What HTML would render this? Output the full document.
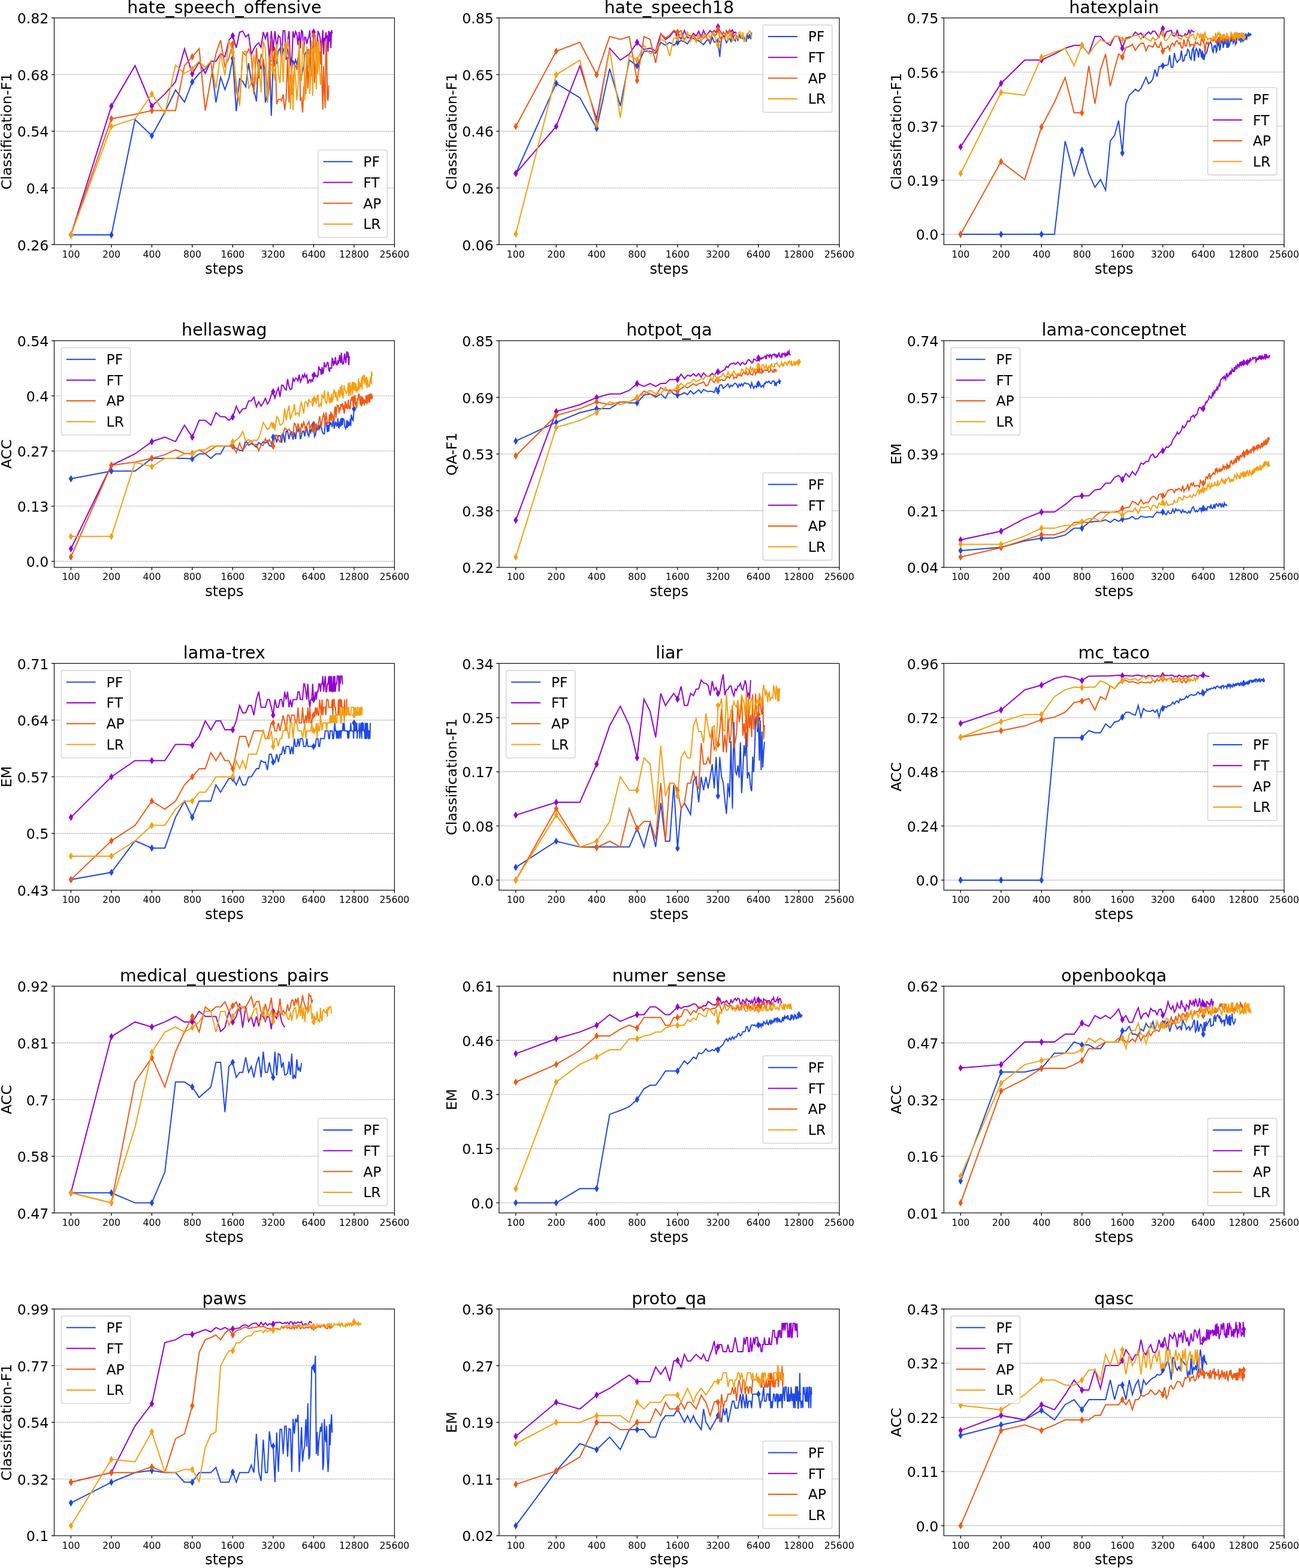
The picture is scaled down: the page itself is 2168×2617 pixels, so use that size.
<!DOCTYPE html><html><head><meta charset="utf-8"><style>html,body{margin:0;padding:0;background:#fff}svg{display:block}text{font-family:"DejaVu Sans","Liberation Sans",sans-serif;fill:#000}</style></head><body>
<svg width="2168" height="2617" viewBox="0 0 2168 2617">
<rect width="2168" height="2617" fill="#fff"/>
<g><clipPath id="c0"><rect x="90.5" y="29.9" width="567.9" height="378.4"/></clipPath><line x1="90.5" y1="313.7" x2="658.4" y2="313.7" stroke="#b0b0b0" stroke-width="1.1" stroke-dasharray="2.6,0.9"/><line x1="90.5" y1="219.1" x2="658.4" y2="219.1" stroke="#b0b0b0" stroke-width="1.1" stroke-dasharray="2.6,0.9"/><line x1="90.5" y1="124.5" x2="658.4" y2="124.5" stroke="#b0b0b0" stroke-width="1.1" stroke-dasharray="2.6,0.9"/><g clip-path="url(#c0)"><path d="M118.4,392.1 L185.9,392.1 L225.4,199.5 L253.4,226.5 L275.1,187.3 L292.9,150.2 L307.9,170.4 L320.9,136.7 L332.4,122.5 L342.6,115.0 L351.9,102.2 L360.4,171.1 L368.2,129.2 L375.4,149.5 L382.1,130.2 L388.4,97.5 L394.3,185.6 L399.9,131.6 L405.1,136.1 L410.1,144.8 L414.9,105.4 L419.4,136.5 L423.7,149.7 L427.9,169.1 L431.9,98.8 L435.7,115.6 L439.4,98.6 L442.9,171.1 L446.3,157.1 L449.6,95.7 L452.8,193.1 L455.9,101.5 L458.9,107.8 L461.8,105.8 L464.6,84.9 L467.4,80.8 L470.0,101.2 L472.6,81.8 L475.2,86.0 L477.6,88.1 L480.0,81.1 L482.4,98.0 L484.7,96.9 L486.9,118.4 L489.1,100.7 L491.2,107.1 L493.3,99.8 L495.4,108.3 L497.4,97.7 L499.4,89.5 L501.3,127.7 L503.2,127.6 L505.0,118.3 L506.9,110.8 L508.6,91.1 L510.4,87.6 L512.1,90.0 L513.8,82.1 L515.5,114.0 L517.1,95.0 L518.7,118.7 L520.3,94.3 L521.9,125.3 L523.4,79.9" fill="none" stroke="#1f48e6" stroke-width="2" stroke-linejoin="miter" stroke-miterlimit="4"/><path d="M118.4,386.0L122.1,392.1L118.4,398.2L114.7,392.1Z" fill="#1f48e6"/><path d="M185.9,386.0L189.6,392.1L185.9,398.2L182.2,392.1Z" fill="#1f48e6"/><path d="M253.4,220.4L257.1,226.5L253.4,232.6L249.7,226.5Z" fill="#1f48e6"/><path d="M320.9,130.6L324.6,136.7L320.9,142.8L317.2,136.7Z" fill="#1f48e6"/><path d="M388.4,91.4L392.1,97.5L388.4,103.6L384.7,97.5Z" fill="#1f48e6"/><path d="M455.9,95.4L459.6,101.5L455.9,107.6L452.2,101.5Z" fill="#1f48e6"/><path d="M523.4,73.8L527.1,79.9L523.4,86.0L519.7,79.9Z" fill="#1f48e6"/><path d="M118.4,392.1 L185.9,177.2 L225.4,109.6 L253.4,177.2 L275.1,156.9 L292.9,136.7 L307.9,81.3 L320.9,123.1 L332.4,103.6 L342.6,122.5 L351.9,102.2 L360.4,102.2 L368.2,89.4 L375.4,94.8 L382.1,67.2 L388.4,59.6 L394.3,79.7 L399.9,53.7 L405.1,51.9 L410.1,61.7 L414.9,57.4 L419.4,91.1 L423.7,81.2 L427.9,74.7 L431.9,71.7 L435.7,78.9 L439.4,53.3 L442.9,64.6 L446.3,53.6 L449.6,99.5 L452.8,51.7 L455.9,80.6 L458.9,51.8 L461.8,80.5 L464.6,59.3 L467.4,62.5 L470.0,93.3 L472.6,51.2 L475.2,51.5 L477.6,100.0 L480.0,68.1 L482.4,51.8 L484.7,107.1 L486.9,103.0 L489.1,52.1 L491.2,63.1 L493.3,52.5 L495.4,57.9 L497.4,75.2 L499.4,53.0 L501.3,80.8 L503.2,51.0 L505.0,53.1 L506.9,90.5 L508.6,61.8 L510.4,62.7 L512.1,73.3 L513.8,65.8 L515.5,60.9 L517.1,50.7 L518.7,82.9 L520.3,104.7 L521.9,105.6 L523.4,53.5 L524.9,59.5 L526.4,59.8 L527.9,79.9 L529.3,78.7 L530.7,51.6 L532.1,54.7 L533.5,59.7 L534.9,67.6 L536.2,89.7 L537.5,66.9 L538.8,50.4 L540.1,90.7 L541.4,62.9 L542.7,67.9 L543.9,54.1 L545.1,62.7 L546.3,60.7 L547.5,86.3 L548.7,51.2 L549.9,69.8 L551.0,52.8 L552.2,80.1 L553.3,50.3 L554.4,55.9" fill="none" stroke="#9400d3" stroke-width="2" stroke-linejoin="miter" stroke-miterlimit="4"/><path d="M118.4,386.0L122.1,392.1L118.4,398.2L114.7,392.1Z" fill="#9400d3"/><path d="M185.9,171.1L189.6,177.2L185.9,183.3L182.2,177.2Z" fill="#9400d3"/><path d="M253.4,171.1L257.1,177.2L253.4,183.3L249.7,177.2Z" fill="#9400d3"/><path d="M320.9,117.0L324.6,123.1L320.9,129.2L317.2,123.1Z" fill="#9400d3"/><path d="M388.4,53.5L392.1,59.6L388.4,65.7L384.7,59.6Z" fill="#9400d3"/><path d="M455.9,74.5L459.6,80.6L455.9,86.7L452.2,80.6Z" fill="#9400d3"/><path d="M523.4,47.4L527.1,53.5L523.4,59.6L519.7,53.5Z" fill="#9400d3"/><path d="M118.4,392.1 L185.9,198.2 L225.4,190.7 L253.4,184.6 L275.1,184.6 L292.9,184.6 L307.9,109.6 L320.9,94.8 L332.4,81.3 L342.6,184.6 L351.9,131.3 L360.4,89.4 L368.2,67.1 L375.4,111.0 L382.1,96.9 L388.4,73.1 L394.3,151.3 L399.9,172.4 L405.1,87.1 L410.1,92.7 L414.9,81.9 L419.4,91.8 L423.7,157.1 L427.9,79.5 L431.9,130.9 L435.7,90.1 L439.4,100.4 L442.9,117.9 L446.3,169.9 L449.6,140.4 L452.8,64.1 L455.9,108.3 L458.9,81.0 L461.8,173.9 L464.6,166.0 L467.4,165.4 L470.0,168.0 L472.6,157.5 L475.2,183.7 L477.6,163.7 L480.0,94.7 L482.4,170.8 L484.7,124.1 L486.9,158.5 L489.1,133.9 L491.2,116.6 L493.3,108.2 L495.4,116.6 L497.4,101.6 L499.4,76.4 L501.3,166.5 L503.2,163.7 L505.0,187.7 L506.9,149.9 L508.6,132.3 L510.4,157.2 L512.1,78.4 L513.8,147.9 L515.5,117.9 L517.1,83.6 L518.7,86.9 L520.3,128.0 L521.9,93.4 L523.4,59.6 L524.9,138.5 L526.4,111.6 L527.9,77.5 L529.3,123.7 L530.7,90.9 L532.1,90.9 L533.5,85.6 L534.9,107.6 L536.2,70.0 L537.5,144.1 L538.8,182.9 L540.1,110.5 L541.4,152.7 L542.7,180.2 L543.9,66.0 L545.1,78.6 L546.3,163.8 L547.5,167.9 L548.7,142.4" fill="none" stroke="#f05a14" stroke-width="2" stroke-linejoin="miter" stroke-miterlimit="4"/><path d="M118.4,386.0L122.1,392.1L118.4,398.2L114.7,392.1Z" fill="#f05a14"/><path d="M185.9,192.1L189.6,198.2L185.9,204.3L182.2,198.2Z" fill="#f05a14"/><path d="M253.4,178.5L257.1,184.6L253.4,190.7L249.7,184.6Z" fill="#f05a14"/><path d="M320.9,88.7L324.6,94.8L320.9,100.9L317.2,94.8Z" fill="#f05a14"/><path d="M388.4,67.0L392.1,73.1L388.4,79.2L384.7,73.1Z" fill="#f05a14"/><path d="M455.9,102.2L459.6,108.3L455.9,114.4L452.2,108.3Z" fill="#f05a14"/><path d="M523.4,53.5L527.1,59.6L523.4,65.7L519.7,59.6Z" fill="#f05a14"/><path d="M118.4,392.1 L185.9,211.0 L225.4,198.2 L253.4,156.9 L275.1,189.4 L292.9,109.0 L307.9,122.5 L320.9,115.0 L332.4,102.2 L342.6,113.0 L351.9,102.2 L360.4,147.5 L368.2,89.4 L375.4,125.9 L382.1,67.9 L388.4,87.3 L394.3,137.1 L399.9,176.9 L405.1,87.5 L410.1,85.6 L414.9,148.3 L419.4,138.0 L423.7,91.4 L427.9,141.5 L431.9,103.4 L435.7,154.3 L439.4,69.2 L442.9,81.6 L446.3,171.5 L449.6,98.4 L452.8,86.2 L455.9,117.7 L458.9,134.4 L461.8,72.8 L464.6,123.6 L467.4,138.8 L470.0,74.6 L472.6,137.1 L475.2,69.7 L477.6,95.7 L480.0,65.3 L482.4,79.3 L484.7,182.2 L486.9,104.3 L489.1,184.0 L491.2,108.8 L493.3,131.1 L495.4,167.4 L497.4,141.9 L499.4,68.4 L501.3,128.7 L503.2,134.7 L505.0,76.5 L506.9,66.5 L508.6,167.7 L510.4,118.6 L512.1,78.0 L513.8,110.6 L515.5,81.0 L517.1,157.1 L518.7,116.9 L520.3,67.4 L521.9,159.9 L523.4,84.0 L524.9,88.7 L526.4,59.4 L527.9,149.2 L529.3,68.7 L530.7,120.2 L532.1,66.3 L533.5,114.3 L534.9,141.7 L536.2,121.4" fill="none" stroke="#f5a013" stroke-width="2" stroke-linejoin="miter" stroke-miterlimit="4"/><path d="M118.4,386.0L122.1,392.1L118.4,398.2L114.7,392.1Z" fill="#f5a013"/><path d="M185.9,204.9L189.6,211.0L185.9,217.1L182.2,211.0Z" fill="#f5a013"/><path d="M253.4,150.8L257.1,156.9L253.4,163.0L249.7,156.9Z" fill="#f5a013"/><path d="M320.9,108.9L324.6,115.0L320.9,121.1L317.2,115.0Z" fill="#f5a013"/><path d="M388.4,81.2L392.1,87.3L388.4,93.4L384.7,87.3Z" fill="#f5a013"/><path d="M455.9,111.6L459.6,117.7L455.9,123.8L452.2,117.7Z" fill="#f5a013"/><path d="M523.4,77.9L527.1,84.0L523.4,90.1L519.7,84.0Z" fill="#f5a013"/></g><rect x="530.9" y="250.4" width="115.4" height="145.9" rx="3" ry="3" fill="#fff" fill-opacity="0.8" stroke="#d0d0d0" stroke-width="1.3"/><line x1="539.4" y1="269.8" x2="588.4" y2="269.8" stroke="#1f48e6" stroke-width="2"/><text x="606.3" y="278.1" font-size="23.4">PF</text><line x1="539.4" y1="304.5" x2="588.4" y2="304.5" stroke="#9400d3" stroke-width="2"/><text x="606.3" y="312.8" font-size="23.4">FT</text><line x1="539.4" y1="339.2" x2="588.4" y2="339.2" stroke="#f05a14" stroke-width="2"/><text x="606.3" y="347.5" font-size="23.4">AP</text><line x1="539.4" y1="373.9" x2="588.4" y2="373.9" stroke="#f5a013" stroke-width="2"/><text x="606.3" y="382.2" font-size="23.4">LR</text><rect x="90.5" y="29.9" width="567.9" height="378.4" fill="none" stroke="#1c1c1c" stroke-width="1.3"/><line x1="85.9" y1="408.3" x2="90.5" y2="408.3" stroke="#000" stroke-width="1.3"/><text x="81.4" y="417.6" font-size="23.6" text-anchor="end">0.26</text><line x1="85.9" y1="313.7" x2="90.5" y2="313.7" stroke="#000" stroke-width="1.3"/><text x="81.4" y="323.0" font-size="23.6" text-anchor="end">0.4</text><line x1="85.9" y1="219.1" x2="90.5" y2="219.1" stroke="#000" stroke-width="1.3"/><text x="81.4" y="228.4" font-size="23.6" text-anchor="end">0.54</text><line x1="85.9" y1="124.5" x2="90.5" y2="124.5" stroke="#000" stroke-width="1.3"/><text x="81.4" y="133.8" font-size="23.6" text-anchor="end">0.68</text><line x1="85.9" y1="29.9" x2="90.5" y2="29.9" stroke="#000" stroke-width="1.3"/><text x="81.4" y="39.2" font-size="23.6" text-anchor="end">0.82</text><line x1="118.4" y1="408.3" x2="118.4" y2="412.9" stroke="#000" stroke-width="1.3"/><text x="118.4" y="429.7" font-size="15.7" text-anchor="middle">100</text><line x1="185.9" y1="408.3" x2="185.9" y2="412.9" stroke="#000" stroke-width="1.3"/><text x="185.9" y="429.7" font-size="15.7" text-anchor="middle">200</text><line x1="253.4" y1="408.3" x2="253.4" y2="412.9" stroke="#000" stroke-width="1.3"/><text x="253.4" y="429.7" font-size="15.7" text-anchor="middle">400</text><line x1="320.9" y1="408.3" x2="320.9" y2="412.9" stroke="#000" stroke-width="1.3"/><text x="320.9" y="429.7" font-size="15.7" text-anchor="middle">800</text><line x1="388.4" y1="408.3" x2="388.4" y2="412.9" stroke="#000" stroke-width="1.3"/><text x="388.4" y="429.7" font-size="15.7" text-anchor="middle">1600</text><line x1="455.9" y1="408.3" x2="455.9" y2="412.9" stroke="#000" stroke-width="1.3"/><text x="455.9" y="429.7" font-size="15.7" text-anchor="middle">3200</text><line x1="523.4" y1="408.3" x2="523.4" y2="412.9" stroke="#000" stroke-width="1.3"/><text x="523.4" y="429.7" font-size="15.7" text-anchor="middle">6400</text><line x1="590.9" y1="408.3" x2="590.9" y2="412.9" stroke="#000" stroke-width="1.3"/><text x="590.9" y="429.7" font-size="15.7" text-anchor="middle">12800</text><line x1="658.4" y1="408.3" x2="658.4" y2="412.9" stroke="#000" stroke-width="1.3"/><text x="658.4" y="429.7" font-size="15.7" text-anchor="middle">25600</text><text x="374.4" y="456.5" font-size="24" text-anchor="middle">steps</text><text transform="translate(19.2,219.1) rotate(-90)" font-size="23.8" text-anchor="middle">Classification-F1</text><text x="374.4" y="21.7" font-size="28.5" text-anchor="middle">hate_speech_offensive</text></g>
<g><clipPath id="c1"><rect x="832.9" y="29.9" width="567.9" height="378.4"/></clipPath><line x1="832.9" y1="313.7" x2="1400.8" y2="313.7" stroke="#b0b0b0" stroke-width="1.1" stroke-dasharray="2.6,0.9"/><line x1="832.9" y1="219.1" x2="1400.8" y2="219.1" stroke="#b0b0b0" stroke-width="1.1" stroke-dasharray="2.6,0.9"/><line x1="832.9" y1="124.5" x2="1400.8" y2="124.5" stroke="#b0b0b0" stroke-width="1.1" stroke-dasharray="2.6,0.9"/><g clip-path="url(#c1)"><path d="M860.8,289.5 L928.3,139.1 L967.8,163.1 L995.8,214.3 L1017.5,114.7 L1035.3,176.9 L1050.3,100.3 L1063.3,109.9 L1074.8,85.5 L1085.0,85.5 L1094.3,88.8 L1102.8,70.6 L1110.6,75.4 L1117.8,70.6 L1124.5,75.4 L1130.8,70.6 L1136.7,67.9 L1142.3,69.8 L1147.5,73.2 L1152.5,64.6 L1157.3,64.1 L1161.8,68.0 L1166.1,67.8 L1170.3,71.4 L1174.3,74.5 L1178.1,69.0 L1181.8,65.7 L1185.3,72.9 L1188.7,62.2 L1192.0,70.1 L1195.2,69.9 L1198.3,69.2 L1201.3,95.0 L1204.2,61.9 L1207.0,59.7 L1209.8,63.2 L1212.4,71.3 L1215.0,66.9 L1217.6,64.2 L1220.0,69.5 L1222.4,57.3 L1224.8,65.5 L1227.1,68.3 L1229.3,58.6 L1231.5,68.4 L1233.6,56.7 L1235.7,63.3 L1237.8,61.7 L1239.8,64.5 L1241.8,62.3 L1243.7,66.5 L1245.6,68.4 L1247.4,56.4 L1249.3,65.3 L1251.0,57.3 L1252.8,65.4 L1254.5,54.3" fill="none" stroke="#1f48e6" stroke-width="2" stroke-linejoin="miter" stroke-miterlimit="4"/><path d="M860.8,283.4L864.5,289.5L860.8,295.6L857.1,289.5Z" fill="#1f48e6"/><path d="M928.3,133.0L932.0,139.1L928.3,145.2L924.6,139.1Z" fill="#1f48e6"/><path d="M995.8,208.2L999.5,214.3L995.8,220.4L992.1,214.3Z" fill="#1f48e6"/><path d="M1063.3,103.8L1067.0,109.9L1063.3,116.0L1059.6,109.9Z" fill="#1f48e6"/><path d="M1130.8,64.5L1134.5,70.6L1130.8,76.7L1127.1,70.6Z" fill="#1f48e6"/><path d="M1198.3,63.1L1202.0,69.2L1198.3,75.3L1194.6,69.2Z" fill="#1f48e6"/><path d="M860.8,289.5 L928.3,211.0 L967.8,109.9 L995.8,199.5 L1017.5,80.7 L1035.3,100.3 L1050.3,90.3 L1063.3,70.6 L1074.8,82.6 L1085.0,80.2 L1094.3,85.0 L1102.8,56.2 L1110.6,65.8 L1117.8,61.0 L1124.5,52.1 L1130.8,58.6 L1136.7,65.2 L1142.3,51.1 L1147.5,62.7 L1152.5,63.5 L1157.3,55.7 L1161.8,60.0 L1166.1,52.1 L1170.3,61.4 L1174.3,50.9 L1178.1,60.0 L1181.8,55.9 L1185.3,51.0 L1188.7,54.5 L1192.0,51.0 L1195.2,54.0 L1198.3,44.7 L1201.3,51.4 L1204.2,55.5 L1207.0,59.5 L1209.8,61.1 L1212.4,51.6 L1215.0,55.4 L1217.6,50.2 L1220.0,52.5 L1222.4,49.8 L1224.8,55.4 L1227.1,53.4 L1229.3,54.6" fill="none" stroke="#9400d3" stroke-width="2" stroke-linejoin="miter" stroke-miterlimit="4"/><path d="M860.8,283.4L864.5,289.5L860.8,295.6L857.1,289.5Z" fill="#9400d3"/><path d="M928.3,204.9L932.0,211.0L928.3,217.1L924.6,211.0Z" fill="#9400d3"/><path d="M995.8,193.4L999.5,199.5L995.8,205.6L992.1,199.5Z" fill="#9400d3"/><path d="M1063.3,64.5L1067.0,70.6L1063.3,76.7L1059.6,70.6Z" fill="#9400d3"/><path d="M1130.8,52.5L1134.5,58.6L1130.8,64.7L1127.1,58.6Z" fill="#9400d3"/><path d="M1198.3,38.6L1202.0,44.7L1198.3,50.8L1194.6,44.7Z" fill="#9400d3"/><path d="M860.8,211.0 L928.3,85.5 L967.8,70.6 L995.8,124.7 L1017.5,61.0 L1035.3,65.8 L1050.3,61.0 L1063.3,134.3 L1074.8,61.0 L1085.0,65.8 L1094.3,105.1 L1102.8,56.2 L1110.6,63.4 L1117.8,58.6 L1124.5,50.5 L1130.8,53.8 L1136.7,51.1 L1142.3,66.6 L1147.5,56.9 L1152.5,60.1 L1157.3,58.1 L1161.8,65.7 L1166.1,64.5 L1170.3,59.7 L1174.3,64.0 L1178.1,59.5 L1181.8,67.7 L1185.3,66.6 L1188.7,54.6 L1192.0,60.1 L1195.2,58.4 L1198.3,49.1 L1201.3,61.3 L1204.2,67.1 L1207.0,53.2 L1209.8,56.9 L1212.4,55.6 L1215.0,56.3 L1217.6,49.6 L1220.0,61.3 L1222.4,53.7 L1224.8,61.2 L1227.1,57.3 L1229.3,55.6" fill="none" stroke="#f05a14" stroke-width="2" stroke-linejoin="miter" stroke-miterlimit="4"/><path d="M860.8,204.9L864.5,211.0L860.8,217.1L857.1,211.0Z" fill="#f05a14"/><path d="M928.3,79.4L932.0,85.5L928.3,91.6L924.6,85.5Z" fill="#f05a14"/><path d="M995.8,118.6L999.5,124.7L995.8,130.8L992.1,124.7Z" fill="#f05a14"/><path d="M1063.3,128.2L1067.0,134.3L1063.3,140.4L1059.6,134.3Z" fill="#f05a14"/><path d="M1130.8,47.7L1134.5,53.8L1130.8,59.9L1127.1,53.8Z" fill="#f05a14"/><path d="M1198.3,43.0L1202.0,49.1L1198.3,55.2L1194.6,49.1Z" fill="#f05a14"/><path d="M860.8,390.6 L928.3,124.7 L967.8,100.3 L995.8,207.6 L1017.5,82.1 L1035.3,196.6 L1050.3,92.2 L1063.3,100.3 L1074.8,75.4 L1085.0,90.3 L1094.3,85.5 L1102.8,65.8 L1110.6,69.2 L1117.8,93.6 L1124.5,63.4 L1130.8,63.4 L1136.7,56.8 L1142.3,69.3 L1147.5,53.6 L1152.5,68.9 L1157.3,59.6 L1161.8,70.6 L1166.1,57.8 L1170.3,69.3 L1174.3,58.6 L1178.1,58.2 L1181.8,57.3 L1185.3,63.5 L1188.7,55.3 L1192.0,52.9 L1195.2,69.5 L1198.3,75.4 L1201.3,53.3 L1204.2,57.4 L1207.0,63.0 L1209.8,65.6 L1212.4,53.2 L1215.0,69.7 L1217.6,56.8 L1220.0,55.1 L1222.4,68.2 L1224.8,64.9 L1227.1,65.3 L1229.3,60.7 L1231.5,64.0 L1233.6,53.9 L1235.7,53.3 L1237.8,64.9 L1239.8,53.8 L1241.8,69.5 L1243.7,69.0 L1245.6,58.0 L1247.4,55.4 L1249.3,55.0 L1251.0,51.7 L1252.8,54.2 L1254.5,65.5" fill="none" stroke="#f5a013" stroke-width="2" stroke-linejoin="miter" stroke-miterlimit="4"/><path d="M860.8,384.5L864.5,390.6L860.8,396.7L857.1,390.6Z" fill="#f5a013"/><path d="M928.3,118.6L932.0,124.7L928.3,130.8L924.6,124.7Z" fill="#f5a013"/><path d="M995.8,201.5L999.5,207.6L995.8,213.7L992.1,207.6Z" fill="#f5a013"/><path d="M1063.3,94.2L1067.0,100.3L1063.3,106.4L1059.6,100.3Z" fill="#f5a013"/><path d="M1130.8,57.3L1134.5,63.4L1130.8,69.5L1127.1,63.4Z" fill="#f5a013"/><path d="M1198.3,69.3L1202.0,75.4L1198.3,81.5L1194.6,75.4Z" fill="#f5a013"/></g><rect x="1273.3" y="41.6" width="115.4" height="145.9" rx="3" ry="3" fill="#fff" fill-opacity="0.8" stroke="#d0d0d0" stroke-width="1.3"/><line x1="1281.8" y1="61.0" x2="1330.8" y2="61.0" stroke="#1f48e6" stroke-width="2"/><text x="1348.7" y="69.3" font-size="23.4">PF</text><line x1="1281.8" y1="95.7" x2="1330.8" y2="95.7" stroke="#9400d3" stroke-width="2"/><text x="1348.7" y="104.0" font-size="23.4">FT</text><line x1="1281.8" y1="130.4" x2="1330.8" y2="130.4" stroke="#f05a14" stroke-width="2"/><text x="1348.7" y="138.7" font-size="23.4">AP</text><line x1="1281.8" y1="165.1" x2="1330.8" y2="165.1" stroke="#f5a013" stroke-width="2"/><text x="1348.7" y="173.4" font-size="23.4">LR</text><rect x="832.9" y="29.9" width="567.9" height="378.4" fill="none" stroke="#1c1c1c" stroke-width="1.3"/><line x1="828.3" y1="408.3" x2="832.9" y2="408.3" stroke="#000" stroke-width="1.3"/><text x="823.8" y="417.6" font-size="23.6" text-anchor="end">0.06</text><line x1="828.3" y1="313.7" x2="832.9" y2="313.7" stroke="#000" stroke-width="1.3"/><text x="823.8" y="323.0" font-size="23.6" text-anchor="end">0.26</text><line x1="828.3" y1="219.1" x2="832.9" y2="219.1" stroke="#000" stroke-width="1.3"/><text x="823.8" y="228.4" font-size="23.6" text-anchor="end">0.46</text><line x1="828.3" y1="124.5" x2="832.9" y2="124.5" stroke="#000" stroke-width="1.3"/><text x="823.8" y="133.8" font-size="23.6" text-anchor="end">0.65</text><line x1="828.3" y1="29.9" x2="832.9" y2="29.9" stroke="#000" stroke-width="1.3"/><text x="823.8" y="39.2" font-size="23.6" text-anchor="end">0.85</text><line x1="860.8" y1="408.3" x2="860.8" y2="412.9" stroke="#000" stroke-width="1.3"/><text x="860.8" y="429.7" font-size="15.7" text-anchor="middle">100</text><line x1="928.3" y1="408.3" x2="928.3" y2="412.9" stroke="#000" stroke-width="1.3"/><text x="928.3" y="429.7" font-size="15.7" text-anchor="middle">200</text><line x1="995.8" y1="408.3" x2="995.8" y2="412.9" stroke="#000" stroke-width="1.3"/><text x="995.8" y="429.7" font-size="15.7" text-anchor="middle">400</text><line x1="1063.3" y1="408.3" x2="1063.3" y2="412.9" stroke="#000" stroke-width="1.3"/><text x="1063.3" y="429.7" font-size="15.7" text-anchor="middle">800</text><line x1="1130.8" y1="408.3" x2="1130.8" y2="412.9" stroke="#000" stroke-width="1.3"/><text x="1130.8" y="429.7" font-size="15.7" text-anchor="middle">1600</text><line x1="1198.3" y1="408.3" x2="1198.3" y2="412.9" stroke="#000" stroke-width="1.3"/><text x="1198.3" y="429.7" font-size="15.7" text-anchor="middle">3200</text><line x1="1265.8" y1="408.3" x2="1265.8" y2="412.9" stroke="#000" stroke-width="1.3"/><text x="1265.8" y="429.7" font-size="15.7" text-anchor="middle">6400</text><line x1="1333.3" y1="408.3" x2="1333.3" y2="412.9" stroke="#000" stroke-width="1.3"/><text x="1333.3" y="429.7" font-size="15.7" text-anchor="middle">12800</text><line x1="1400.8" y1="408.3" x2="1400.8" y2="412.9" stroke="#000" stroke-width="1.3"/><text x="1400.8" y="429.7" font-size="15.7" text-anchor="middle">25600</text><text x="1116.8" y="456.5" font-size="24" text-anchor="middle">steps</text><text transform="translate(761.6,219.1) rotate(-90)" font-size="23.8" text-anchor="middle">Classification-F1</text><text x="1116.8" y="21.7" font-size="28.5" text-anchor="middle">hate_speech18</text></g>
<g><clipPath id="c2"><rect x="1575.3" y="29.9" width="567.9" height="378.4"/></clipPath><line x1="1575.3" y1="391.1" x2="2143.2" y2="391.1" stroke="#b0b0b0" stroke-width="1.1" stroke-dasharray="2.6,0.9"/><line x1="1575.3" y1="300.8" x2="2143.2" y2="300.8" stroke="#b0b0b0" stroke-width="1.1" stroke-dasharray="2.6,0.9"/><line x1="1575.3" y1="210.5" x2="2143.2" y2="210.5" stroke="#b0b0b0" stroke-width="1.1" stroke-dasharray="2.6,0.9"/><line x1="1575.3" y1="120.2" x2="2143.2" y2="120.2" stroke="#b0b0b0" stroke-width="1.1" stroke-dasharray="2.6,0.9"/><g clip-path="url(#c2)"><path d="M1603.2,391.1 L1670.7,391.1 L1710.2,391.1 L1738.2,391.1 L1759.9,391.1 L1777.7,235.5 L1792.7,292.9 L1805.7,250.5 L1817.2,289.5 L1827.4,312.6 L1836.7,299.6 L1845.2,317.4 L1853.0,235.5 L1860.2,225.9 L1866.9,201.3 L1873.2,255.3 L1879.1,173.4 L1884.7,159.0 L1889.9,154.2 L1894.9,148.9 L1899.7,152.4 L1904.2,147.4 L1908.5,138.2 L1912.7,128.9 L1916.7,139.7 L1920.5,137.3 L1924.2,131.5 L1927.7,116.0 L1931.1,127.9 L1934.4,111.0 L1937.6,110.3 L1940.7,109.8 L1943.7,108.9 L1946.6,109.1 L1949.4,108.1 L1952.2,92.2 L1954.8,112.2 L1957.4,112.2 L1960.0,88.4 L1962.4,99.7 L1964.8,104.1 L1967.2,100.4 L1969.5,99.1 L1971.7,84.4 L1973.9,101.9 L1976.0,101.3 L1978.1,92.0 L1980.2,92.4 L1982.2,82.2 L1984.2,84.6 L1986.1,95.8 L1988.0,99.1 L1989.8,83.5 L1991.7,79.4 L1993.4,102.1 L1995.2,84.8 L1996.9,81.2 L1998.6,86.1 L2000.3,96.1 L2001.9,81.9 L2003.5,83.1 L2005.1,95.7 L2006.7,84.6 L2008.2,94.5 L2009.7,98.0 L2011.2,90.3 L2012.7,89.6 L2014.1,87.5 L2015.5,81.0 L2016.9,76.1 L2018.3,72.7 L2019.7,71.8 L2021.0,70.9 L2022.3,74.9 L2023.6,85.1 L2024.9,87.4 L2026.2,77.0 L2027.5,78.2 L2028.7,74.8 L2029.9,86.8 L2031.1,84.2 L2032.3,68.3 L2033.5,74.6 L2034.7,72.2 L2035.8,84.3 L2037.0,77.5 L2038.1,66.7 L2039.2,71.6 L2040.3,64.3 L2041.4,79.9 L2042.5,74.3 L2043.5,67.1 L2044.6,73.7 L2045.6,66.6 L2046.7,70.7 L2047.7,78.9 L2048.7,78.8 L2049.7,61.6 L2050.7,77.6 L2051.7,75.8 L2052.6,72.8 L2053.6,65.4 L2054.5,62.5 L2055.5,69.1 L2056.4,68.3 L2057.3,62.7 L2058.2,71.6 L2059.2,69.6 L2060.1,65.0 L2060.9,64.2 L2061.8,74.4 L2062.7,72.8 L2063.6,72.0 L2064.4,61.5 L2065.3,61.7 L2066.1,56.7 L2066.9,59.9 L2067.8,68.3 L2068.6,59.4 L2069.4,55.4 L2070.2,65.7 L2071.0,71.0 L2071.8,64.7 L2072.6,65.9 L2073.4,67.3 L2074.2,69.1 L2074.9,67.5 L2075.7,60.7 L2076.5,68.2 L2077.2,59.1 L2078.0,65.3 L2078.7,65.4 L2079.4,55.5 L2080.2,63.4 L2080.9,65.0 L2081.6,60.7 L2082.3,56.9 L2083.0,59.4 L2083.7,54.2 L2084.4,60.9 L2085.1,59.0 L2085.8,56.0 L2086.5,59.6 L2087.2,55.8 L2087.8,59.3" fill="none" stroke="#1f48e6" stroke-width="2" stroke-linejoin="miter" stroke-miterlimit="4"/><path d="M1603.2,385.0L1606.9,391.1L1603.2,397.2L1599.5,391.1Z" fill="#1f48e6"/><path d="M1670.7,385.0L1674.4,391.1L1670.7,397.2L1667.0,391.1Z" fill="#1f48e6"/><path d="M1738.2,385.0L1741.9,391.1L1738.2,397.2L1734.5,391.1Z" fill="#1f48e6"/><path d="M1805.7,244.4L1809.4,250.5L1805.7,256.6L1802.0,250.5Z" fill="#1f48e6"/><path d="M1873.2,249.2L1876.9,255.3L1873.2,261.4L1869.5,255.3Z" fill="#1f48e6"/><path d="M1940.7,103.7L1944.4,109.8L1940.7,115.9L1937.0,109.8Z" fill="#1f48e6"/><path d="M2008.2,88.4L2011.9,94.5L2008.2,100.6L2004.5,94.5Z" fill="#1f48e6"/><path d="M2075.7,54.6L2079.4,60.7L2075.7,66.8L2072.0,60.7Z" fill="#1f48e6"/><path d="M1603.2,245.2 L1670.7,139.2 L1710.2,100.2 L1738.2,100.2 L1759.9,90.1 L1777.7,80.5 L1792.7,75.7 L1805.7,75.7 L1817.2,90.1 L1827.4,60.7 L1836.7,60.7 L1845.2,70.8 L1853.0,75.7 L1860.2,60.7 L1866.9,60.7 L1873.2,80.5 L1879.1,63.7 L1884.7,61.9 L1889.9,60.6 L1894.9,53.5 L1899.7,58.0 L1904.2,55.2 L1908.5,62.2 L1912.7,57.3 L1916.7,53.2 L1920.5,56.8 L1924.2,51.8 L1927.7,52.3 L1931.1,58.1 L1934.4,62.2 L1937.6,53.4 L1940.7,47.7 L1943.7,61.7 L1946.6,53.3 L1949.4,51.9 L1952.2,51.8 L1954.8,50.4 L1957.4,58.9 L1960.0,60.2 L1962.4,59.7 L1964.8,49.7 L1967.2,59.6 L1969.5,58.9 L1971.7,60.4 L1973.9,60.0 L1976.0,60.0 L1978.1,56.3 L1980.2,58.4 L1982.2,56.7 L1984.2,49.4 L1986.1,58.1 L1988.0,50.6 L1989.8,51.4 L1991.7,53.3 L1993.4,53.1" fill="none" stroke="#9400d3" stroke-width="2" stroke-linejoin="miter" stroke-miterlimit="4"/><path d="M1603.2,239.1L1606.9,245.2L1603.2,251.3L1599.5,245.2Z" fill="#9400d3"/><path d="M1670.7,133.1L1674.4,139.2L1670.7,145.3L1667.0,139.2Z" fill="#9400d3"/><path d="M1738.2,94.1L1741.9,100.2L1738.2,106.3L1734.5,100.2Z" fill="#9400d3"/><path d="M1805.7,69.6L1809.4,75.7L1805.7,81.8L1802.0,75.7Z" fill="#9400d3"/><path d="M1873.2,74.4L1876.9,80.5L1873.2,86.6L1869.5,80.5Z" fill="#9400d3"/><path d="M1940.7,41.6L1944.4,47.7L1940.7,53.8L1937.0,47.7Z" fill="#9400d3"/><path d="M1603.2,391.1 L1670.7,269.7 L1710.2,299.6 L1738.2,211.9 L1759.9,170.5 L1777.7,129.6 L1792.7,188.3 L1805.7,188.3 L1817.2,109.8 L1827.4,173.4 L1836.7,116.6 L1845.2,90.1 L1853.0,144.0 L1860.2,114.7 L1866.9,90.1 L1873.2,95.4 L1879.1,79.1 L1884.7,77.7 L1889.9,74.1 L1894.9,84.0 L1899.7,76.9 L1904.2,72.3 L1908.5,71.9 L1912.7,84.8 L1916.7,76.3 L1920.5,76.8 L1924.2,78.6 L1927.7,70.5 L1931.1,77.9 L1934.4,79.2 L1937.6,70.7 L1940.7,85.3 L1943.7,81.0 L1946.6,80.4 L1949.4,76.9 L1952.2,83.8 L1954.8,74.3 L1957.4,71.9 L1960.0,76.5 L1962.4,69.4 L1964.8,67.8 L1967.2,73.4 L1969.5,71.1 L1971.7,79.6 L1973.9,80.2 L1976.0,65.6 L1978.1,76.0 L1980.2,76.8 L1982.2,66.1 L1984.2,68.1 L1986.1,77.3 L1988.0,74.0 L1989.8,74.9 L1991.7,74.2 L1993.4,77.8 L1995.2,69.9 L1996.9,72.9 L1998.6,71.3 L2000.3,74.1 L2001.9,75.0 L2003.5,75.8 L2005.1,63.5 L2006.7,65.1 L2008.2,66.0 L2009.7,73.6 L2011.2,90.1 L2012.7,73.3 L2014.1,70.4 L2015.5,73.8 L2016.9,70.6 L2018.3,71.4 L2019.7,71.4 L2021.0,65.0 L2022.3,67.5 L2023.6,67.1 L2024.9,68.6 L2026.2,66.0 L2027.5,62.5 L2028.7,68.8 L2029.9,71.8 L2031.1,66.2 L2032.3,67.4 L2033.5,62.0 L2034.7,70.7 L2035.8,60.6 L2037.0,71.7 L2038.1,64.7 L2039.2,65.8 L2040.3,67.4 L2041.4,59.9 L2042.5,62.2 L2043.5,69.0 L2044.6,64.6 L2045.6,63.0 L2046.7,70.2 L2047.7,69.4 L2048.7,62.8 L2049.7,61.1 L2050.7,64.3 L2051.7,64.8 L2052.6,63.6 L2053.6,66.5 L2054.5,58.8 L2055.5,57.7 L2056.4,63.5 L2057.3,69.1 L2058.2,64.3 L2059.2,59.3 L2060.1,65.0 L2060.9,67.6 L2061.8,66.5 L2062.7,60.0 L2063.6,61.0 L2064.4,65.0 L2065.3,60.8 L2066.1,59.1 L2066.9,56.6 L2067.8,58.1 L2068.6,62.7 L2069.4,58.2 L2070.2,56.8 L2071.0,57.4 L2071.8,58.7 L2072.6,60.5 L2073.4,61.3 L2074.2,57.3 L2074.9,59.8 L2075.7,62.6" fill="none" stroke="#f05a14" stroke-width="2" stroke-linejoin="miter" stroke-miterlimit="4"/><path d="M1603.2,385.0L1606.9,391.1L1603.2,397.2L1599.5,391.1Z" fill="#f05a14"/><path d="M1670.7,263.6L1674.4,269.7L1670.7,275.8L1667.0,269.7Z" fill="#f05a14"/><path d="M1738.2,205.8L1741.9,211.9L1738.2,218.0L1734.5,211.9Z" fill="#f05a14"/><path d="M1805.7,182.2L1809.4,188.3L1805.7,194.4L1802.0,188.3Z" fill="#f05a14"/><path d="M1873.2,89.3L1876.9,95.4L1873.2,101.5L1869.5,95.4Z" fill="#f05a14"/><path d="M1940.7,79.2L1944.4,85.3L1940.7,91.4L1937.0,85.3Z" fill="#f05a14"/><path d="M2008.2,59.9L2011.9,66.0L2008.2,72.1L2004.5,66.0Z" fill="#f05a14"/><path d="M2075.7,56.5L2079.4,62.6L2075.7,68.7L2072.0,62.6Z" fill="#f05a14"/><path d="M1603.2,289.5 L1670.7,154.2 L1710.2,159.0 L1738.2,95.4 L1759.9,87.2 L1777.7,80.5 L1792.7,109.8 L1805.7,75.7 L1817.2,90.1 L1827.4,75.7 L1836.7,66.0 L1845.2,70.8 L1853.0,70.8 L1860.2,60.7 L1866.9,60.7 L1873.2,66.0 L1879.1,65.6 L1884.7,64.3 L1889.9,60.2 L1894.9,59.0 L1899.7,58.9 L1904.2,66.0 L1908.5,57.2 L1912.7,64.5 L1916.7,65.9 L1920.5,68.6 L1924.2,62.3 L1927.7,67.2 L1931.1,65.2 L1934.4,60.1 L1937.6,57.5 L1940.7,55.9 L1943.7,67.2 L1946.6,67.5 L1949.4,64.7 L1952.2,60.5 L1954.8,56.3 L1957.4,56.9 L1960.0,54.9 L1962.4,59.9 L1964.8,59.2 L1967.2,64.2 L1969.5,63.9 L1971.7,65.5 L1973.9,60.7 L1976.0,59.7 L1978.1,60.1 L1980.2,62.8 L1982.2,62.3 L1984.2,64.8 L1986.1,56.7 L1988.0,60.0 L1989.8,57.6 L1991.7,56.7 L1993.4,64.4 L1995.2,66.7 L1996.9,64.3 L1998.6,55.3 L2000.3,57.0 L2001.9,62.6 L2003.5,57.2 L2005.1,63.5 L2006.7,55.9 L2008.2,62.6 L2009.7,57.7 L2011.2,54.3 L2012.7,62.4 L2014.1,61.8 L2015.5,66.5 L2016.9,64.5 L2018.3,65.0 L2019.7,64.1 L2021.0,67.4 L2022.3,64.1 L2023.6,66.9 L2024.9,60.8 L2026.2,62.6 L2027.5,65.1 L2028.7,54.8 L2029.9,64.0 L2031.1,60.7 L2032.3,55.5 L2033.5,57.5 L2034.7,54.5 L2035.8,59.6 L2037.0,55.8 L2038.1,67.5 L2039.2,57.8 L2040.3,63.6 L2041.4,63.8 L2042.5,57.3 L2043.5,57.7 L2044.6,63.5 L2045.6,63.2 L2046.7,64.4 L2047.7,54.9 L2048.7,59.5 L2049.7,64.7 L2050.7,60.7 L2051.7,67.6 L2052.6,64.5 L2053.6,61.2 L2054.5,54.4 L2055.5,56.0 L2056.4,60.5 L2057.3,57.4 L2058.2,64.8 L2059.2,58.4 L2060.1,54.0 L2060.9,66.2 L2061.8,55.0 L2062.7,54.2 L2063.6,63.1 L2064.4,56.7 L2065.3,54.1 L2066.1,66.3 L2066.9,61.7 L2067.8,59.8 L2068.6,57.0 L2069.4,64.6 L2070.2,57.6 L2071.0,58.3 L2071.8,56.0 L2072.6,57.8 L2073.4,56.0 L2074.2,59.7 L2074.9,60.6 L2075.7,61.8" fill="none" stroke="#f5a013" stroke-width="2" stroke-linejoin="miter" stroke-miterlimit="4"/><path d="M1603.2,283.4L1606.9,289.5L1603.2,295.6L1599.5,289.5Z" fill="#f5a013"/><path d="M1670.7,148.1L1674.4,154.2L1670.7,160.3L1667.0,154.2Z" fill="#f5a013"/><path d="M1738.2,89.3L1741.9,95.4L1738.2,101.5L1734.5,95.4Z" fill="#f5a013"/><path d="M1805.7,69.6L1809.4,75.7L1805.7,81.8L1802.0,75.7Z" fill="#f5a013"/><path d="M1873.2,59.9L1876.9,66.0L1873.2,72.1L1869.5,66.0Z" fill="#f5a013"/><path d="M1940.7,49.8L1944.4,55.9L1940.7,62.0L1937.0,55.9Z" fill="#f5a013"/><path d="M2008.2,56.5L2011.9,62.6L2008.2,68.7L2004.5,62.6Z" fill="#f5a013"/><path d="M2075.7,55.7L2079.4,61.8L2075.7,67.9L2072.0,61.8Z" fill="#f5a013"/></g><rect x="2015.7" y="146.1" width="115.4" height="145.9" rx="3" ry="3" fill="#fff" fill-opacity="0.8" stroke="#d0d0d0" stroke-width="1.3"/><line x1="2024.2" y1="165.5" x2="2073.2" y2="165.5" stroke="#1f48e6" stroke-width="2"/><text x="2091.1" y="173.8" font-size="23.4">PF</text><line x1="2024.2" y1="200.2" x2="2073.2" y2="200.2" stroke="#9400d3" stroke-width="2"/><text x="2091.1" y="208.6" font-size="23.4">FT</text><line x1="2024.2" y1="234.9" x2="2073.2" y2="234.9" stroke="#f05a14" stroke-width="2"/><text x="2091.1" y="243.2" font-size="23.4">AP</text><line x1="2024.2" y1="269.6" x2="2073.2" y2="269.6" stroke="#f5a013" stroke-width="2"/><text x="2091.1" y="277.9" font-size="23.4">LR</text><rect x="1575.3" y="29.9" width="567.9" height="378.4" fill="none" stroke="#1c1c1c" stroke-width="1.3"/><line x1="1570.7" y1="391.1" x2="1575.3" y2="391.1" stroke="#000" stroke-width="1.3"/><text x="1566.2" y="400.4" font-size="23.6" text-anchor="end">0.0</text><line x1="1570.7" y1="300.8" x2="1575.3" y2="300.8" stroke="#000" stroke-width="1.3"/><text x="1566.2" y="310.1" font-size="23.6" text-anchor="end">0.19</text><line x1="1570.7" y1="210.5" x2="1575.3" y2="210.5" stroke="#000" stroke-width="1.3"/><text x="1566.2" y="219.8" font-size="23.6" text-anchor="end">0.37</text><line x1="1570.7" y1="120.2" x2="1575.3" y2="120.2" stroke="#000" stroke-width="1.3"/><text x="1566.2" y="129.5" font-size="23.6" text-anchor="end">0.56</text><line x1="1570.7" y1="29.9" x2="1575.3" y2="29.9" stroke="#000" stroke-width="1.3"/><text x="1566.2" y="39.2" font-size="23.6" text-anchor="end">0.75</text><line x1="1603.2" y1="408.3" x2="1603.2" y2="412.9" stroke="#000" stroke-width="1.3"/><text x="1603.2" y="429.7" font-size="15.7" text-anchor="middle">100</text><line x1="1670.7" y1="408.3" x2="1670.7" y2="412.9" stroke="#000" stroke-width="1.3"/><text x="1670.7" y="429.7" font-size="15.7" text-anchor="middle">200</text><line x1="1738.2" y1="408.3" x2="1738.2" y2="412.9" stroke="#000" stroke-width="1.3"/><text x="1738.2" y="429.7" font-size="15.7" text-anchor="middle">400</text><line x1="1805.7" y1="408.3" x2="1805.7" y2="412.9" stroke="#000" stroke-width="1.3"/><text x="1805.7" y="429.7" font-size="15.7" text-anchor="middle">800</text><line x1="1873.2" y1="408.3" x2="1873.2" y2="412.9" stroke="#000" stroke-width="1.3"/><text x="1873.2" y="429.7" font-size="15.7" text-anchor="middle">1600</text><line x1="1940.7" y1="408.3" x2="1940.7" y2="412.9" stroke="#000" stroke-width="1.3"/><text x="1940.7" y="429.7" font-size="15.7" text-anchor="middle">3200</text><line x1="2008.2" y1="408.3" x2="2008.2" y2="412.9" stroke="#000" stroke-width="1.3"/><text x="2008.2" y="429.7" font-size="15.7" text-anchor="middle">6400</text><line x1="2075.7" y1="408.3" x2="2075.7" y2="412.9" stroke="#000" stroke-width="1.3"/><text x="2075.7" y="429.7" font-size="15.7" text-anchor="middle">12800</text><line x1="2143.2" y1="408.3" x2="2143.2" y2="412.9" stroke="#000" stroke-width="1.3"/><text x="2143.2" y="429.7" font-size="15.7" text-anchor="middle">25600</text><text x="1859.2" y="456.5" font-size="24" text-anchor="middle">steps</text><text transform="translate(1504.0,219.1) rotate(-90)" font-size="23.8" text-anchor="middle">Classification-F1</text><text x="1859.2" y="21.7" font-size="28.5" text-anchor="middle">hatexplain</text></g>
<g><clipPath id="c3"><rect x="90.5" y="568.6" width="567.9" height="378.4"/></clipPath><line x1="90.5" y1="936.9" x2="658.4" y2="936.9" stroke="#b0b0b0" stroke-width="1.1" stroke-dasharray="2.6,0.9"/><line x1="90.5" y1="844.8" x2="658.4" y2="844.8" stroke="#b0b0b0" stroke-width="1.1" stroke-dasharray="2.6,0.9"/><line x1="90.5" y1="752.8" x2="658.4" y2="752.8" stroke="#b0b0b0" stroke-width="1.1" stroke-dasharray="2.6,0.9"/><line x1="90.5" y1="660.7" x2="658.4" y2="660.7" stroke="#b0b0b0" stroke-width="1.1" stroke-dasharray="2.6,0.9"/><g clip-path="url(#c3)"><path d="M118.4,799.1 L185.9,786.2 L225.4,786.2 L253.4,765.0 L275.1,765.0 L292.9,765.0 L307.9,765.0 L320.9,765.7 L332.4,757.5 L342.6,757.5 L351.9,765.0 L360.4,757.5 L368.2,757.5 L375.4,744.6 L382.1,744.6 L388.4,744.6 L394.3,748.5 L399.9,751.5 L405.1,752.6 L410.1,735.9 L414.9,743.0 L419.4,740.2 L423.7,743.0 L427.9,746.4 L431.9,738.6 L435.7,741.7 L439.4,737.0 L442.9,739.4 L446.3,735.3 L449.6,743.8 L452.8,744.9 L455.9,729.6 L458.9,726.8 L461.8,738.4 L464.6,727.1 L467.4,727.3 L470.0,739.0 L472.6,722.7 L475.2,738.6 L477.6,719.9 L480.0,720.0 L482.4,733.1 L484.7,721.5 L486.9,721.0 L489.1,733.8 L491.2,721.4 L493.3,732.9 L495.4,715.3 L497.4,719.8 L499.4,713.0 L501.3,732.9 L503.2,726.7 L505.0,719.7 L506.9,719.6 L508.6,728.6 L510.4,712.8 L512.1,713.4 L513.8,724.9 L515.5,728.0 L517.1,716.3 L518.7,721.6 L520.3,715.7 L521.9,719.1 L523.4,708.4 L524.9,728.7 L526.4,725.9 L527.9,718.4 L529.3,712.2 L530.7,718.4 L532.1,711.1 L533.5,715.2 L534.9,707.4 L536.2,712.0 L537.5,719.0 L538.8,722.6 L540.1,723.9 L541.4,724.1 L542.7,705.9 L543.9,705.3 L545.1,707.7 L546.3,721.4 L547.5,709.0 L548.7,720.4 L549.9,703.5 L551.0,708.3 L552.2,705.9 L553.3,708.7 L554.4,712.6 L555.5,702.9 L556.6,700.2 L557.7,715.6 L558.7,711.1 L559.8,704.4 L560.8,705.3 L561.9,710.9 L562.9,709.8 L563.9,698.2 L564.9,713.1 L565.9,714.2 L566.9,703.6 L567.8,712.3 L568.8,698.5 L569.7,710.7 L570.7,697.4 L571.6,709.1 L572.5,697.8 L573.4,700.5 L574.4,700.7 L575.3,711.8 L576.1,712.7 L577.0,715.3 L577.9,711.9 L578.8,701.0 L579.6,714.0 L580.5,710.0 L581.3,702.6 L582.1,711.3 L583.0,707.3 L583.8,709.3 L584.6,699.3 L585.4,711.3 L586.2,691.9 L587.0,700.4 L587.8,697.7 L588.6,701.0 L589.4,702.0 L590.1,691.5 L590.9,682.5" fill="none" stroke="#1f48e6" stroke-width="2" stroke-linejoin="miter" stroke-miterlimit="4"/><path d="M118.4,793.0L122.1,799.1L118.4,805.2L114.7,799.1Z" fill="#1f48e6"/><path d="M185.9,780.1L189.6,786.2L185.9,792.3L182.2,786.2Z" fill="#1f48e6"/><path d="M253.4,758.9L257.1,765.0L253.4,771.1L249.7,765.0Z" fill="#1f48e6"/><path d="M320.9,759.6L324.6,765.7L320.9,771.8L317.2,765.7Z" fill="#1f48e6"/><path d="M388.4,738.5L392.1,744.6L388.4,750.7L384.7,744.6Z" fill="#1f48e6"/><path d="M455.9,723.5L459.6,729.6L455.9,735.7L452.2,729.6Z" fill="#1f48e6"/><path d="M523.4,702.3L527.1,708.4L523.4,714.5L519.7,708.4Z" fill="#1f48e6"/><path d="M590.9,676.4L594.6,682.5L590.9,688.6L587.2,682.5Z" fill="#1f48e6"/><path d="M118.4,915.8 L185.9,776.6 L225.4,757.5 L253.4,737.1 L275.1,729.6 L292.9,737.1 L307.9,709.8 L320.9,729.6 L332.4,701.6 L342.6,701.6 L351.9,709.8 L360.4,688.6 L368.2,695.5 L375.4,695.5 L382.1,701.6 L388.4,696.1 L394.3,678.1 L399.9,689.7 L405.1,682.4 L410.1,681.9 L414.9,669.1 L419.4,668.9 L423.7,662.8 L427.9,679.0 L431.9,670.4 L435.7,677.7 L439.4,672.3 L442.9,664.9 L446.3,674.2 L449.6,669.3 L452.8,658.4 L455.9,653.9 L458.9,664.4 L461.8,654.1 L464.6,647.1 L467.4,662.4 L470.0,642.9 L472.6,643.2 L475.2,649.0 L477.6,651.1 L480.0,632.7 L482.4,645.4 L484.7,649.9 L486.9,649.0 L489.1,631.8 L491.2,636.3 L493.3,631.1 L495.4,632.0 L497.4,635.5 L499.4,625.2 L501.3,637.5 L503.2,633.0 L505.0,626.2 L506.9,630.2 L508.6,624.2 L510.4,629.7 L512.1,626.3 L513.8,640.1 L515.5,635.5 L517.1,633.5 L518.7,637.5 L520.3,633.6 L521.9,635.9 L523.4,626.6 L524.9,622.7 L526.4,627.6 L527.9,626.6 L529.3,629.2 L530.7,627.1 L532.1,611.6 L533.5,617.0 L534.9,617.0 L536.2,625.7 L537.5,612.7 L538.8,624.2 L540.1,618.7 L541.4,604.6 L542.7,611.4 L543.9,612.5 L545.1,608.9 L546.3,604.8 L547.5,605.6 L548.7,616.9 L549.9,620.5 L551.0,613.7 L552.2,614.1 L553.3,614.7 L554.4,598.2 L555.5,599.0 L556.6,610.7 L557.7,602.6 L558.7,607.7 L559.8,595.8 L560.8,605.2 L561.9,608.9 L562.9,608.7 L563.9,601.3 L564.9,607.2 L565.9,599.7 L566.9,592.3 L567.8,602.6 L568.8,606.1 L569.7,588.5 L570.7,598.7 L571.6,607.3 L572.5,607.7 L573.4,605.9 L574.4,594.1 L575.3,590.0 L576.1,597.6 L577.0,605.8 L577.9,599.3 L578.8,586.4 L579.6,597.0 L580.5,587.8 L581.3,590.6 L582.1,609.5 L583.0,594.5" fill="none" stroke="#9400d3" stroke-width="2" stroke-linejoin="miter" stroke-miterlimit="4"/><path d="M118.4,909.7L122.1,915.8L118.4,921.9L114.7,915.8Z" fill="#9400d3"/><path d="M185.9,770.5L189.6,776.6L185.9,782.7L182.2,776.6Z" fill="#9400d3"/><path d="M253.4,731.0L257.1,737.1L253.4,743.2L249.7,737.1Z" fill="#9400d3"/><path d="M320.9,723.5L324.6,729.6L320.9,735.7L317.2,729.6Z" fill="#9400d3"/><path d="M388.4,690.0L392.1,696.1L388.4,702.2L384.7,696.1Z" fill="#9400d3"/><path d="M455.9,647.8L459.6,653.9L455.9,660.0L452.2,653.9Z" fill="#9400d3"/><path d="M523.4,620.5L527.1,626.6L523.4,632.7L519.7,626.6Z" fill="#9400d3"/><path d="M118.4,929.4 L185.9,776.6 L225.4,771.2 L253.4,765.0 L275.1,758.9 L292.9,750.7 L307.9,756.8 L320.9,756.8 L332.4,750.7 L342.6,756.8 L351.9,750.7 L360.4,744.6 L368.2,744.6 L375.4,744.6 L382.1,744.6 L388.4,744.6 L394.3,755.3 L399.9,739.5 L405.1,751.9 L410.1,744.0 L414.9,738.8 L419.4,735.5 L423.7,743.0 L427.9,741.6 L431.9,752.4 L435.7,742.5 L439.4,743.5 L442.9,732.1 L446.3,738.9 L449.6,733.7 L452.8,740.9 L455.9,744.6 L458.9,728.2 L461.8,726.1 L464.6,733.8 L467.4,737.7 L470.0,725.5 L472.6,723.4 L475.2,714.7 L477.6,716.4 L480.0,718.1 L482.4,716.2 L484.7,720.5 L486.9,727.7 L489.1,727.1 L491.2,706.4 L493.3,708.4 L495.4,720.7 L497.4,706.7 L499.4,714.9 L501.3,724.3 L503.2,706.6 L505.0,712.6 L506.9,704.3 L508.6,709.9 L510.4,723.2 L512.1,710.7 L513.8,706.6 L515.5,703.8 L517.1,716.7 L518.7,711.9 L520.3,707.6 L521.9,719.8 L523.4,716.6 L524.9,704.4 L526.4,720.4 L527.9,706.9 L529.3,711.2 L530.7,714.5 L532.1,703.9 L533.5,694.6 L534.9,703.4 L536.2,712.8 L537.5,703.1 L538.8,695.7 L540.1,690.8 L541.4,695.5 L542.7,710.4 L543.9,688.1 L545.1,695.8 L546.3,707.1 L547.5,705.4 L548.7,705.6 L549.9,691.5 L551.0,702.7 L552.2,686.9 L553.3,702.4 L554.4,691.8 L555.5,693.3 L556.6,702.1 L557.7,702.2 L558.7,680.7 L559.8,678.4 L560.8,697.5 L561.9,682.8 L562.9,676.3 L563.9,677.6 L564.9,677.5 L565.9,689.6 L566.9,680.2 L567.8,684.7 L568.8,673.9 L569.7,678.8 L570.7,675.0 L571.6,674.1 L572.5,684.5 L573.4,676.4 L574.4,690.2 L575.3,687.0 L576.1,669.6 L577.0,681.4 L577.9,674.4 L578.8,676.4 L579.6,683.2 L580.5,675.1 L581.3,667.1 L582.1,680.1 L583.0,679.2 L583.8,682.4 L584.6,682.1 L585.4,666.6 L586.2,668.9 L587.0,662.4 L587.8,668.8 L588.6,661.6 L589.4,678.3 L590.1,678.6 L590.9,666.1 L591.7,673.4 L592.4,659.1 L593.2,676.5 L593.9,670.9 L594.6,679.8 L595.4,680.4 L596.1,668.1 L596.8,666.3 L597.5,668.5 L598.2,658.9 L598.9,659.9 L599.6,657.6 L600.3,666.0 L601.0,673.1 L601.7,675.9 L602.4,661.0 L603.0,674.9 L603.7,678.1 L604.4,661.8 L605.0,674.9 L605.7,663.2 L606.3,672.7 L607.0,667.3 L607.6,676.6 L608.3,668.0 L608.9,668.9 L609.5,670.3 L610.2,673.0 L610.8,662.6 L611.4,659.7 L612.0,670.9 L612.6,674.3 L613.2,668.9 L613.8,658.7 L614.4,668.4 L615.0,659.5 L615.6,672.6 L616.2,657.8 L616.8,670.7 L617.4,668.6 L618.0,656.7 L618.5,662.4 L619.1,658.3 L619.7,666.4 L620.2,657.3 L620.8,665.7 L621.4,661.3 L621.9,662.0" fill="none" stroke="#f05a14" stroke-width="2" stroke-linejoin="miter" stroke-miterlimit="4"/><path d="M118.4,923.3L122.1,929.4L118.4,935.5L114.7,929.4Z" fill="#f05a14"/><path d="M185.9,770.5L189.6,776.6L185.9,782.7L182.2,776.6Z" fill="#f05a14"/><path d="M253.4,758.9L257.1,765.0L253.4,771.1L249.7,765.0Z" fill="#f05a14"/><path d="M320.9,750.7L324.6,756.8L320.9,762.9L317.2,756.8Z" fill="#f05a14"/><path d="M388.4,738.5L392.1,744.6L388.4,750.7L384.7,744.6Z" fill="#f05a14"/><path d="M455.9,738.5L459.6,744.6L455.9,750.7L452.2,744.6Z" fill="#f05a14"/><path d="M523.4,710.5L527.1,716.6L523.4,722.7L519.7,716.6Z" fill="#f05a14"/><path d="M590.9,660.0L594.6,666.1L590.9,672.2L587.2,666.1Z" fill="#f05a14"/><path d="M118.4,895.3 L185.9,895.3 L225.4,771.8 L253.4,778.7 L275.1,765.0 L292.9,765.0 L307.9,757.5 L320.9,757.5 L332.4,750.7 L342.6,750.7 L351.9,744.6 L360.4,744.6 L368.2,744.6 L375.4,744.6 L382.1,744.6 L388.4,737.7 L394.3,734.7 L399.9,729.7 L405.1,720.0 L410.1,736.4 L414.9,733.8 L419.4,737.7 L423.7,734.2 L427.9,735.9 L431.9,731.0 L435.7,719.5 L439.4,705.1 L442.9,710.8 L446.3,717.0 L449.6,714.4 L452.8,705.2 L455.9,709.8 L458.9,717.1 L461.8,694.9 L464.6,698.5 L467.4,709.5 L470.0,708.5 L472.6,705.8 L475.2,681.4 L477.6,701.5 L480.0,687.0 L482.4,677.1 L484.7,700.3 L486.9,690.2 L489.1,686.8 L491.2,674.5 L493.3,692.4 L495.4,689.7 L497.4,689.1 L499.4,693.3 L501.3,676.3 L503.2,671.7 L505.0,680.8 L506.9,690.3 L508.6,672.0 L510.4,670.6 L512.1,672.0 L513.8,679.6 L515.5,665.9 L517.1,670.3 L518.7,670.7 L520.3,671.2 L521.9,678.5 L523.4,667.5 L524.9,662.8 L526.4,665.1 L527.9,673.3 L529.3,660.5 L530.7,659.5 L532.1,679.6 L533.5,676.2 L534.9,674.0 L536.2,679.0 L537.5,659.3 L538.8,661.6 L540.1,663.9 L541.4,651.7 L542.7,667.8 L543.9,671.5 L545.1,673.3 L546.3,666.9 L547.5,653.6 L548.7,659.2 L549.9,673.0 L551.0,662.9 L552.2,672.4 L553.3,657.1 L554.4,669.7 L555.5,667.9 L556.6,655.5 L557.7,650.1 L558.7,655.3 L559.8,663.4 L560.8,653.9 L561.9,663.2 L562.9,669.7 L563.9,662.4 L564.9,651.4 L565.9,652.6 L566.9,663.5 L567.8,646.4 L568.8,646.3 L569.7,660.2 L570.7,642.2 L571.6,660.0 L572.5,664.8 L573.4,652.9 L574.4,643.4 L575.3,650.0 L576.1,651.1 L577.0,652.3 L577.9,657.2 L578.8,656.5 L579.6,653.5 L580.5,649.5 L581.3,638.9 L582.1,661.2 L583.0,656.3 L583.8,638.1 L584.6,645.2 L585.4,660.0 L586.2,650.2 L587.0,644.5 L587.8,637.5 L588.6,658.6 L589.4,637.2 L590.1,640.3 L590.9,646.4 L591.7,645.8 L592.4,637.8 L593.2,652.5 L593.9,640.2 L594.6,643.4 L595.4,655.6 L596.1,650.1 L596.8,646.1 L597.5,652.7 L598.2,631.5 L598.9,649.1 L599.6,649.2 L600.3,639.3 L601.0,640.8 L601.7,645.8 L602.4,645.3 L603.0,640.4 L603.7,629.4 L604.4,650.5 L605.0,628.6 L605.7,627.5 L606.3,633.8 L607.0,630.3 L607.6,640.9 L608.3,625.5 L608.9,630.9 L609.5,631.9 L610.2,637.8 L610.8,643.3 L611.4,630.8 L612.0,629.3 L612.6,647.9 L613.2,639.6 L613.8,633.5 L614.4,641.6 L615.0,643.4 L615.6,641.5 L616.2,645.7 L616.8,642.6 L617.4,635.3 L618.0,632.1 L618.5,628.3 L619.1,636.5 L619.7,640.9 L620.2,620.0 L620.8,627.2 L621.4,625.7 L621.9,625.1" fill="none" stroke="#f5a013" stroke-width="2" stroke-linejoin="miter" stroke-miterlimit="4"/><path d="M118.4,889.2L122.1,895.3L118.4,901.4L114.7,895.3Z" fill="#f5a013"/><path d="M185.9,889.2L189.6,895.3L185.9,901.4L182.2,895.3Z" fill="#f5a013"/><path d="M253.4,772.6L257.1,778.7L253.4,784.8L249.7,778.7Z" fill="#f5a013"/><path d="M320.9,751.4L324.6,757.5L320.9,763.6L317.2,757.5Z" fill="#f5a013"/><path d="M388.4,731.6L392.1,737.7L388.4,743.8L384.7,737.7Z" fill="#f5a013"/><path d="M455.9,703.7L459.6,709.8L455.9,715.9L452.2,709.8Z" fill="#f5a013"/><path d="M523.4,661.4L527.1,667.5L523.4,673.6L519.7,667.5Z" fill="#f5a013"/><path d="M590.9,640.3L594.6,646.4L590.9,652.5L587.2,646.4Z" fill="#f5a013"/></g><rect x="102.2" y="580.3" width="115.4" height="145.9" rx="3" ry="3" fill="#fff" fill-opacity="0.8" stroke="#d0d0d0" stroke-width="1.3"/><line x1="110.7" y1="599.7" x2="159.7" y2="599.7" stroke="#1f48e6" stroke-width="2"/><text x="177.6" y="608.0" font-size="23.4">PF</text><line x1="110.7" y1="634.4" x2="159.7" y2="634.4" stroke="#9400d3" stroke-width="2"/><text x="177.6" y="642.7" font-size="23.4">FT</text><line x1="110.7" y1="669.1" x2="159.7" y2="669.1" stroke="#f05a14" stroke-width="2"/><text x="177.6" y="677.4" font-size="23.4">AP</text><line x1="110.7" y1="703.8" x2="159.7" y2="703.8" stroke="#f5a013" stroke-width="2"/><text x="177.6" y="712.1" font-size="23.4">LR</text><rect x="90.5" y="568.6" width="567.9" height="378.4" fill="none" stroke="#1c1c1c" stroke-width="1.3"/><line x1="85.9" y1="936.9" x2="90.5" y2="936.9" stroke="#000" stroke-width="1.3"/><text x="81.4" y="946.2" font-size="23.6" text-anchor="end">0.0</text><line x1="85.9" y1="844.8" x2="90.5" y2="844.8" stroke="#000" stroke-width="1.3"/><text x="81.4" y="854.1" font-size="23.6" text-anchor="end">0.13</text><line x1="85.9" y1="752.8" x2="90.5" y2="752.8" stroke="#000" stroke-width="1.3"/><text x="81.4" y="762.0" font-size="23.6" text-anchor="end">0.27</text><line x1="85.9" y1="660.7" x2="90.5" y2="660.7" stroke="#000" stroke-width="1.3"/><text x="81.4" y="670.0" font-size="23.6" text-anchor="end">0.4</text><line x1="85.9" y1="568.6" x2="90.5" y2="568.6" stroke="#000" stroke-width="1.3"/><text x="81.4" y="577.9" font-size="23.6" text-anchor="end">0.54</text><line x1="118.4" y1="947.0" x2="118.4" y2="951.6" stroke="#000" stroke-width="1.3"/><text x="118.4" y="968.4" font-size="15.7" text-anchor="middle">100</text><line x1="185.9" y1="947.0" x2="185.9" y2="951.6" stroke="#000" stroke-width="1.3"/><text x="185.9" y="968.4" font-size="15.7" text-anchor="middle">200</text><line x1="253.4" y1="947.0" x2="253.4" y2="951.6" stroke="#000" stroke-width="1.3"/><text x="253.4" y="968.4" font-size="15.7" text-anchor="middle">400</text><line x1="320.9" y1="947.0" x2="320.9" y2="951.6" stroke="#000" stroke-width="1.3"/><text x="320.9" y="968.4" font-size="15.7" text-anchor="middle">800</text><line x1="388.4" y1="947.0" x2="388.4" y2="951.6" stroke="#000" stroke-width="1.3"/><text x="388.4" y="968.4" font-size="15.7" text-anchor="middle">1600</text><line x1="455.9" y1="947.0" x2="455.9" y2="951.6" stroke="#000" stroke-width="1.3"/><text x="455.9" y="968.4" font-size="15.7" text-anchor="middle">3200</text><line x1="523.4" y1="947.0" x2="523.4" y2="951.6" stroke="#000" stroke-width="1.3"/><text x="523.4" y="968.4" font-size="15.7" text-anchor="middle">6400</text><line x1="590.9" y1="947.0" x2="590.9" y2="951.6" stroke="#000" stroke-width="1.3"/><text x="590.9" y="968.4" font-size="15.7" text-anchor="middle">12800</text><line x1="658.4" y1="947.0" x2="658.4" y2="951.6" stroke="#000" stroke-width="1.3"/><text x="658.4" y="968.4" font-size="15.7" text-anchor="middle">25600</text><text x="374.4" y="995.2" font-size="24" text-anchor="middle">steps</text><text transform="translate(19.2,757.8) rotate(-90)" font-size="23.8" text-anchor="middle">ACC</text><text x="374.4" y="560.4" font-size="28.5" text-anchor="middle">hellaswag</text></g>
<g><clipPath id="c4"><rect x="832.9" y="568.6" width="567.9" height="378.4"/></clipPath><line x1="832.9" y1="852.4" x2="1400.8" y2="852.4" stroke="#b0b0b0" stroke-width="1.1" stroke-dasharray="2.6,0.9"/><line x1="832.9" y1="757.8" x2="1400.8" y2="757.8" stroke="#b0b0b0" stroke-width="1.1" stroke-dasharray="2.6,0.9"/><line x1="832.9" y1="663.2" x2="1400.8" y2="663.2" stroke="#b0b0b0" stroke-width="1.1" stroke-dasharray="2.6,0.9"/><g clip-path="url(#c4)"><path d="M860.8,736.2 L928.3,704.9 L967.8,688.7 L995.8,682.1 L1017.5,682.1 L1035.3,670.7 L1050.3,672.5 L1063.3,672.5 L1074.8,659.3 L1085.0,657.5 L1094.3,662.9 L1102.8,657.5 L1110.6,664.7 L1117.8,650.9 L1124.5,657.5 L1130.8,659.3 L1136.7,658.2 L1142.3,655.5 L1147.5,658.6 L1152.5,652.1 L1157.3,657.6 L1161.8,654.4 L1166.1,650.6 L1170.3,655.6 L1174.3,650.0 L1178.1,652.1 L1181.8,653.8 L1185.3,652.9 L1188.7,653.2 L1192.0,655.2 L1195.2,646.9 L1198.3,652.7 L1201.3,642.9 L1204.2,642.2 L1207.0,648.2 L1209.8,646.0 L1212.4,643.9 L1215.0,640.7 L1217.6,646.8 L1220.0,642.6 L1222.4,645.0 L1224.8,640.9 L1227.1,639.6 L1229.3,641.2 L1231.5,646.6 L1233.6,641.2 L1235.7,644.3 L1237.8,640.4 L1239.8,644.0 L1241.8,639.8 L1243.7,639.0 L1245.6,640.6 L1247.4,640.5 L1249.3,640.6 L1251.0,642.8 L1252.8,646.8 L1254.5,639.0 L1256.2,644.0 L1257.9,648.3 L1259.5,644.3 L1261.1,644.5 L1262.7,646.6 L1264.3,639.3 L1265.8,640.7 L1267.3,639.6 L1268.8,642.7 L1270.3,646.1 L1271.7,644.1 L1273.1,643.0 L1274.5,646.0 L1275.9,639.5 L1277.3,640.4 L1278.6,637.0 L1279.9,638.2 L1281.2,638.5 L1282.5,636.2 L1283.8,636.6 L1285.1,639.2 L1286.3,640.0 L1287.5,640.0 L1288.7,637.0 L1289.9,635.7 L1291.1,636.4 L1292.3,636.2 L1293.4,643.8 L1294.6,639.8 L1295.7,642.8 L1296.8,637.9 L1297.9,637.8 L1299.0,637.8 L1300.1,634.7 L1301.1,640.7 L1302.2,635.6 L1303.2,636.8" fill="none" stroke="#1f48e6" stroke-width="2" stroke-linejoin="miter" stroke-miterlimit="4"/><path d="M860.8,730.1L864.5,736.2L860.8,742.3L857.1,736.2Z" fill="#1f48e6"/><path d="M928.3,698.8L932.0,704.9L928.3,711.0L924.6,704.9Z" fill="#1f48e6"/><path d="M995.8,676.0L999.5,682.1L995.8,688.2L992.1,682.1Z" fill="#1f48e6"/><path d="M1063.3,666.4L1067.0,672.5L1063.3,678.6L1059.6,672.5Z" fill="#1f48e6"/><path d="M1130.8,653.2L1134.5,659.3L1130.8,665.4L1127.1,659.3Z" fill="#1f48e6"/><path d="M1198.3,646.6L1202.0,652.7L1198.3,658.8L1194.6,652.7Z" fill="#1f48e6"/><path d="M1265.8,634.6L1269.5,640.7L1265.8,646.8L1262.1,640.7Z" fill="#1f48e6"/><path d="M860.8,868.3 L928.3,686.9 L967.8,675.5 L995.8,663.5 L1017.5,657.5 L1035.3,657.5 L1050.3,651.5 L1063.3,640.1 L1074.8,644.9 L1085.0,640.1 L1094.3,644.9 L1102.8,640.1 L1110.6,640.1 L1117.8,633.5 L1124.5,633.5 L1130.8,633.5 L1136.7,624.6 L1142.3,632.1 L1147.5,626.1 L1152.5,627.8 L1157.3,623.7 L1161.8,627.9 L1166.1,623.3 L1170.3,629.5 L1174.3,622.2 L1178.1,626.8 L1181.8,628.5 L1185.3,627.0 L1188.7,623.0 L1192.0,626.5 L1195.2,622.0 L1198.3,620.3 L1201.3,622.0 L1204.2,620.0 L1207.0,618.3 L1209.8,616.8 L1212.4,611.5 L1215.0,613.4 L1217.6,608.7 L1220.0,607.3 L1222.4,606.7 L1224.8,605.6 L1227.1,608.2 L1229.3,606.8 L1231.5,604.4 L1233.6,606.7 L1235.7,609.5 L1237.8,605.8 L1239.8,605.2 L1241.8,607.6 L1243.7,607.9 L1245.6,606.6 L1247.4,601.8 L1249.3,600.3 L1251.0,601.2 L1252.8,602.7 L1254.5,605.6 L1256.2,605.3 L1257.9,599.4 L1259.5,600.0 L1261.1,600.2 L1262.7,602.2 L1264.3,602.2 L1265.8,597.4 L1267.3,601.5 L1268.8,597.3 L1270.3,599.5 L1271.7,597.2 L1273.1,598.0 L1274.5,596.8 L1275.9,594.9 L1277.3,594.3 L1278.6,599.4 L1279.9,592.4 L1281.2,593.1 L1282.5,593.1 L1283.8,596.0 L1285.1,591.6 L1286.3,592.6 L1287.5,597.2 L1288.7,593.2 L1289.9,591.6 L1291.1,592.3 L1292.3,590.8 L1293.4,593.7 L1294.6,592.4 L1295.7,597.2 L1296.8,592.0 L1297.9,596.2 L1299.0,591.2 L1300.1,589.5 L1301.1,593.8 L1302.2,596.1 L1303.2,596.2 L1304.3,592.0 L1305.3,594.9 L1306.3,589.8 L1307.3,590.7 L1308.3,591.5 L1309.3,589.9 L1310.2,594.1 L1311.2,591.4 L1312.1,594.7 L1313.1,590.3 L1314.0,588.1 L1314.9,593.3 L1315.8,588.6 L1316.8,585.9 L1317.7,591.4 L1318.5,592.2 L1319.4,591.7" fill="none" stroke="#9400d3" stroke-width="2" stroke-linejoin="miter" stroke-miterlimit="4"/><path d="M860.8,862.2L864.5,868.3L860.8,874.4L857.1,868.3Z" fill="#9400d3"/><path d="M928.3,680.8L932.0,686.9L928.3,693.0L924.6,686.9Z" fill="#9400d3"/><path d="M995.8,657.4L999.5,663.5L995.8,669.6L992.1,663.5Z" fill="#9400d3"/><path d="M1063.3,634.0L1067.0,640.1L1063.3,646.2L1059.6,640.1Z" fill="#9400d3"/><path d="M1130.8,627.4L1134.5,633.5L1130.8,639.6L1127.1,633.5Z" fill="#9400d3"/><path d="M1198.3,614.2L1202.0,620.3L1198.3,626.4L1194.6,620.3Z" fill="#9400d3"/><path d="M1265.8,591.3L1269.5,597.4L1265.8,603.5L1262.1,597.4Z" fill="#9400d3"/><path d="M860.8,760.8 L928.3,693.5 L967.8,682.1 L995.8,670.7 L1017.5,675.5 L1035.3,670.7 L1050.3,670.7 L1063.3,664.7 L1074.8,652.7 L1085.0,657.5 L1094.3,660.5 L1102.8,646.7 L1110.6,651.5 L1117.8,651.5 L1124.5,651.5 L1130.8,652.7 L1136.7,648.6 L1142.3,644.6 L1147.5,647.5 L1152.5,643.9 L1157.3,640.5 L1161.8,643.5 L1166.1,640.4 L1170.3,639.4 L1174.3,637.2 L1178.1,644.2 L1181.8,642.0 L1185.3,633.1 L1188.7,634.7 L1192.0,638.5 L1195.2,633.1 L1198.3,634.7 L1201.3,635.2 L1204.2,633.6 L1207.0,634.9 L1209.8,635.0 L1212.4,630.7 L1215.0,628.6 L1217.6,631.1 L1220.0,627.1 L1222.4,623.6 L1224.8,632.0 L1227.1,629.4 L1229.3,630.8 L1231.5,624.7 L1233.6,626.8 L1235.7,626.2 L1237.8,627.6 L1239.8,622.1 L1241.8,621.9 L1243.7,624.5 L1245.6,620.5 L1247.4,625.9 L1249.3,624.4 L1251.0,618.2 L1252.8,624.8 L1254.5,625.3 L1256.2,626.0 L1257.9,619.6 L1259.5,617.8 L1261.1,624.9 L1262.7,620.5 L1264.3,621.0 L1265.8,616.7 L1267.3,622.1 L1268.8,620.5 L1270.3,622.7 L1271.7,615.0 L1273.1,621.8 L1274.5,618.5 L1275.9,617.3 L1277.3,617.0 L1278.6,618.7 L1279.9,618.1 L1281.2,614.0 L1282.5,621.2 L1283.8,620.8 L1285.1,619.7 L1286.3,615.4 L1287.5,618.3 L1288.7,618.5 L1289.9,621.4 L1291.1,620.8 L1292.3,615.6 L1293.4,619.6 L1294.6,617.2 L1295.7,619.3 L1296.8,618.5" fill="none" stroke="#f05a14" stroke-width="2" stroke-linejoin="miter" stroke-miterlimit="4"/><path d="M860.8,754.7L864.5,760.8L860.8,766.9L857.1,760.8Z" fill="#f05a14"/><path d="M928.3,687.4L932.0,693.5L928.3,699.6L924.6,693.5Z" fill="#f05a14"/><path d="M995.8,664.6L999.5,670.7L995.8,676.8L992.1,670.7Z" fill="#f05a14"/><path d="M1063.3,658.6L1067.0,664.7L1063.3,670.8L1059.6,664.7Z" fill="#f05a14"/><path d="M1130.8,646.6L1134.5,652.7L1130.8,658.8L1127.1,652.7Z" fill="#f05a14"/><path d="M1198.3,628.6L1202.0,634.7L1198.3,640.8L1194.6,634.7Z" fill="#f05a14"/><path d="M1265.8,610.6L1269.5,616.7L1265.8,622.8L1262.1,616.7Z" fill="#f05a14"/><path d="M860.8,929.6 L928.3,713.4 L967.8,701.9 L995.8,688.7 L1017.5,670.7 L1035.3,675.5 L1050.3,670.7 L1063.3,662.9 L1074.8,657.5 L1085.0,651.5 L1094.3,656.9 L1102.8,657.5 L1110.6,646.7 L1117.8,656.9 L1124.5,649.7 L1130.8,646.7 L1136.7,639.7 L1142.3,645.4 L1147.5,639.7 L1152.5,638.8 L1157.3,632.7 L1161.8,636.8 L1166.1,634.8 L1170.3,632.2 L1174.3,632.8 L1178.1,627.4 L1181.8,627.5 L1185.3,628.7 L1188.7,634.9 L1192.0,625.6 L1195.2,629.6 L1198.3,633.5 L1201.3,628.6 L1204.2,628.1 L1207.0,623.3 L1209.8,628.9 L1212.4,629.4 L1215.0,620.4 L1217.6,626.8 L1220.0,626.0 L1222.4,623.9 L1224.8,619.0 L1227.1,623.5 L1229.3,626.5 L1231.5,623.6 L1233.6,623.4 L1235.7,625.0 L1237.8,616.1 L1239.8,617.2 L1241.8,622.5 L1243.7,621.1 L1245.6,613.5 L1247.4,615.8 L1249.3,617.8 L1251.0,616.2 L1252.8,611.9 L1254.5,618.7 L1256.2,614.5 L1257.9,620.1 L1259.5,615.2 L1261.1,617.2 L1262.7,615.9 L1264.3,615.0 L1265.8,610.6 L1267.3,609.7 L1268.8,614.5 L1270.3,617.7 L1271.7,609.6 L1273.1,608.6 L1274.5,609.2 L1275.9,614.3 L1277.3,613.5 L1278.6,609.4 L1279.9,615.8 L1281.2,615.8 L1282.5,611.4 L1283.8,613.8 L1285.1,611.4 L1286.3,614.2 L1287.5,606.3 L1288.7,610.6 L1289.9,611.9 L1291.1,612.1 L1292.3,612.3 L1293.4,607.2 L1294.6,607.0 L1295.7,606.9 L1296.8,605.4 L1297.9,608.4 L1299.0,610.3 L1300.1,609.8 L1301.1,612.5 L1302.2,610.1 L1303.2,608.8 L1304.3,605.0 L1305.3,607.6 L1306.3,612.1 L1307.3,607.8 L1308.3,609.5 L1309.3,604.9 L1310.2,604.5 L1311.2,606.7 L1312.1,605.9 L1313.1,608.1 L1314.0,609.3 L1314.9,604.2 L1315.8,604.3 L1316.8,606.3 L1317.7,602.6 L1318.5,603.5 L1319.4,604.6 L1320.3,610.2 L1321.2,601.8 L1322.0,610.0 L1322.9,608.9 L1323.7,609.5 L1324.5,608.9 L1325.4,603.8 L1326.2,605.0 L1327.0,609.0 L1327.8,608.2 L1328.6,602.9 L1329.4,606.9 L1330.2,607.8 L1331.0,602.0 L1331.8,607.2 L1332.5,608.7 L1333.3,604.0" fill="none" stroke="#f5a013" stroke-width="2" stroke-linejoin="miter" stroke-miterlimit="4"/><path d="M860.8,923.5L864.5,929.6L860.8,935.7L857.1,929.6Z" fill="#f5a013"/><path d="M928.3,707.3L932.0,713.4L928.3,719.5L924.6,713.4Z" fill="#f5a013"/><path d="M995.8,682.6L999.5,688.7L995.8,694.8L992.1,688.7Z" fill="#f5a013"/><path d="M1063.3,656.8L1067.0,662.9L1063.3,669.0L1059.6,662.9Z" fill="#f5a013"/><path d="M1130.8,640.6L1134.5,646.7L1130.8,652.8L1127.1,646.7Z" fill="#f5a013"/><path d="M1198.3,627.4L1202.0,633.5L1198.3,639.6L1194.6,633.5Z" fill="#f5a013"/><path d="M1265.8,604.5L1269.5,610.6L1265.8,616.7L1262.1,610.6Z" fill="#f5a013"/><path d="M1333.3,597.9L1337.0,604.0L1333.3,610.1L1329.6,604.0Z" fill="#f5a013"/></g><rect x="1273.3" y="789.1" width="115.4" height="145.9" rx="3" ry="3" fill="#fff" fill-opacity="0.8" stroke="#d0d0d0" stroke-width="1.3"/><line x1="1281.8" y1="808.5" x2="1330.8" y2="808.5" stroke="#1f48e6" stroke-width="2"/><text x="1348.7" y="816.8" font-size="23.4">PF</text><line x1="1281.8" y1="843.2" x2="1330.8" y2="843.2" stroke="#9400d3" stroke-width="2"/><text x="1348.7" y="851.5" font-size="23.4">FT</text><line x1="1281.8" y1="877.9" x2="1330.8" y2="877.9" stroke="#f05a14" stroke-width="2"/><text x="1348.7" y="886.2" font-size="23.4">AP</text><line x1="1281.8" y1="912.6" x2="1330.8" y2="912.6" stroke="#f5a013" stroke-width="2"/><text x="1348.7" y="920.9" font-size="23.4">LR</text><rect x="832.9" y="568.6" width="567.9" height="378.4" fill="none" stroke="#1c1c1c" stroke-width="1.3"/><line x1="828.3" y1="947.0" x2="832.9" y2="947.0" stroke="#000" stroke-width="1.3"/><text x="823.8" y="956.3" font-size="23.6" text-anchor="end">0.22</text><line x1="828.3" y1="852.4" x2="832.9" y2="852.4" stroke="#000" stroke-width="1.3"/><text x="823.8" y="861.7" font-size="23.6" text-anchor="end">0.38</text><line x1="828.3" y1="757.8" x2="832.9" y2="757.8" stroke="#000" stroke-width="1.3"/><text x="823.8" y="767.1" font-size="23.6" text-anchor="end">0.53</text><line x1="828.3" y1="663.2" x2="832.9" y2="663.2" stroke="#000" stroke-width="1.3"/><text x="823.8" y="672.5" font-size="23.6" text-anchor="end">0.69</text><line x1="828.3" y1="568.6" x2="832.9" y2="568.6" stroke="#000" stroke-width="1.3"/><text x="823.8" y="577.9" font-size="23.6" text-anchor="end">0.85</text><line x1="860.8" y1="947.0" x2="860.8" y2="951.6" stroke="#000" stroke-width="1.3"/><text x="860.8" y="968.4" font-size="15.7" text-anchor="middle">100</text><line x1="928.3" y1="947.0" x2="928.3" y2="951.6" stroke="#000" stroke-width="1.3"/><text x="928.3" y="968.4" font-size="15.7" text-anchor="middle">200</text><line x1="995.8" y1="947.0" x2="995.8" y2="951.6" stroke="#000" stroke-width="1.3"/><text x="995.8" y="968.4" font-size="15.7" text-anchor="middle">400</text><line x1="1063.3" y1="947.0" x2="1063.3" y2="951.6" stroke="#000" stroke-width="1.3"/><text x="1063.3" y="968.4" font-size="15.7" text-anchor="middle">800</text><line x1="1130.8" y1="947.0" x2="1130.8" y2="951.6" stroke="#000" stroke-width="1.3"/><text x="1130.8" y="968.4" font-size="15.7" text-anchor="middle">1600</text><line x1="1198.3" y1="947.0" x2="1198.3" y2="951.6" stroke="#000" stroke-width="1.3"/><text x="1198.3" y="968.4" font-size="15.7" text-anchor="middle">3200</text><line x1="1265.8" y1="947.0" x2="1265.8" y2="951.6" stroke="#000" stroke-width="1.3"/><text x="1265.8" y="968.4" font-size="15.7" text-anchor="middle">6400</text><line x1="1333.3" y1="947.0" x2="1333.3" y2="951.6" stroke="#000" stroke-width="1.3"/><text x="1333.3" y="968.4" font-size="15.7" text-anchor="middle">12800</text><line x1="1400.8" y1="947.0" x2="1400.8" y2="951.6" stroke="#000" stroke-width="1.3"/><text x="1400.8" y="968.4" font-size="15.7" text-anchor="middle">25600</text><text x="1116.8" y="995.2" font-size="24" text-anchor="middle">steps</text><text transform="translate(761.6,757.8) rotate(-90)" font-size="23.8" text-anchor="middle">QA-F1</text><text x="1116.8" y="560.4" font-size="28.5" text-anchor="middle">hotpot_qa</text></g>
<g><clipPath id="c5"><rect x="1575.3" y="568.6" width="567.9" height="378.4"/></clipPath><line x1="1575.3" y1="852.4" x2="2143.2" y2="852.4" stroke="#b0b0b0" stroke-width="1.1" stroke-dasharray="2.6,0.9"/><line x1="1575.3" y1="757.8" x2="2143.2" y2="757.8" stroke="#b0b0b0" stroke-width="1.1" stroke-dasharray="2.6,0.9"/><line x1="1575.3" y1="663.2" x2="2143.2" y2="663.2" stroke="#b0b0b0" stroke-width="1.1" stroke-dasharray="2.6,0.9"/><g clip-path="url(#c5)"><path d="M1603.2,918.9 L1670.7,913.5 L1710.2,902.7 L1738.2,898.3 L1759.9,897.8 L1777.7,892.9 L1792.7,881.6 L1805.7,881.6 L1817.2,871.9 L1827.4,870.2 L1836.7,870.2 L1845.2,867.5 L1853.0,871.9 L1860.2,866.5 L1866.9,870.2 L1873.2,866.5 L1879.1,866.5 L1884.7,865.2 L1889.9,862.0 L1894.9,866.2 L1899.7,865.5 L1904.2,861.3 L1908.5,862.8 L1912.7,863.5 L1916.7,862.5 L1920.5,862.4 L1924.2,863.1 L1927.7,857.8 L1931.1,854.5 L1934.4,855.8 L1937.6,855.6 L1940.7,854.6 L1943.7,856.5 L1946.6,859.1 L1949.4,853.1 L1952.2,857.0 L1954.8,856.8 L1957.4,849.8 L1960.0,855.8 L1962.4,849.4 L1964.8,852.6 L1967.2,851.0 L1969.5,852.1 L1971.7,856.2 L1973.9,850.8 L1976.0,855.0 L1978.1,853.4 L1980.2,855.9 L1982.2,856.4 L1984.2,853.1 L1986.1,856.3 L1988.0,852.5 L1989.8,847.7 L1991.7,846.0 L1993.4,851.4 L1995.2,854.2 L1996.9,851.6 L1998.6,854.2 L2000.3,852.4 L2001.9,848.3 L2003.5,848.1 L2005.1,853.6 L2006.7,848.9 L2008.2,848.6 L2009.7,849.4 L2011.2,851.7 L2012.7,848.9 L2014.1,851.5 L2015.5,845.6 L2016.9,845.7 L2018.3,845.7 L2019.7,847.6 L2021.0,842.1 L2022.3,847.6 L2023.6,849.0 L2024.9,847.1 L2026.2,841.6 L2027.5,848.8 L2028.7,842.7 L2029.9,840.8 L2031.1,841.4 L2032.3,845.0 L2033.5,844.9 L2034.7,840.7 L2035.8,842.0 L2037.0,840.9 L2038.1,846.8 L2039.2,842.5 L2040.3,841.0 L2041.4,845.7 L2042.5,845.8 L2043.5,839.5 L2044.6,842.0 L2045.6,843.3 L2046.7,842.4 L2047.7,844.5" fill="none" stroke="#1f48e6" stroke-width="2" stroke-linejoin="miter" stroke-miterlimit="4"/><path d="M1603.2,912.8L1606.9,918.9L1603.2,925.0L1599.5,918.9Z" fill="#1f48e6"/><path d="M1670.7,907.4L1674.4,913.5L1670.7,919.6L1667.0,913.5Z" fill="#1f48e6"/><path d="M1738.2,892.2L1741.9,898.3L1738.2,904.4L1734.5,898.3Z" fill="#1f48e6"/><path d="M1805.7,875.5L1809.4,881.6L1805.7,887.7L1802.0,881.6Z" fill="#1f48e6"/><path d="M1873.2,860.4L1876.9,866.5L1873.2,872.6L1869.5,866.5Z" fill="#1f48e6"/><path d="M1940.7,848.5L1944.4,854.6L1940.7,860.7L1937.0,854.6Z" fill="#1f48e6"/><path d="M2008.2,842.5L2011.9,848.6L2008.2,854.7L2004.5,848.6Z" fill="#1f48e6"/><path d="M1603.2,901.1 L1670.7,886.5 L1710.2,865.4 L1738.2,854.6 L1759.9,854.6 L1777.7,842.1 L1792.7,829.2 L1805.7,827.5 L1817.2,827.5 L1827.4,817.8 L1836.7,816.2 L1845.2,806.5 L1853.0,806.5 L1860.2,796.7 L1866.9,793.5 L1873.2,800.5 L1879.1,790.4 L1884.7,796.2 L1889.9,787.0 L1894.9,792.8 L1899.7,783.7 L1904.2,772.8 L1908.5,774.7 L1912.7,770.0 L1916.7,770.3 L1920.5,760.3 L1924.2,757.9 L1927.7,763.7 L1931.1,762.0 L1934.4,756.6 L1937.6,754.1 L1940.7,752.4 L1943.7,751.0 L1946.6,745.7 L1949.4,747.1 L1952.2,743.8 L1954.8,741.8 L1957.4,733.9 L1960.0,730.6 L1962.4,726.9 L1964.8,721.1 L1967.2,724.6 L1969.5,721.6 L1971.7,717.9 L1973.9,710.8 L1976.0,714.1 L1978.1,711.6 L1980.2,707.5 L1982.2,702.3 L1984.2,703.7 L1986.1,702.7 L1988.0,695.3 L1989.8,694.9 L1991.7,693.0 L1993.4,696.6 L1995.2,692.8 L1996.9,692.8 L1998.6,688.8 L2000.3,682.1 L2001.9,680.0 L2003.5,680.0 L2005.1,683.3 L2006.7,680.1 L2008.2,682.1 L2009.7,678.6 L2011.2,675.8 L2012.7,670.4 L2014.1,671.8 L2015.5,668.3 L2016.9,667.2 L2018.3,661.0 L2019.7,662.3 L2021.0,664.7 L2022.3,663.9 L2023.6,656.1 L2024.9,659.6 L2026.2,652.7 L2027.5,655.5 L2028.7,650.9 L2029.9,651.2 L2031.1,646.5 L2032.3,649.9 L2033.5,645.5 L2034.7,641.4 L2035.8,643.7 L2037.0,634.9 L2038.1,633.4 L2039.2,632.0 L2040.3,630.8 L2041.4,629.2 L2042.5,631.8 L2043.5,628.2 L2044.6,631.4 L2045.6,633.7 L2046.7,624.3 L2047.7,623.4 L2048.7,628.9 L2049.7,626.8 L2050.7,627.3 L2051.7,621.7 L2052.6,625.9 L2053.6,618.6 L2054.5,625.1 L2055.5,620.5 L2056.4,615.7 L2057.3,617.6 L2058.2,620.0 L2059.2,620.0 L2060.1,612.7 L2060.9,617.6 L2061.8,615.1 L2062.7,611.5 L2063.6,613.9 L2064.4,616.1 L2065.3,608.2 L2066.1,608.5 L2066.9,609.1 L2067.8,613.6 L2068.6,609.4 L2069.4,604.3 L2070.2,608.3 L2071.0,610.3 L2071.8,603.2 L2072.6,608.5 L2073.4,606.4 L2074.2,609.5 L2074.9,602.3 L2075.7,605.4 L2076.5,604.8 L2077.2,604.9 L2078.0,606.2 L2078.7,604.8 L2079.4,604.1 L2080.2,608.6 L2080.9,601.7 L2081.6,601.0 L2082.3,607.9 L2083.0,606.6 L2083.7,600.8 L2084.4,604.1 L2085.1,605.9 L2085.8,600.3 L2086.5,597.3 L2087.2,603.2 L2087.8,600.6 L2088.5,600.8 L2089.2,600.6 L2089.8,600.0 L2090.5,596.7 L2091.1,597.0 L2091.8,596.5 L2092.4,598.3 L2093.1,597.4 L2093.7,597.3 L2094.3,597.3 L2095.0,597.6 L2095.6,596.8 L2096.2,603.4 L2096.8,602.2 L2097.4,597.3 L2098.0,599.4 L2098.6,601.1 L2099.2,596.9 L2099.8,601.0 L2100.4,595.5 L2101.0,599.6 L2101.6,593.6 L2102.2,599.3 L2102.8,592.8 L2103.3,598.8 L2103.9,594.2 L2104.5,600.4 L2105.0,596.7 L2105.6,597.9 L2106.2,592.9 L2106.7,594.2 L2107.3,595.4 L2107.8,599.7 L2108.4,595.6 L2108.9,598.2 L2109.4,599.5 L2110.0,593.7 L2110.5,595.2 L2111.0,590.8 L2111.6,592.3 L2112.1,600.1 L2112.6,591.3 L2113.1,595.3 L2113.7,590.8 L2114.2,597.5 L2114.7,595.9 L2115.2,593.7 L2115.7,598.0 L2116.2,596.5 L2116.7,597.2 L2117.2,597.2 L2117.7,595.2 L2118.2,595.6 L2118.7,591.9" fill="none" stroke="#9400d3" stroke-width="2" stroke-linejoin="miter" stroke-miterlimit="4"/><path d="M1603.2,895.0L1606.9,901.1L1603.2,907.2L1599.5,901.1Z" fill="#9400d3"/><path d="M1670.7,880.4L1674.4,886.5L1670.7,892.6L1667.0,886.5Z" fill="#9400d3"/><path d="M1738.2,848.5L1741.9,854.6L1738.2,860.7L1734.5,854.6Z" fill="#9400d3"/><path d="M1805.7,821.4L1809.4,827.5L1805.7,833.6L1802.0,827.5Z" fill="#9400d3"/><path d="M1873.2,794.4L1876.9,800.5L1873.2,806.6L1869.5,800.5Z" fill="#9400d3"/><path d="M1940.7,746.3L1944.4,752.4L1940.7,758.5L1937.0,752.4Z" fill="#9400d3"/><path d="M2008.2,676.0L2011.9,682.1L2008.2,688.2L2004.5,682.1Z" fill="#9400d3"/><path d="M2075.7,599.3L2079.4,605.4L2075.7,611.5L2072.0,605.4Z" fill="#9400d3"/><path d="M1603.2,929.7 L1670.7,914.0 L1710.2,901.1 L1738.2,892.4 L1759.9,892.4 L1777.7,886.5 L1792.7,871.9 L1805.7,871.3 L1817.2,871.9 L1827.4,861.6 L1836.7,855.1 L1845.2,855.1 L1853.0,855.1 L1860.2,854.6 L1866.9,853.5 L1873.2,848.6 L1879.1,847.6 L1884.7,846.6 L1889.9,836.6 L1894.9,839.1 L1899.7,842.7 L1904.2,833.8 L1908.5,840.9 L1912.7,838.4 L1916.7,839.1 L1920.5,831.6 L1924.2,828.1 L1927.7,830.0 L1931.1,833.7 L1934.4,825.5 L1937.6,824.4 L1940.7,827.5 L1943.7,829.3 L1946.6,823.2 L1949.4,818.3 L1952.2,817.7 L1954.8,816.9 L1957.4,817.6 L1960.0,822.2 L1962.4,816.5 L1964.8,818.1 L1967.2,815.1 L1969.5,816.4 L1971.7,819.2 L1973.9,810.5 L1976.0,820.3 L1978.1,816.2 L1980.2,815.9 L1982.2,807.8 L1984.2,817.5 L1986.1,811.5 L1988.0,806.6 L1989.8,810.1 L1991.7,805.8 L1993.4,811.7 L1995.2,810.7 L1996.9,811.0 L1998.6,810.6 L2000.3,810.4 L2001.9,813.2 L2003.5,801.9 L2005.1,804.5 L2006.7,804.7 L2008.2,806.5 L2009.7,808.3 L2011.2,806.4 L2012.7,795.9 L2014.1,796.0 L2015.5,798.8 L2016.9,793.8 L2018.3,790.0 L2019.7,799.7 L2021.0,794.6 L2022.3,792.9 L2023.6,792.5 L2024.9,788.9 L2026.2,790.7 L2027.5,791.6 L2028.7,781.6 L2029.9,785.7 L2031.1,780.8 L2032.3,788.3 L2033.5,785.8 L2034.7,783.1 L2035.8,788.1 L2037.0,783.2 L2038.1,785.6 L2039.2,782.6 L2040.3,783.4 L2041.4,777.2 L2042.5,780.1 L2043.5,782.7 L2044.6,778.3 L2045.6,779.2 L2046.7,781.9 L2047.7,774.9 L2048.7,776.9 L2049.7,783.2 L2050.7,776.6 L2051.7,777.9 L2052.6,780.9 L2053.6,769.6 L2054.5,773.0 L2055.5,767.8 L2056.4,773.3 L2057.3,773.0 L2058.2,775.6 L2059.2,768.9 L2060.1,770.3 L2060.9,773.2 L2061.8,764.7 L2062.7,767.0 L2063.6,772.3 L2064.4,761.0 L2065.3,767.0 L2066.1,760.3 L2066.9,765.7 L2067.8,769.4 L2068.6,762.8 L2069.4,763.8 L2070.2,758.8 L2071.0,761.5 L2071.8,762.4 L2072.6,761.3 L2073.4,759.8 L2074.2,756.3 L2074.9,754.8 L2075.7,757.3 L2076.5,761.6 L2077.2,762.7 L2078.0,755.3 L2078.7,759.3 L2079.4,751.5 L2080.2,756.2 L2080.9,749.4 L2081.6,759.5 L2082.3,750.1 L2083.0,758.2 L2083.7,756.3 L2084.4,754.0 L2085.1,755.1 L2085.8,752.8 L2086.5,751.7 L2087.2,750.0 L2087.8,756.6 L2088.5,749.3 L2089.2,751.7 L2089.8,748.4 L2090.5,751.9 L2091.1,745.4 L2091.8,752.2 L2092.4,753.5 L2093.1,745.6 L2093.7,746.4 L2094.3,751.4 L2095.0,749.3 L2095.6,748.1 L2096.2,750.4 L2096.8,745.9 L2097.4,747.2 L2098.0,745.1 L2098.6,742.6 L2099.2,749.2 L2099.8,747.9 L2100.4,742.9 L2101.0,743.5 L2101.6,741.8 L2102.2,746.8 L2102.8,747.2 L2103.3,749.0 L2103.9,745.6 L2104.5,746.0 L2105.0,739.9 L2105.6,744.4 L2106.2,738.9 L2106.7,746.6 L2107.3,744.3 L2107.8,742.4 L2108.4,744.5 L2108.9,741.3 L2109.4,735.0 L2110.0,740.7 L2110.5,743.3 L2111.0,738.2 L2111.6,738.5 L2112.1,734.5 L2112.6,743.0 L2113.1,734.8 L2113.7,735.9 L2114.2,739.1 L2114.7,737.8 L2115.2,740.7 L2115.7,730.3 L2116.2,737.4 L2116.7,735.5 L2117.2,732.4 L2117.7,730.9 L2118.2,732.1 L2118.7,734.0" fill="none" stroke="#f05a14" stroke-width="2" stroke-linejoin="miter" stroke-miterlimit="4"/><path d="M1603.2,923.6L1606.9,929.7L1603.2,935.8L1599.5,929.7Z" fill="#f05a14"/><path d="M1670.7,907.9L1674.4,914.0L1670.7,920.1L1667.0,914.0Z" fill="#f05a14"/><path d="M1738.2,886.3L1741.9,892.4L1738.2,898.5L1734.5,892.4Z" fill="#f05a14"/><path d="M1805.7,865.2L1809.4,871.3L1805.7,877.4L1802.0,871.3Z" fill="#f05a14"/><path d="M1873.2,842.5L1876.9,848.6L1873.2,854.7L1869.5,848.6Z" fill="#f05a14"/><path d="M1940.7,821.4L1944.4,827.5L1940.7,833.6L1937.0,827.5Z" fill="#f05a14"/><path d="M2008.2,800.4L2011.9,806.5L2008.2,812.6L2004.5,806.5Z" fill="#f05a14"/><path d="M2075.7,751.2L2079.4,757.3L2075.7,763.4L2072.0,757.3Z" fill="#f05a14"/><path d="M1603.2,908.6 L1670.7,908.6 L1710.2,894.6 L1738.2,881.6 L1759.9,881.6 L1777.7,876.7 L1792.7,876.7 L1805.7,871.3 L1817.2,865.4 L1827.4,865.4 L1836.7,870.2 L1845.2,860.5 L1853.0,855.1 L1860.2,855.1 L1866.9,855.1 L1873.2,860.0 L1879.1,855.4 L1884.7,852.7 L1889.9,854.3 L1894.9,847.8 L1899.7,856.8 L1904.2,845.5 L1908.5,847.8 L1912.7,846.0 L1916.7,845.3 L1920.5,850.8 L1924.2,843.1 L1927.7,843.9 L1931.1,848.5 L1934.4,839.8 L1937.6,842.5 L1940.7,838.9 L1943.7,843.9 L1946.6,836.9 L1949.4,843.6 L1952.2,842.4 L1954.8,841.4 L1957.4,841.5 L1960.0,835.2 L1962.4,838.7 L1964.8,838.0 L1967.2,830.5 L1969.5,830.1 L1971.7,833.3 L1973.9,834.5 L1976.0,827.9 L1978.1,829.2 L1980.2,830.5 L1982.2,830.4 L1984.2,829.0 L1986.1,826.9 L1988.0,829.5 L1989.8,830.6 L1991.7,824.9 L1993.4,826.9 L1995.2,827.9 L1996.9,824.7 L1998.6,819.8 L2000.3,817.4 L2001.9,825.4 L2003.5,816.4 L2005.1,821.2 L2006.7,814.6 L2008.2,817.8 L2009.7,819.2 L2011.2,814.7 L2012.7,814.7 L2014.1,817.6 L2015.5,809.0 L2016.9,811.6 L2018.3,807.7 L2019.7,815.6 L2021.0,813.7 L2022.3,805.9 L2023.6,811.9 L2024.9,810.4 L2026.2,810.8 L2027.5,804.2 L2028.7,809.3 L2029.9,810.5 L2031.1,810.4 L2032.3,801.4 L2033.5,810.4 L2034.7,809.0 L2035.8,806.9 L2037.0,804.2 L2038.1,801.0 L2039.2,799.3 L2040.3,804.4 L2041.4,802.0 L2042.5,805.6 L2043.5,803.2 L2044.6,808.2 L2045.6,800.3 L2046.7,802.3 L2047.7,800.6 L2048.7,798.5 L2049.7,798.5 L2050.7,796.6 L2051.7,799.1 L2052.6,805.4 L2053.6,802.7 L2054.5,799.1 L2055.5,804.1 L2056.4,800.8 L2057.3,800.5 L2058.2,802.9 L2059.2,799.4 L2060.1,796.3 L2060.9,793.2 L2061.8,795.8 L2062.7,795.9 L2063.6,800.3 L2064.4,791.2 L2065.3,793.2 L2066.1,793.7 L2066.9,795.7 L2067.8,794.4 L2068.6,799.2 L2069.4,796.6 L2070.2,799.2 L2071.0,788.5 L2071.8,794.9 L2072.6,791.5 L2073.4,790.0 L2074.2,792.8 L2074.9,787.0 L2075.7,791.9 L2076.5,791.7 L2077.2,796.3 L2078.0,788.1 L2078.7,790.8 L2079.4,795.8 L2080.2,788.0 L2080.9,789.1 L2081.6,784.8 L2082.3,788.7 L2083.0,790.5 L2083.7,793.5 L2084.4,792.8 L2085.1,786.3 L2085.8,785.1 L2086.5,790.1 L2087.2,787.5 L2087.8,791.2 L2088.5,793.2 L2089.2,790.6 L2089.8,791.2 L2090.5,783.7 L2091.1,791.5 L2091.8,789.8 L2092.4,787.1 L2093.1,781.4 L2093.7,787.8 L2094.3,787.2 L2095.0,782.0 L2095.6,784.7 L2096.2,779.6 L2096.8,783.6 L2097.4,785.8 L2098.0,778.7 L2098.6,781.4 L2099.2,782.8 L2099.8,778.4 L2100.4,783.5 L2101.0,784.5 L2101.6,784.1 L2102.2,783.2 L2102.8,777.1 L2103.3,776.6 L2103.9,783.2 L2104.5,784.3 L2105.0,782.3 L2105.6,783.9 L2106.2,777.3 L2106.7,779.8 L2107.3,776.2 L2107.8,781.0 L2108.4,775.4 L2108.9,774.0 L2109.4,778.8 L2110.0,771.2 L2110.5,778.6 L2111.0,770.7 L2111.6,770.6 L2112.1,771.3 L2112.6,776.3 L2113.1,772.0 L2113.7,770.5 L2114.2,776.5 L2114.7,771.9 L2115.2,776.2 L2115.7,777.2 L2116.2,770.1 L2116.7,771.8 L2117.2,771.2 L2117.7,778.4 L2118.2,774.5 L2118.7,778.5" fill="none" stroke="#f5a013" stroke-width="2" stroke-linejoin="miter" stroke-miterlimit="4"/><path d="M1603.2,902.5L1606.9,908.6L1603.2,914.7L1599.5,908.6Z" fill="#f5a013"/><path d="M1670.7,902.5L1674.4,908.6L1670.7,914.7L1667.0,908.6Z" fill="#f5a013"/><path d="M1738.2,875.5L1741.9,881.6L1738.2,887.7L1734.5,881.6Z" fill="#f5a013"/><path d="M1805.7,865.2L1809.4,871.3L1805.7,877.4L1802.0,871.3Z" fill="#f5a013"/><path d="M1873.2,853.9L1876.9,860.0L1873.2,866.1L1869.5,860.0Z" fill="#f5a013"/><path d="M1940.7,832.8L1944.4,838.9L1940.7,845.0L1937.0,838.9Z" fill="#f5a013"/><path d="M2008.2,811.7L2011.9,817.8L2008.2,823.9L2004.5,817.8Z" fill="#f5a013"/><path d="M2075.7,785.8L2079.4,791.9L2075.7,798.0L2072.0,791.9Z" fill="#f5a013"/></g><rect x="1587.0" y="580.3" width="115.4" height="145.9" rx="3" ry="3" fill="#fff" fill-opacity="0.8" stroke="#d0d0d0" stroke-width="1.3"/><line x1="1595.5" y1="599.7" x2="1644.5" y2="599.7" stroke="#1f48e6" stroke-width="2"/><text x="1662.4" y="608.0" font-size="23.4">PF</text><line x1="1595.5" y1="634.4" x2="1644.5" y2="634.4" stroke="#9400d3" stroke-width="2"/><text x="1662.4" y="642.7" font-size="23.4">FT</text><line x1="1595.5" y1="669.1" x2="1644.5" y2="669.1" stroke="#f05a14" stroke-width="2"/><text x="1662.4" y="677.4" font-size="23.4">AP</text><line x1="1595.5" y1="703.8" x2="1644.5" y2="703.8" stroke="#f5a013" stroke-width="2"/><text x="1662.4" y="712.1" font-size="23.4">LR</text><rect x="1575.3" y="568.6" width="567.9" height="378.4" fill="none" stroke="#1c1c1c" stroke-width="1.3"/><line x1="1570.7" y1="947.0" x2="1575.3" y2="947.0" stroke="#000" stroke-width="1.3"/><text x="1566.2" y="956.3" font-size="23.6" text-anchor="end">0.04</text><line x1="1570.7" y1="852.4" x2="1575.3" y2="852.4" stroke="#000" stroke-width="1.3"/><text x="1566.2" y="861.7" font-size="23.6" text-anchor="end">0.21</text><line x1="1570.7" y1="757.8" x2="1575.3" y2="757.8" stroke="#000" stroke-width="1.3"/><text x="1566.2" y="767.1" font-size="23.6" text-anchor="end">0.39</text><line x1="1570.7" y1="663.2" x2="1575.3" y2="663.2" stroke="#000" stroke-width="1.3"/><text x="1566.2" y="672.5" font-size="23.6" text-anchor="end">0.57</text><line x1="1570.7" y1="568.6" x2="1575.3" y2="568.6" stroke="#000" stroke-width="1.3"/><text x="1566.2" y="577.9" font-size="23.6" text-anchor="end">0.74</text><line x1="1603.2" y1="947.0" x2="1603.2" y2="951.6" stroke="#000" stroke-width="1.3"/><text x="1603.2" y="968.4" font-size="15.7" text-anchor="middle">100</text><line x1="1670.7" y1="947.0" x2="1670.7" y2="951.6" stroke="#000" stroke-width="1.3"/><text x="1670.7" y="968.4" font-size="15.7" text-anchor="middle">200</text><line x1="1738.2" y1="947.0" x2="1738.2" y2="951.6" stroke="#000" stroke-width="1.3"/><text x="1738.2" y="968.4" font-size="15.7" text-anchor="middle">400</text><line x1="1805.7" y1="947.0" x2="1805.7" y2="951.6" stroke="#000" stroke-width="1.3"/><text x="1805.7" y="968.4" font-size="15.7" text-anchor="middle">800</text><line x1="1873.2" y1="947.0" x2="1873.2" y2="951.6" stroke="#000" stroke-width="1.3"/><text x="1873.2" y="968.4" font-size="15.7" text-anchor="middle">1600</text><line x1="1940.7" y1="947.0" x2="1940.7" y2="951.6" stroke="#000" stroke-width="1.3"/><text x="1940.7" y="968.4" font-size="15.7" text-anchor="middle">3200</text><line x1="2008.2" y1="947.0" x2="2008.2" y2="951.6" stroke="#000" stroke-width="1.3"/><text x="2008.2" y="968.4" font-size="15.7" text-anchor="middle">6400</text><line x1="2075.7" y1="947.0" x2="2075.7" y2="951.6" stroke="#000" stroke-width="1.3"/><text x="2075.7" y="968.4" font-size="15.7" text-anchor="middle">12800</text><line x1="2143.2" y1="947.0" x2="2143.2" y2="951.6" stroke="#000" stroke-width="1.3"/><text x="2143.2" y="968.4" font-size="15.7" text-anchor="middle">25600</text><text x="1859.2" y="995.2" font-size="24" text-anchor="middle">steps</text><text transform="translate(1504.0,757.8) rotate(-90)" font-size="23.8" text-anchor="middle">EM</text><text x="1859.2" y="560.4" font-size="28.5" text-anchor="middle">lama-conceptnet</text></g>
<g><clipPath id="c6"><rect x="90.5" y="1107.3" width="567.9" height="378.4"/></clipPath><line x1="90.5" y1="1391.1" x2="658.4" y2="1391.1" stroke="#b0b0b0" stroke-width="1.1" stroke-dasharray="2.6,0.9"/><line x1="90.5" y1="1296.5" x2="658.4" y2="1296.5" stroke="#b0b0b0" stroke-width="1.1" stroke-dasharray="2.6,0.9"/><line x1="90.5" y1="1201.9" x2="658.4" y2="1201.9" stroke="#b0b0b0" stroke-width="1.1" stroke-dasharray="2.6,0.9"/><g clip-path="url(#c6)"><path d="M118.4,1468.1 L185.9,1456.0 L225.4,1403.3 L253.4,1415.4 L275.1,1415.4 L292.9,1364.1 L307.9,1337.0 L320.9,1364.1 L332.4,1337.0 L342.6,1337.0 L351.9,1337.0 L360.4,1310.0 L368.2,1322.2 L375.4,1310.0 L382.1,1299.2 L388.4,1299.2 L394.3,1310.0 L399.9,1296.5 L405.1,1310.0 L410.1,1310.0 L414.9,1296.5 L419.4,1296.5 L423.7,1289.7 L427.9,1283.0 L431.9,1283.0 L435.7,1269.5 L439.4,1271.9 L442.9,1271.9 L446.3,1285.0 L449.6,1258.8 L452.8,1258.8 L455.9,1271.9 L458.9,1271.9 L461.8,1258.8 L464.6,1271.9 L467.4,1258.8 L470.0,1258.8 L472.6,1245.8 L475.2,1258.8 L477.6,1245.8 L480.0,1245.8 L482.4,1245.8 L484.7,1258.8 L486.9,1245.8 L489.1,1258.8 L491.2,1232.7 L493.3,1245.8 L495.4,1245.8 L497.4,1232.7 L499.4,1245.8 L501.3,1232.7 L503.2,1232.7 L505.0,1232.7 L506.9,1245.8 L508.6,1245.8 L510.4,1245.8 L512.1,1232.7 L513.8,1245.8 L515.5,1245.8 L517.1,1245.8 L518.7,1245.8 L520.3,1245.8 L521.9,1245.8 L523.4,1245.8 L524.9,1245.8 L526.4,1245.8 L527.9,1232.7 L529.3,1232.7 L530.7,1232.7 L532.1,1245.8 L533.5,1245.8 L534.9,1232.7 L536.2,1232.7 L537.5,1232.7 L538.8,1232.7 L540.1,1232.7 L541.4,1232.7 L542.7,1219.7 L543.9,1219.7 L545.1,1219.7 L546.3,1219.7 L547.5,1219.7 L548.7,1232.7 L549.9,1232.7 L551.0,1219.7 L552.2,1219.7 L553.3,1219.7 L554.4,1219.7 L555.5,1232.7 L556.6,1232.7 L557.7,1219.7 L558.7,1206.6 L559.8,1219.7 L560.8,1219.7 L561.9,1232.7 L562.9,1219.7 L563.9,1232.7 L564.9,1219.7 L565.9,1232.7 L566.9,1219.7 L567.8,1219.7 L568.8,1232.7 L569.7,1219.7 L570.7,1219.7 L571.6,1219.7 L572.5,1206.6 L573.4,1219.7 L574.4,1206.6 L575.3,1219.7 L576.1,1219.7 L577.0,1219.7 L577.9,1219.7 L578.8,1219.7 L579.6,1219.7 L580.5,1232.7 L581.3,1219.7 L582.1,1232.7 L583.0,1219.7 L583.8,1219.7 L584.6,1219.7 L585.4,1206.6 L586.2,1219.7 L587.0,1219.7 L587.8,1219.7 L588.6,1219.7 L589.4,1219.7 L590.1,1232.7 L590.9,1206.6 L591.7,1219.7 L592.4,1219.7 L593.2,1206.6 L593.9,1219.7 L594.6,1219.7 L595.4,1206.6 L596.1,1232.7 L596.8,1219.7 L597.5,1219.7 L598.2,1219.7 L598.9,1219.7 L599.6,1206.6 L600.3,1232.7 L601.0,1219.7 L601.7,1219.7 L602.4,1206.6 L603.0,1219.7 L603.7,1232.7 L604.4,1206.6 L605.0,1206.6 L605.7,1219.7 L606.3,1206.6 L607.0,1219.7 L607.6,1219.7 L608.3,1219.7 L608.9,1232.7 L609.5,1206.6 L610.2,1232.7 L610.8,1232.7 L611.4,1206.6 L612.0,1219.7 L612.6,1232.7 L613.2,1206.6 L613.8,1219.7 L614.4,1219.7 L615.0,1232.7 L615.6,1232.7 L616.2,1219.7 L616.8,1219.7 L617.4,1232.7 L618.0,1206.6" fill="none" stroke="#1f48e6" stroke-width="2" stroke-linejoin="miter" stroke-miterlimit="4"/><path d="M118.4,1462.0L122.1,1468.1L118.4,1474.2L114.7,1468.1Z" fill="#1f48e6"/><path d="M185.9,1449.9L189.6,1456.0L185.9,1462.1L182.2,1456.0Z" fill="#1f48e6"/><path d="M253.4,1409.3L257.1,1415.4L253.4,1421.5L249.7,1415.4Z" fill="#1f48e6"/><path d="M320.9,1358.0L324.6,1364.1L320.9,1370.2L317.2,1364.1Z" fill="#1f48e6"/><path d="M388.4,1293.1L392.1,1299.2L388.4,1305.3L384.7,1299.2Z" fill="#1f48e6"/><path d="M455.9,1265.8L459.6,1271.9L455.9,1278.0L452.2,1271.9Z" fill="#1f48e6"/><path d="M523.4,1239.7L527.1,1245.8L523.4,1251.9L519.7,1245.8Z" fill="#1f48e6"/><path d="M590.9,1200.5L594.6,1206.6L590.9,1212.7L587.2,1206.6Z" fill="#1f48e6"/><path d="M118.4,1364.1 L185.9,1296.5 L225.4,1269.5 L253.4,1269.5 L275.1,1269.5 L292.9,1242.4 L307.9,1242.4 L320.9,1243.8 L332.4,1228.9 L342.6,1203.3 L351.9,1218.1 L360.4,1203.3 L368.2,1203.3 L375.4,1218.1 L382.1,1218.1 L388.4,1218.1 L394.3,1203.3 L399.9,1177.6 L405.1,1189.7 L410.1,1189.7 L414.9,1177.6 L419.4,1177.6 L423.7,1193.6 L427.9,1167.5 L431.9,1154.4 L435.7,1180.5 L439.4,1180.5 L442.9,1180.5 L446.3,1167.5 L449.6,1167.5 L452.8,1180.5 L455.9,1193.6 L458.9,1167.5 L461.8,1180.5 L464.6,1180.5 L467.4,1167.5 L470.0,1167.5 L472.6,1180.5 L475.2,1154.4 L477.6,1167.5 L480.0,1154.4 L482.4,1180.5 L484.7,1167.5 L486.9,1180.5 L489.1,1167.5 L491.2,1167.5 L493.3,1167.5 L495.4,1167.5 L497.4,1154.4 L499.4,1154.4 L501.3,1167.5 L503.2,1167.5 L505.0,1167.5 L506.9,1141.4 L508.6,1141.4 L510.4,1154.4 L512.1,1167.5 L513.8,1141.4 L515.5,1167.5 L517.1,1180.5 L518.7,1167.5 L520.3,1167.5 L521.9,1141.4 L523.4,1167.5 L524.9,1167.5 L526.4,1154.4 L527.9,1167.5 L529.3,1154.4 L530.7,1154.4 L532.1,1141.4 L533.5,1141.4 L534.9,1154.4 L536.2,1141.4 L537.5,1141.4 L538.8,1128.3 L540.1,1154.4 L541.4,1141.4 L542.7,1128.3 L543.9,1154.4 L545.1,1154.4 L546.3,1141.4 L547.5,1141.4 L548.7,1128.3 L549.9,1154.4 L551.0,1128.3 L552.2,1154.4 L553.3,1128.3 L554.4,1154.4 L555.5,1154.4 L556.6,1128.3 L557.7,1154.4 L558.7,1128.3 L559.8,1154.4 L560.8,1141.4 L561.9,1141.4 L562.9,1128.3 L563.9,1128.3 L564.9,1128.3 L565.9,1154.4 L566.9,1128.3 L567.8,1141.4 L568.8,1128.3 L569.7,1128.3 L570.7,1128.3 L571.6,1141.4 L572.5,1141.4" fill="none" stroke="#9400d3" stroke-width="2" stroke-linejoin="miter" stroke-miterlimit="4"/><path d="M118.4,1358.0L122.1,1364.1L118.4,1370.2L114.7,1364.1Z" fill="#9400d3"/><path d="M185.9,1290.4L189.6,1296.5L185.9,1302.6L182.2,1296.5Z" fill="#9400d3"/><path d="M253.4,1263.4L257.1,1269.5L253.4,1275.6L249.7,1269.5Z" fill="#9400d3"/><path d="M320.9,1237.7L324.6,1243.8L320.9,1249.9L317.2,1243.8Z" fill="#9400d3"/><path d="M388.4,1212.0L392.1,1218.1L388.4,1224.2L384.7,1218.1Z" fill="#9400d3"/><path d="M455.9,1187.5L459.6,1193.6L455.9,1199.7L452.2,1193.6Z" fill="#9400d3"/><path d="M523.4,1161.4L527.1,1167.5L523.4,1173.6L519.7,1167.5Z" fill="#9400d3"/><path d="M118.4,1468.1 L185.9,1403.3 L225.4,1377.6 L253.4,1337.0 L275.1,1350.6 L292.9,1337.0 L307.9,1310.0 L320.9,1296.5 L332.4,1283.0 L342.6,1283.0 L351.9,1256.0 L360.4,1269.5 L368.2,1256.0 L375.4,1269.5 L382.1,1269.5 L388.4,1283.0 L394.3,1256.0 L399.9,1228.9 L405.1,1228.9 L410.1,1228.9 L414.9,1245.8 L419.4,1232.7 L423.7,1219.7 L427.9,1219.7 L431.9,1219.7 L435.7,1219.7 L439.4,1219.7 L442.9,1232.7 L446.3,1232.7 L449.6,1219.7 L452.8,1206.6 L455.9,1206.6 L458.9,1219.7 L461.8,1219.7 L464.6,1206.6 L467.4,1219.7 L470.0,1206.6 L472.6,1193.6 L475.2,1206.6 L477.6,1219.7 L480.0,1193.6 L482.4,1193.6 L484.7,1206.6 L486.9,1193.6 L489.1,1193.6 L491.2,1193.6 L493.3,1206.6 L495.4,1206.6 L497.4,1180.5 L499.4,1206.6 L501.3,1206.6 L503.2,1206.6 L505.0,1180.5 L506.9,1206.6 L508.6,1206.6 L510.4,1193.6 L512.1,1206.6 L513.8,1180.5 L515.5,1206.6 L517.1,1180.5 L518.7,1206.6 L520.3,1206.6 L521.9,1193.6 L523.4,1193.6 L524.9,1193.6 L526.4,1180.5 L527.9,1193.6 L529.3,1180.5 L530.7,1193.6 L532.1,1193.6 L533.5,1167.5 L534.9,1180.5 L536.2,1193.6 L537.5,1167.5 L538.8,1193.6 L540.1,1180.5 L541.4,1180.5 L542.7,1180.5 L543.9,1193.6 L545.1,1167.5 L546.3,1167.5 L547.5,1167.5 L548.7,1180.5 L549.9,1180.5 L551.0,1180.5 L552.2,1180.5 L553.3,1180.5 L554.4,1167.5 L555.5,1193.6 L556.6,1167.5 L557.7,1167.5 L558.7,1180.5 L559.8,1180.5 L560.8,1193.6 L561.9,1193.6 L562.9,1193.6 L563.9,1193.6 L564.9,1167.5 L565.9,1193.6 L566.9,1167.5 L567.8,1167.5 L568.8,1180.5 L569.7,1167.5 L570.7,1180.5 L571.6,1180.5 L572.5,1180.5 L573.4,1180.5 L574.4,1193.6 L575.3,1167.5 L576.1,1193.6 L577.0,1193.6 L577.9,1193.6 L578.8,1167.5 L579.6,1167.5" fill="none" stroke="#f05a14" stroke-width="2" stroke-linejoin="miter" stroke-miterlimit="4"/><path d="M118.4,1462.0L122.1,1468.1L118.4,1474.2L114.7,1468.1Z" fill="#f05a14"/><path d="M185.9,1397.2L189.6,1403.3L185.9,1409.4L182.2,1403.3Z" fill="#f05a14"/><path d="M253.4,1330.9L257.1,1337.0L253.4,1343.1L249.7,1337.0Z" fill="#f05a14"/><path d="M320.9,1290.4L324.6,1296.5L320.9,1302.6L317.2,1296.5Z" fill="#f05a14"/><path d="M388.4,1276.9L392.1,1283.0L388.4,1289.1L384.7,1283.0Z" fill="#f05a14"/><path d="M455.9,1200.5L459.6,1206.6L455.9,1212.7L452.2,1206.6Z" fill="#f05a14"/><path d="M523.4,1187.5L527.1,1193.6L523.4,1199.7L519.7,1193.6Z" fill="#f05a14"/><path d="M118.4,1428.9 L185.9,1428.9 L225.4,1403.3 L253.4,1377.6 L275.1,1377.6 L292.9,1350.6 L307.9,1337.0 L320.9,1337.0 L332.4,1322.2 L342.6,1322.2 L351.9,1310.0 L360.4,1296.5 L368.2,1296.5 L375.4,1296.5 L382.1,1296.5 L388.4,1296.5 L394.3,1269.5 L399.9,1283.0 L405.1,1269.5 L410.1,1283.0 L414.9,1258.8 L419.4,1258.8 L423.7,1258.8 L427.9,1258.8 L431.9,1245.8 L435.7,1232.7 L439.4,1219.7 L442.9,1232.7 L446.3,1232.7 L449.6,1232.7 L452.8,1219.7 L455.9,1245.8 L458.9,1232.7 L461.8,1232.7 L464.6,1245.8 L467.4,1232.7 L470.0,1232.7 L472.6,1219.7 L475.2,1219.7 L477.6,1206.6 L480.0,1219.7 L482.4,1232.7 L484.7,1206.6 L486.9,1206.6 L489.1,1232.7 L491.2,1206.6 L493.3,1206.6 L495.4,1206.6 L497.4,1219.7 L499.4,1219.7 L501.3,1219.7 L503.2,1219.7 L505.0,1232.7 L506.9,1219.7 L508.6,1206.6 L510.4,1232.7 L512.1,1219.7 L513.8,1219.7 L515.5,1219.7 L517.1,1219.7 L518.7,1219.7 L520.3,1206.6 L521.9,1219.7 L523.4,1219.7 L524.9,1219.7 L526.4,1219.7 L527.9,1206.6 L529.3,1232.7 L530.7,1206.6 L532.1,1219.7 L533.5,1219.7 L534.9,1193.6 L536.2,1206.6 L537.5,1219.7 L538.8,1206.6 L540.1,1206.6 L541.4,1206.6 L542.7,1206.6 L543.9,1206.6 L545.1,1219.7 L546.3,1206.6 L547.5,1206.6 L548.7,1206.6 L549.9,1206.6 L551.0,1193.6 L552.2,1206.6 L553.3,1193.6 L554.4,1206.6 L555.5,1193.6 L556.6,1206.6 L557.7,1193.6 L558.7,1206.6 L559.8,1193.6 L560.8,1206.6 L561.9,1206.6 L562.9,1193.6 L563.9,1193.6 L564.9,1193.6 L565.9,1193.6 L566.9,1193.6 L567.8,1180.5 L568.8,1206.6 L569.7,1206.6 L570.7,1180.5 L571.6,1193.6 L572.5,1193.6 L573.4,1180.5 L574.4,1206.6 L575.3,1193.6 L576.1,1193.6 L577.0,1180.5 L577.9,1193.6 L578.8,1193.6 L579.6,1180.5 L580.5,1180.5 L581.3,1193.6 L582.1,1180.5 L583.0,1193.6 L583.8,1193.6 L584.6,1193.6 L585.4,1193.6 L586.2,1180.5 L587.0,1180.5 L587.8,1180.5 L588.6,1180.5 L589.4,1180.5 L590.1,1180.5 L590.9,1193.6 L591.7,1180.5 L592.4,1193.6 L593.2,1193.6 L593.9,1180.5 L594.6,1193.6 L595.4,1193.6 L596.1,1193.6 L596.8,1180.5 L597.5,1180.5 L598.2,1193.6 L598.9,1193.6 L599.6,1193.6 L600.3,1180.5 L601.0,1193.6 L601.7,1193.6 L602.4,1180.5 L603.0,1180.5 L603.7,1193.6 L604.4,1180.5" fill="none" stroke="#f5a013" stroke-width="2" stroke-linejoin="miter" stroke-miterlimit="4"/><path d="M118.4,1422.8L122.1,1428.9L118.4,1435.0L114.7,1428.9Z" fill="#f5a013"/><path d="M185.9,1422.8L189.6,1428.9L185.9,1435.0L182.2,1428.9Z" fill="#f5a013"/><path d="M253.4,1371.5L257.1,1377.6L253.4,1383.7L249.7,1377.6Z" fill="#f5a013"/><path d="M320.9,1330.9L324.6,1337.0L320.9,1343.1L317.2,1337.0Z" fill="#f5a013"/><path d="M388.4,1290.4L392.1,1296.5L388.4,1302.6L384.7,1296.5Z" fill="#f5a013"/><path d="M455.9,1239.7L459.6,1245.8L455.9,1251.9L452.2,1245.8Z" fill="#f5a013"/><path d="M523.4,1213.6L527.1,1219.7L523.4,1225.8L519.7,1219.7Z" fill="#f5a013"/><path d="M590.9,1187.5L594.6,1193.6L590.9,1199.7L587.2,1193.6Z" fill="#f5a013"/></g><rect x="102.2" y="1119.0" width="115.4" height="145.9" rx="3" ry="3" fill="#fff" fill-opacity="0.8" stroke="#d0d0d0" stroke-width="1.3"/><line x1="110.7" y1="1138.4" x2="159.7" y2="1138.4" stroke="#1f48e6" stroke-width="2"/><text x="177.6" y="1146.7" font-size="23.4">PF</text><line x1="110.7" y1="1173.1" x2="159.7" y2="1173.1" stroke="#9400d3" stroke-width="2"/><text x="177.6" y="1181.4" font-size="23.4">FT</text><line x1="110.7" y1="1207.8" x2="159.7" y2="1207.8" stroke="#f05a14" stroke-width="2"/><text x="177.6" y="1216.1" font-size="23.4">AP</text><line x1="110.7" y1="1242.5" x2="159.7" y2="1242.5" stroke="#f5a013" stroke-width="2"/><text x="177.6" y="1250.8" font-size="23.4">LR</text><rect x="90.5" y="1107.3" width="567.9" height="378.4" fill="none" stroke="#1c1c1c" stroke-width="1.3"/><line x1="85.9" y1="1485.7" x2="90.5" y2="1485.7" stroke="#000" stroke-width="1.3"/><text x="81.4" y="1495.0" font-size="23.6" text-anchor="end">0.43</text><line x1="85.9" y1="1391.1" x2="90.5" y2="1391.1" stroke="#000" stroke-width="1.3"/><text x="81.4" y="1400.4" font-size="23.6" text-anchor="end">0.5</text><line x1="85.9" y1="1296.5" x2="90.5" y2="1296.5" stroke="#000" stroke-width="1.3"/><text x="81.4" y="1305.8" font-size="23.6" text-anchor="end">0.57</text><line x1="85.9" y1="1201.9" x2="90.5" y2="1201.9" stroke="#000" stroke-width="1.3"/><text x="81.4" y="1211.2" font-size="23.6" text-anchor="end">0.64</text><line x1="85.9" y1="1107.3" x2="90.5" y2="1107.3" stroke="#000" stroke-width="1.3"/><text x="81.4" y="1116.6" font-size="23.6" text-anchor="end">0.71</text><line x1="118.4" y1="1485.7" x2="118.4" y2="1490.3" stroke="#000" stroke-width="1.3"/><text x="118.4" y="1507.1" font-size="15.7" text-anchor="middle">100</text><line x1="185.9" y1="1485.7" x2="185.9" y2="1490.3" stroke="#000" stroke-width="1.3"/><text x="185.9" y="1507.1" font-size="15.7" text-anchor="middle">200</text><line x1="253.4" y1="1485.7" x2="253.4" y2="1490.3" stroke="#000" stroke-width="1.3"/><text x="253.4" y="1507.1" font-size="15.7" text-anchor="middle">400</text><line x1="320.9" y1="1485.7" x2="320.9" y2="1490.3" stroke="#000" stroke-width="1.3"/><text x="320.9" y="1507.1" font-size="15.7" text-anchor="middle">800</text><line x1="388.4" y1="1485.7" x2="388.4" y2="1490.3" stroke="#000" stroke-width="1.3"/><text x="388.4" y="1507.1" font-size="15.7" text-anchor="middle">1600</text><line x1="455.9" y1="1485.7" x2="455.9" y2="1490.3" stroke="#000" stroke-width="1.3"/><text x="455.9" y="1507.1" font-size="15.7" text-anchor="middle">3200</text><line x1="523.4" y1="1485.7" x2="523.4" y2="1490.3" stroke="#000" stroke-width="1.3"/><text x="523.4" y="1507.1" font-size="15.7" text-anchor="middle">6400</text><line x1="590.9" y1="1485.7" x2="590.9" y2="1490.3" stroke="#000" stroke-width="1.3"/><text x="590.9" y="1507.1" font-size="15.7" text-anchor="middle">12800</text><line x1="658.4" y1="1485.7" x2="658.4" y2="1490.3" stroke="#000" stroke-width="1.3"/><text x="658.4" y="1507.1" font-size="15.7" text-anchor="middle">25600</text><text x="374.4" y="1533.9" font-size="24" text-anchor="middle">steps</text><text transform="translate(19.2,1296.5) rotate(-90)" font-size="23.8" text-anchor="middle">EM</text><text x="374.4" y="1099.1" font-size="28.5" text-anchor="middle">lama-trex</text></g>
<g><clipPath id="c7"><rect x="832.9" y="1107.3" width="567.9" height="378.4"/></clipPath><line x1="832.9" y1="1468.9" x2="1400.8" y2="1468.9" stroke="#b0b0b0" stroke-width="1.1" stroke-dasharray="2.6,0.9"/><line x1="832.9" y1="1378.5" x2="1400.8" y2="1378.5" stroke="#b0b0b0" stroke-width="1.1" stroke-dasharray="2.6,0.9"/><line x1="832.9" y1="1288.1" x2="1400.8" y2="1288.1" stroke="#b0b0b0" stroke-width="1.1" stroke-dasharray="2.6,0.9"/><line x1="832.9" y1="1197.7" x2="1400.8" y2="1197.7" stroke="#b0b0b0" stroke-width="1.1" stroke-dasharray="2.6,0.9"/><g clip-path="url(#c7)"><path d="M860.8,1447.6 L928.3,1404.0 L967.8,1413.6 L995.8,1413.6 L1017.5,1413.6 L1035.3,1413.6 L1050.3,1413.6 L1063.3,1382.8 L1074.8,1413.6 L1085.0,1373.2 L1094.3,1413.6 L1102.8,1340.2 L1110.6,1404.0 L1117.8,1404.0 L1124.5,1310.4 L1130.8,1415.7 L1136.7,1349.8 L1142.3,1340.2 L1147.5,1349.8 L1152.5,1359.4 L1157.3,1303.0 L1161.8,1296.6 L1166.1,1339.1 L1170.3,1296.6 L1174.3,1318.9 L1178.1,1296.6 L1181.8,1315.8 L1185.3,1296.6 L1188.7,1275.3 L1192.0,1315.8 L1195.2,1263.6 L1198.3,1328.5 L1201.3,1263.6 L1204.2,1296.6 L1207.0,1306.2 L1209.8,1336.0 L1212.4,1358.3 L1215.0,1307.2 L1217.6,1330.6 L1220.0,1237.1 L1222.4,1349.8 L1224.8,1205.1 L1227.1,1287.3 L1229.3,1292.4 L1231.5,1277.5 L1233.6,1298.1 L1235.7,1239.1 L1237.8,1323.8 L1239.8,1285.2 L1241.8,1243.9 L1243.7,1262.2 L1245.6,1222.3 L1247.4,1299.4 L1249.3,1289.0 L1251.0,1294.2 L1252.8,1314.6 L1254.5,1320.4 L1256.2,1262.9 L1257.9,1289.0 L1259.5,1251.6 L1261.1,1201.5 L1262.7,1195.8 L1264.3,1222.0 L1265.8,1199.8 L1267.3,1269.4 L1268.8,1202.2 L1270.3,1285.5 L1271.7,1221.1 L1273.1,1281.0 L1274.5,1253.7 L1275.9,1238.2" fill="none" stroke="#1f48e6" stroke-width="2" stroke-linejoin="miter" stroke-miterlimit="4"/><path d="M860.8,1441.5L864.5,1447.6L860.8,1453.7L857.1,1447.6Z" fill="#1f48e6"/><path d="M928.3,1397.9L932.0,1404.0L928.3,1410.1L924.6,1404.0Z" fill="#1f48e6"/><path d="M995.8,1407.5L999.5,1413.6L995.8,1419.7L992.1,1413.6Z" fill="#1f48e6"/><path d="M1063.3,1376.7L1067.0,1382.8L1063.3,1388.9L1059.6,1382.8Z" fill="#1f48e6"/><path d="M1130.8,1409.6L1134.5,1415.7L1130.8,1421.8L1127.1,1415.7Z" fill="#1f48e6"/><path d="M1198.3,1322.4L1202.0,1328.5L1198.3,1334.6L1194.6,1328.5Z" fill="#1f48e6"/><path d="M1265.8,1193.7L1269.5,1199.8L1265.8,1205.9L1262.1,1199.8Z" fill="#1f48e6"/><path d="M860.8,1360.4 L928.3,1339.1 L967.8,1339.1 L995.8,1275.3 L1017.5,1211.5 L1035.3,1178.6 L1050.3,1210.5 L1063.3,1264.7 L1074.8,1166.9 L1085.0,1187.1 L1094.3,1230.7 L1102.8,1157.3 L1110.6,1177.5 L1117.8,1166.9 L1124.5,1157.3 L1130.8,1166.9 L1136.7,1145.6 L1142.3,1177.5 L1147.5,1177.5 L1152.5,1157.3 L1157.3,1161.2 L1161.8,1150.2 L1166.1,1149.7 L1170.3,1134.9 L1174.3,1139.9 L1178.1,1140.6 L1181.8,1144.1 L1185.3,1160.8 L1188.7,1136.7 L1192.0,1152.0 L1195.2,1147.2 L1198.3,1157.3 L1201.3,1155.3 L1204.2,1137.5 L1207.0,1125.4 L1209.8,1160.3 L1212.4,1151.9 L1215.0,1150.6 L1217.6,1145.4 L1220.0,1145.0 L1222.4,1155.1 L1224.8,1161.2 L1227.1,1150.2 L1229.3,1152.3 L1231.5,1145.1 L1233.6,1144.8 L1235.7,1140.2 L1237.8,1149.3 L1239.8,1151.4 L1241.8,1143.4 L1243.7,1135.4 L1245.6,1143.5 L1247.4,1164.1 L1249.3,1155.7 L1251.0,1166.9 L1252.8,1135.0" fill="none" stroke="#9400d3" stroke-width="2" stroke-linejoin="miter" stroke-miterlimit="4"/><path d="M860.8,1354.3L864.5,1360.4L860.8,1366.5L857.1,1360.4Z" fill="#9400d3"/><path d="M928.3,1333.0L932.0,1339.1L928.3,1345.2L924.6,1339.1Z" fill="#9400d3"/><path d="M995.8,1269.2L999.5,1275.3L995.8,1281.4L992.1,1275.3Z" fill="#9400d3"/><path d="M1063.3,1258.6L1067.0,1264.7L1063.3,1270.8L1059.6,1264.7Z" fill="#9400d3"/><path d="M1130.8,1160.8L1134.5,1166.9L1130.8,1173.0L1127.1,1166.9Z" fill="#9400d3"/><path d="M1198.3,1151.2L1202.0,1157.3L1198.3,1163.4L1194.6,1157.3Z" fill="#9400d3"/><path d="M860.8,1468.9 L928.3,1349.8 L967.8,1413.6 L995.8,1414.7 L1017.5,1404.0 L1035.3,1413.6 L1050.3,1349.8 L1063.3,1382.8 L1074.8,1371.1 L1085.0,1371.1 L1094.3,1400.8 L1102.8,1307.2 L1110.6,1404.0 L1117.8,1307.2 L1124.5,1307.2 L1130.8,1318.9 L1136.7,1349.8 L1142.3,1340.2 L1147.5,1307.2 L1152.5,1307.2 L1157.3,1286.0 L1161.8,1309.4 L1166.1,1315.8 L1170.3,1240.2 L1174.3,1275.3 L1178.1,1275.3 L1181.8,1264.7 L1185.3,1275.3 L1188.7,1214.7 L1192.0,1250.9 L1195.2,1245.6 L1198.3,1242.4 L1201.3,1219.3 L1204.2,1183.3 L1207.0,1255.3 L1209.8,1226.1 L1212.4,1256.2 L1215.0,1197.4 L1217.6,1240.1 L1220.0,1227.4 L1222.4,1177.3 L1224.8,1249.2 L1227.1,1238.5 L1229.3,1223.2 L1231.5,1173.2 L1233.6,1205.1 L1235.7,1190.4 L1237.8,1163.9 L1239.8,1227.9 L1241.8,1207.0 L1243.7,1233.5 L1245.6,1174.4 L1247.4,1247.1 L1249.3,1176.3 L1251.0,1215.1 L1252.8,1193.4 L1254.5,1230.3 L1256.2,1158.7 L1257.9,1217.4 L1259.5,1204.0 L1261.1,1157.5 L1262.7,1190.1 L1264.3,1216.2 L1265.8,1192.4 L1267.3,1159.4 L1268.8,1177.7 L1270.3,1186.1 L1271.7,1193.0 L1273.1,1157.7 L1274.5,1233.5 L1275.9,1210.2" fill="none" stroke="#f05a14" stroke-width="2" stroke-linejoin="miter" stroke-miterlimit="4"/><path d="M860.8,1462.8L864.5,1468.9L860.8,1475.0L857.1,1468.9Z" fill="#f05a14"/><path d="M928.3,1343.7L932.0,1349.8L928.3,1355.9L924.6,1349.8Z" fill="#f05a14"/><path d="M995.8,1408.6L999.5,1414.7L995.8,1420.8L992.1,1414.7Z" fill="#f05a14"/><path d="M1063.3,1376.7L1067.0,1382.8L1063.3,1388.9L1059.6,1382.8Z" fill="#f05a14"/><path d="M1130.8,1312.8L1134.5,1318.9L1130.8,1325.0L1127.1,1318.9Z" fill="#f05a14"/><path d="M1198.3,1236.3L1202.0,1242.4L1198.3,1248.5L1194.6,1242.4Z" fill="#f05a14"/><path d="M1265.8,1186.3L1269.5,1192.4L1265.8,1198.5L1262.1,1192.4Z" fill="#f05a14"/><path d="M860.8,1468.9 L928.3,1360.4 L967.8,1413.6 L995.8,1404.0 L1017.5,1371.1 L1035.3,1296.6 L1050.3,1318.9 L1063.3,1318.9 L1074.8,1264.7 L1085.0,1275.3 L1094.3,1359.4 L1102.8,1244.5 L1110.6,1328.5 L1117.8,1307.2 L1124.5,1307.2 L1130.8,1328.5 L1136.7,1264.7 L1142.3,1254.1 L1147.5,1264.7 L1152.5,1264.7 L1157.3,1211.5 L1161.8,1199.8 L1166.1,1221.1 L1170.3,1221.1 L1174.3,1240.2 L1178.1,1190.3 L1181.8,1213.7 L1185.3,1231.7 L1188.7,1213.7 L1192.0,1211.5 L1195.2,1254.1 L1198.3,1177.5 L1201.3,1177.6 L1204.2,1165.4 L1207.0,1218.9 L1209.8,1219.5 L1212.4,1159.0 L1215.0,1198.2 L1217.6,1204.2 L1220.0,1185.9 L1222.4,1182.1 L1224.8,1170.9 L1227.1,1177.4 L1229.3,1180.1 L1231.5,1168.2 L1233.6,1193.3 L1235.7,1181.8 L1237.8,1159.6 L1239.8,1167.4 L1241.8,1172.8 L1243.7,1195.2 L1245.6,1155.5 L1247.4,1197.1 L1249.3,1160.6 L1251.0,1190.3 L1252.8,1173.7 L1254.5,1164.7 L1256.2,1170.8 L1257.9,1192.8 L1259.5,1183.8 L1261.1,1173.2 L1262.7,1177.4 L1264.3,1183.5 L1265.8,1171.1 L1267.3,1156.5 L1268.8,1162.8 L1270.3,1164.8 L1271.7,1180.2 L1273.1,1151.8 L1274.5,1142.6 L1275.9,1152.1 L1277.3,1160.8 L1278.6,1152.6 L1279.9,1155.4 L1281.2,1171.9 L1282.5,1157.9 L1283.8,1155.6 L1285.1,1169.2 L1286.3,1166.5 L1287.5,1164.6 L1288.7,1162.8 L1289.9,1164.4 L1291.1,1144.9 L1292.3,1147.2 L1293.4,1158.5 L1294.6,1167.3 L1295.7,1146.2 L1296.8,1148.3 L1297.9,1170.6 L1299.0,1149.3 L1300.1,1170.1 L1301.1,1148.3" fill="none" stroke="#f5a013" stroke-width="2" stroke-linejoin="miter" stroke-miterlimit="4"/><path d="M860.8,1462.8L864.5,1468.9L860.8,1475.0L857.1,1468.9Z" fill="#f5a013"/><path d="M928.3,1354.3L932.0,1360.4L928.3,1366.5L924.6,1360.4Z" fill="#f5a013"/><path d="M995.8,1397.9L999.5,1404.0L995.8,1410.1L992.1,1404.0Z" fill="#f5a013"/><path d="M1063.3,1312.8L1067.0,1318.9L1063.3,1325.0L1059.6,1318.9Z" fill="#f5a013"/><path d="M1130.8,1322.4L1134.5,1328.5L1130.8,1334.6L1127.1,1328.5Z" fill="#f5a013"/><path d="M1198.3,1171.4L1202.0,1177.5L1198.3,1183.6L1194.6,1177.5Z" fill="#f5a013"/><path d="M1265.8,1165.0L1269.5,1171.1L1265.8,1177.2L1262.1,1171.1Z" fill="#f5a013"/></g><rect x="844.6" y="1119.0" width="115.4" height="145.9" rx="3" ry="3" fill="#fff" fill-opacity="0.8" stroke="#d0d0d0" stroke-width="1.3"/><line x1="853.1" y1="1138.4" x2="902.1" y2="1138.4" stroke="#1f48e6" stroke-width="2"/><text x="920.0" y="1146.7" font-size="23.4">PF</text><line x1="853.1" y1="1173.1" x2="902.1" y2="1173.1" stroke="#9400d3" stroke-width="2"/><text x="920.0" y="1181.4" font-size="23.4">FT</text><line x1="853.1" y1="1207.8" x2="902.1" y2="1207.8" stroke="#f05a14" stroke-width="2"/><text x="920.0" y="1216.1" font-size="23.4">AP</text><line x1="853.1" y1="1242.5" x2="902.1" y2="1242.5" stroke="#f5a013" stroke-width="2"/><text x="920.0" y="1250.8" font-size="23.4">LR</text><rect x="832.9" y="1107.3" width="567.9" height="378.4" fill="none" stroke="#1c1c1c" stroke-width="1.3"/><line x1="828.3" y1="1468.9" x2="832.9" y2="1468.9" stroke="#000" stroke-width="1.3"/><text x="823.8" y="1478.2" font-size="23.6" text-anchor="end">0.0</text><line x1="828.3" y1="1378.5" x2="832.9" y2="1378.5" stroke="#000" stroke-width="1.3"/><text x="823.8" y="1387.8" font-size="23.6" text-anchor="end">0.08</text><line x1="828.3" y1="1288.1" x2="832.9" y2="1288.1" stroke="#000" stroke-width="1.3"/><text x="823.8" y="1297.4" font-size="23.6" text-anchor="end">0.17</text><line x1="828.3" y1="1197.7" x2="832.9" y2="1197.7" stroke="#000" stroke-width="1.3"/><text x="823.8" y="1207.0" font-size="23.6" text-anchor="end">0.25</text><line x1="828.3" y1="1107.3" x2="832.9" y2="1107.3" stroke="#000" stroke-width="1.3"/><text x="823.8" y="1116.6" font-size="23.6" text-anchor="end">0.34</text><line x1="860.8" y1="1485.7" x2="860.8" y2="1490.3" stroke="#000" stroke-width="1.3"/><text x="860.8" y="1507.1" font-size="15.7" text-anchor="middle">100</text><line x1="928.3" y1="1485.7" x2="928.3" y2="1490.3" stroke="#000" stroke-width="1.3"/><text x="928.3" y="1507.1" font-size="15.7" text-anchor="middle">200</text><line x1="995.8" y1="1485.7" x2="995.8" y2="1490.3" stroke="#000" stroke-width="1.3"/><text x="995.8" y="1507.1" font-size="15.7" text-anchor="middle">400</text><line x1="1063.3" y1="1485.7" x2="1063.3" y2="1490.3" stroke="#000" stroke-width="1.3"/><text x="1063.3" y="1507.1" font-size="15.7" text-anchor="middle">800</text><line x1="1130.8" y1="1485.7" x2="1130.8" y2="1490.3" stroke="#000" stroke-width="1.3"/><text x="1130.8" y="1507.1" font-size="15.7" text-anchor="middle">1600</text><line x1="1198.3" y1="1485.7" x2="1198.3" y2="1490.3" stroke="#000" stroke-width="1.3"/><text x="1198.3" y="1507.1" font-size="15.7" text-anchor="middle">3200</text><line x1="1265.8" y1="1485.7" x2="1265.8" y2="1490.3" stroke="#000" stroke-width="1.3"/><text x="1265.8" y="1507.1" font-size="15.7" text-anchor="middle">6400</text><line x1="1333.3" y1="1485.7" x2="1333.3" y2="1490.3" stroke="#000" stroke-width="1.3"/><text x="1333.3" y="1507.1" font-size="15.7" text-anchor="middle">12800</text><line x1="1400.8" y1="1485.7" x2="1400.8" y2="1490.3" stroke="#000" stroke-width="1.3"/><text x="1400.8" y="1507.1" font-size="15.7" text-anchor="middle">25600</text><text x="1116.8" y="1533.9" font-size="24" text-anchor="middle">steps</text><text transform="translate(761.6,1296.5) rotate(-90)" font-size="23.8" text-anchor="middle">Classification-F1</text><text x="1116.8" y="1099.1" font-size="28.5" text-anchor="middle">liar</text></g>
<g><clipPath id="c8"><rect x="1575.3" y="1107.3" width="567.9" height="378.4"/></clipPath><line x1="1575.3" y1="1468.9" x2="2143.2" y2="1468.9" stroke="#b0b0b0" stroke-width="1.1" stroke-dasharray="2.6,0.9"/><line x1="1575.3" y1="1378.5" x2="2143.2" y2="1378.5" stroke="#b0b0b0" stroke-width="1.1" stroke-dasharray="2.6,0.9"/><line x1="1575.3" y1="1288.1" x2="2143.2" y2="1288.1" stroke="#b0b0b0" stroke-width="1.1" stroke-dasharray="2.6,0.9"/><line x1="1575.3" y1="1197.7" x2="2143.2" y2="1197.7" stroke="#b0b0b0" stroke-width="1.1" stroke-dasharray="2.6,0.9"/><g clip-path="url(#c8)"><path d="M1603.2,1468.9 L1670.7,1468.9 L1710.2,1468.9 L1738.2,1468.9 L1759.9,1231.2 L1777.7,1231.2 L1792.7,1231.2 L1805.7,1231.2 L1817.2,1219.5 L1827.4,1222.9 L1836.7,1222.9 L1845.2,1208.2 L1853.0,1214.6 L1860.2,1205.2 L1866.9,1203.3 L1873.2,1196.9 L1879.1,1188.7 L1884.7,1188.7 L1889.9,1192.0 L1894.9,1193.6 L1899.7,1177.4 L1904.2,1196.9 L1908.5,1182.6 L1912.7,1186.4 L1916.7,1187.0 L1920.5,1187.3 L1924.2,1185.0 L1927.7,1188.9 L1931.1,1184.9 L1934.4,1196.9 L1937.6,1183.8 L1940.7,1182.3 L1943.7,1178.9 L1946.6,1181.1 L1949.4,1177.7 L1952.2,1177.9 L1954.8,1175.9 L1957.4,1171.9 L1960.0,1175.3 L1962.4,1170.9 L1964.8,1169.8 L1967.2,1172.8 L1969.5,1166.3 L1971.7,1168.6 L1973.9,1167.0 L1976.0,1167.5 L1978.1,1165.0 L1980.2,1161.7 L1982.2,1164.5 L1984.2,1161.3 L1986.1,1160.3 L1988.0,1159.1 L1989.8,1159.6 L1991.7,1160.5 L1993.4,1160.4 L1995.2,1159.6 L1996.9,1159.0 L1998.6,1155.4 L2000.3,1155.1 L2001.9,1158.3 L2003.5,1157.4 L2005.1,1158.2 L2006.7,1152.3 L2008.2,1157.0 L2009.7,1154.6 L2011.2,1155.4 L2012.7,1154.9 L2014.1,1150.0 L2015.5,1152.6 L2016.9,1151.0 L2018.3,1149.4 L2019.7,1150.9 L2021.0,1148.7 L2022.3,1148.6 L2023.6,1149.2 L2024.9,1149.1 L2026.2,1146.7 L2027.5,1147.6 L2028.7,1149.3 L2029.9,1145.6 L2031.1,1145.9 L2032.3,1144.9 L2033.5,1146.4 L2034.7,1147.6 L2035.8,1147.9 L2037.0,1146.1 L2038.1,1148.6 L2039.2,1145.1 L2040.3,1145.1 L2041.4,1143.9 L2042.5,1147.7 L2043.5,1145.4 L2044.6,1145.4 L2045.6,1144.9 L2046.7,1145.9 L2047.7,1148.2 L2048.7,1142.5 L2049.7,1142.5 L2050.7,1146.8 L2051.7,1142.1 L2052.6,1143.9 L2053.6,1147.3 L2054.5,1143.4 L2055.5,1145.3 L2056.4,1144.7 L2057.3,1146.2 L2058.2,1141.7 L2059.2,1142.6 L2060.1,1145.0 L2060.9,1142.9 L2061.8,1143.6 L2062.7,1140.1 L2063.6,1144.7 L2064.4,1141.7 L2065.3,1140.9 L2066.1,1140.2 L2066.9,1143.8 L2067.8,1140.1 L2068.6,1144.1 L2069.4,1144.2 L2070.2,1141.3 L2071.0,1139.4 L2071.8,1142.3 L2072.6,1143.6 L2073.4,1143.9 L2074.2,1141.9 L2074.9,1139.1 L2075.7,1140.4 L2076.5,1141.1 L2077.2,1140.6 L2078.0,1142.3 L2078.7,1141.9 L2079.4,1141.5 L2080.2,1138.5 L2080.9,1138.7 L2081.6,1142.2 L2082.3,1138.9 L2083.0,1136.3 L2083.7,1141.4 L2084.4,1140.7 L2085.1,1135.6 L2085.8,1138.1 L2086.5,1135.6 L2087.2,1135.8 L2087.8,1137.8 L2088.5,1134.5 L2089.2,1138.7 L2089.8,1138.2 L2090.5,1138.5 L2091.1,1135.1 L2091.8,1138.8 L2092.4,1136.6 L2093.1,1134.4 L2093.7,1134.6 L2094.3,1136.8 L2095.0,1137.6 L2095.6,1133.4 L2096.2,1133.1 L2096.8,1134.1 L2097.4,1134.2 L2098.0,1137.2 L2098.6,1135.8 L2099.2,1136.2 L2099.8,1134.9 L2100.4,1136.3 L2101.0,1134.3 L2101.6,1135.2 L2102.2,1132.2 L2102.8,1136.6 L2103.3,1137.9 L2103.9,1137.3 L2104.5,1137.1 L2105.0,1134.1 L2105.6,1134.9 L2106.2,1134.8 L2106.7,1133.9 L2107.3,1134.1 L2107.8,1137.2 L2108.4,1137.3 L2108.9,1133.2 L2109.4,1134.1 L2110.0,1136.1 L2110.5,1134.3" fill="none" stroke="#1f48e6" stroke-width="2" stroke-linejoin="miter" stroke-miterlimit="4"/><path d="M1603.2,1462.8L1606.9,1468.9L1603.2,1475.0L1599.5,1468.9Z" fill="#1f48e6"/><path d="M1670.7,1462.8L1674.4,1468.9L1670.7,1475.0L1667.0,1468.9Z" fill="#1f48e6"/><path d="M1738.2,1462.8L1741.9,1468.9L1738.2,1475.0L1734.5,1468.9Z" fill="#1f48e6"/><path d="M1805.7,1225.1L1809.4,1231.2L1805.7,1237.3L1802.0,1231.2Z" fill="#1f48e6"/><path d="M1873.2,1190.8L1876.9,1196.9L1873.2,1203.0L1869.5,1196.9Z" fill="#1f48e6"/><path d="M1940.7,1176.2L1944.4,1182.3L1940.7,1188.4L1937.0,1182.3Z" fill="#1f48e6"/><path d="M2008.2,1150.9L2011.9,1157.0L2008.2,1163.1L2004.5,1157.0Z" fill="#1f48e6"/><path d="M2075.7,1134.3L2079.4,1140.4L2075.7,1146.5L2072.0,1140.4Z" fill="#1f48e6"/><path d="M1603.2,1207.5 L1670.7,1184.9 L1710.2,1151.4 L1738.2,1143.5 L1759.9,1132.5 L1777.7,1128.4 L1792.7,1131.4 L1805.7,1135.9 L1817.2,1128.4 L1827.4,1128.6 L1836.7,1128.2 L1845.2,1128.2 L1853.0,1128.1 L1860.2,1127.4 L1866.9,1126.9 L1873.2,1127.8 L1879.1,1127.4 L1884.7,1128.1 L1889.9,1128.4 L1894.9,1127.2 L1899.7,1126.8 L1904.2,1128.0 L1908.5,1127.8 L1912.7,1129.5 L1916.7,1127.1 L1920.5,1127.8 L1924.2,1127.8 L1927.7,1129.2 L1931.1,1127.9 L1934.4,1127.9 L1937.6,1129.2 L1940.7,1127.3 L1943.7,1127.4 L1946.6,1127.3 L1949.4,1127.5 L1952.2,1127.6 L1954.8,1126.8 L1957.4,1127.3 L1960.0,1129.4 L1962.4,1128.5 L1964.8,1129.5 L1967.2,1126.9 L1969.5,1127.5 L1971.7,1129.0 L1973.9,1129.1 L1976.0,1128.9 L1978.1,1127.8 L1980.2,1128.1 L1982.2,1129.6 L1984.2,1127.6 L1986.1,1128.7 L1988.0,1128.7 L1989.8,1126.6 L1991.7,1126.9 L1993.4,1126.9 L1995.2,1126.9 L1996.9,1127.8 L1998.6,1129.4 L2000.3,1128.4 L2001.9,1127.7 L2003.5,1126.7 L2005.1,1128.6 L2006.7,1129.3 L2008.2,1126.7 L2009.7,1127.4 L2011.2,1127.0 L2012.7,1128.1 L2014.1,1128.6 L2015.5,1128.6 L2016.9,1129.1 L2018.3,1128.4" fill="none" stroke="#9400d3" stroke-width="2" stroke-linejoin="miter" stroke-miterlimit="4"/><path d="M1603.2,1201.4L1606.9,1207.5L1603.2,1213.6L1599.5,1207.5Z" fill="#9400d3"/><path d="M1670.7,1178.8L1674.4,1184.9L1670.7,1191.0L1667.0,1184.9Z" fill="#9400d3"/><path d="M1738.2,1137.4L1741.9,1143.5L1738.2,1149.6L1734.5,1143.5Z" fill="#9400d3"/><path d="M1805.7,1129.8L1809.4,1135.9L1805.7,1142.0L1802.0,1135.9Z" fill="#9400d3"/><path d="M1873.2,1121.7L1876.9,1127.8L1873.2,1133.9L1869.5,1127.8Z" fill="#9400d3"/><path d="M1940.7,1121.2L1944.4,1127.3L1940.7,1133.4L1937.0,1127.3Z" fill="#9400d3"/><path d="M2008.2,1120.6L2011.9,1126.7L2008.2,1132.8L2004.5,1126.7Z" fill="#9400d3"/><path d="M1603.2,1230.5 L1670.7,1219.5 L1710.2,1211.6 L1738.2,1201.1 L1759.9,1196.9 L1777.7,1188.7 L1792.7,1172.5 L1805.7,1170.2 L1817.2,1165.7 L1827.4,1184.9 L1836.7,1162.7 L1845.2,1167.6 L1853.0,1144.6 L1860.2,1149.5 L1866.9,1141.2 L1873.2,1136.3 L1879.1,1135.6 L1884.7,1138.8 L1889.9,1137.6 L1894.9,1139.1 L1899.7,1140.7 L1904.2,1138.1 L1908.5,1139.3 L1912.7,1139.4 L1916.7,1138.6 L1920.5,1139.8 L1924.2,1135.1 L1927.7,1139.0 L1931.1,1134.4 L1934.4,1136.7 L1937.6,1131.9 L1940.7,1133.3 L1943.7,1133.1 L1946.6,1134.2 L1949.4,1133.3 L1952.2,1131.6 L1954.8,1131.1 L1957.4,1138.6 L1960.0,1137.4 L1962.4,1137.4 L1964.8,1138.1 L1967.2,1133.1 L1969.5,1131.7 L1971.7,1139.5 L1973.9,1138.6 L1976.0,1131.8 L1978.1,1139.1 L1980.2,1139.3 L1982.2,1132.0 L1984.2,1137.5" fill="none" stroke="#f05a14" stroke-width="2" stroke-linejoin="miter" stroke-miterlimit="4"/><path d="M1603.2,1224.4L1606.9,1230.5L1603.2,1236.6L1599.5,1230.5Z" fill="#f05a14"/><path d="M1670.7,1213.4L1674.4,1219.5L1670.7,1225.6L1667.0,1219.5Z" fill="#f05a14"/><path d="M1738.2,1195.0L1741.9,1201.1L1738.2,1207.2L1734.5,1201.1Z" fill="#f05a14"/><path d="M1805.7,1164.1L1809.4,1170.2L1805.7,1176.3L1802.0,1170.2Z" fill="#f05a14"/><path d="M1873.2,1130.2L1876.9,1136.3L1873.2,1142.4L1869.5,1136.3Z" fill="#f05a14"/><path d="M1940.7,1127.2L1944.4,1133.3L1940.7,1139.4L1937.0,1133.3Z" fill="#f05a14"/><path d="M1603.2,1230.5 L1670.7,1204.5 L1710.2,1192.4 L1738.2,1192.4 L1759.9,1162.7 L1777.7,1151.4 L1792.7,1146.8 L1805.7,1147.6 L1817.2,1146.8 L1827.4,1146.8 L1836.7,1136.3 L1845.2,1139.7 L1853.0,1144.6 L1860.2,1149.5 L1866.9,1139.7 L1873.2,1135.9 L1879.1,1131.4 L1884.7,1135.0 L1889.9,1133.8 L1894.9,1132.6 L1899.7,1136.1 L1904.2,1132.2 L1908.5,1128.5 L1912.7,1132.9 L1916.7,1129.6 L1920.5,1128.6 L1924.2,1136.5 L1927.7,1136.6 L1931.1,1133.1 L1934.4,1128.8 L1937.6,1133.1 L1940.7,1131.4 L1943.7,1131.4 L1946.6,1136.6 L1949.4,1133.2 L1952.2,1131.7 L1954.8,1135.8 L1957.4,1136.0 L1960.0,1131.7 L1962.4,1134.7 L1964.8,1131.5 L1967.2,1135.0 L1969.5,1136.7 L1971.7,1134.3 L1973.9,1130.9 L1976.0,1134.5 L1978.1,1132.9 L1980.2,1131.1 L1982.2,1135.2 L1984.2,1130.4 L1986.1,1137.2 L1988.0,1133.9 L1989.8,1135.6 L1991.7,1136.3 L1993.4,1130.2 L1995.2,1136.4 L1996.9,1131.3 L1998.6,1133.9 L2000.3,1130.0" fill="none" stroke="#f5a013" stroke-width="2" stroke-linejoin="miter" stroke-miterlimit="4"/><path d="M1603.2,1224.4L1606.9,1230.5L1603.2,1236.6L1599.5,1230.5Z" fill="#f5a013"/><path d="M1670.7,1198.4L1674.4,1204.5L1670.7,1210.6L1667.0,1204.5Z" fill="#f5a013"/><path d="M1738.2,1186.3L1741.9,1192.4L1738.2,1198.5L1734.5,1192.4Z" fill="#f5a013"/><path d="M1805.7,1141.5L1809.4,1147.6L1805.7,1153.7L1802.0,1147.6Z" fill="#f5a013"/><path d="M1873.2,1129.8L1876.9,1135.9L1873.2,1142.0L1869.5,1135.9Z" fill="#f5a013"/><path d="M1940.7,1125.3L1944.4,1131.4L1940.7,1137.5L1937.0,1131.4Z" fill="#f5a013"/></g><rect x="2015.7" y="1223.5" width="115.4" height="145.9" rx="3" ry="3" fill="#fff" fill-opacity="0.8" stroke="#d0d0d0" stroke-width="1.3"/><line x1="2024.2" y1="1243.0" x2="2073.2" y2="1243.0" stroke="#1f48e6" stroke-width="2"/><text x="2091.1" y="1251.2" font-size="23.4">PF</text><line x1="2024.2" y1="1277.7" x2="2073.2" y2="1277.7" stroke="#9400d3" stroke-width="2"/><text x="2091.1" y="1286.0" font-size="23.4">FT</text><line x1="2024.2" y1="1312.4" x2="2073.2" y2="1312.4" stroke="#f05a14" stroke-width="2"/><text x="2091.1" y="1320.7" font-size="23.4">AP</text><line x1="2024.2" y1="1347.0" x2="2073.2" y2="1347.0" stroke="#f5a013" stroke-width="2"/><text x="2091.1" y="1355.3" font-size="23.4">LR</text><rect x="1575.3" y="1107.3" width="567.9" height="378.4" fill="none" stroke="#1c1c1c" stroke-width="1.3"/><line x1="1570.7" y1="1468.9" x2="1575.3" y2="1468.9" stroke="#000" stroke-width="1.3"/><text x="1566.2" y="1478.2" font-size="23.6" text-anchor="end">0.0</text><line x1="1570.7" y1="1378.5" x2="1575.3" y2="1378.5" stroke="#000" stroke-width="1.3"/><text x="1566.2" y="1387.8" font-size="23.6" text-anchor="end">0.24</text><line x1="1570.7" y1="1288.1" x2="1575.3" y2="1288.1" stroke="#000" stroke-width="1.3"/><text x="1566.2" y="1297.4" font-size="23.6" text-anchor="end">0.48</text><line x1="1570.7" y1="1197.7" x2="1575.3" y2="1197.7" stroke="#000" stroke-width="1.3"/><text x="1566.2" y="1207.0" font-size="23.6" text-anchor="end">0.72</text><line x1="1570.7" y1="1107.3" x2="1575.3" y2="1107.3" stroke="#000" stroke-width="1.3"/><text x="1566.2" y="1116.6" font-size="23.6" text-anchor="end">0.96</text><line x1="1603.2" y1="1485.7" x2="1603.2" y2="1490.3" stroke="#000" stroke-width="1.3"/><text x="1603.2" y="1507.1" font-size="15.7" text-anchor="middle">100</text><line x1="1670.7" y1="1485.7" x2="1670.7" y2="1490.3" stroke="#000" stroke-width="1.3"/><text x="1670.7" y="1507.1" font-size="15.7" text-anchor="middle">200</text><line x1="1738.2" y1="1485.7" x2="1738.2" y2="1490.3" stroke="#000" stroke-width="1.3"/><text x="1738.2" y="1507.1" font-size="15.7" text-anchor="middle">400</text><line x1="1805.7" y1="1485.7" x2="1805.7" y2="1490.3" stroke="#000" stroke-width="1.3"/><text x="1805.7" y="1507.1" font-size="15.7" text-anchor="middle">800</text><line x1="1873.2" y1="1485.7" x2="1873.2" y2="1490.3" stroke="#000" stroke-width="1.3"/><text x="1873.2" y="1507.1" font-size="15.7" text-anchor="middle">1600</text><line x1="1940.7" y1="1485.7" x2="1940.7" y2="1490.3" stroke="#000" stroke-width="1.3"/><text x="1940.7" y="1507.1" font-size="15.7" text-anchor="middle">3200</text><line x1="2008.2" y1="1485.7" x2="2008.2" y2="1490.3" stroke="#000" stroke-width="1.3"/><text x="2008.2" y="1507.1" font-size="15.7" text-anchor="middle">6400</text><line x1="2075.7" y1="1485.7" x2="2075.7" y2="1490.3" stroke="#000" stroke-width="1.3"/><text x="2075.7" y="1507.1" font-size="15.7" text-anchor="middle">12800</text><line x1="2143.2" y1="1485.7" x2="2143.2" y2="1490.3" stroke="#000" stroke-width="1.3"/><text x="2143.2" y="1507.1" font-size="15.7" text-anchor="middle">25600</text><text x="1859.2" y="1533.9" font-size="24" text-anchor="middle">steps</text><text transform="translate(1504.0,1296.5) rotate(-90)" font-size="23.8" text-anchor="middle">ACC</text><text x="1859.2" y="1099.1" font-size="28.5" text-anchor="middle">mc_taco</text></g>
<g><clipPath id="c9"><rect x="90.5" y="1646.0" width="567.9" height="378.4"/></clipPath><line x1="90.5" y1="1929.8" x2="658.4" y2="1929.8" stroke="#b0b0b0" stroke-width="1.1" stroke-dasharray="2.6,0.9"/><line x1="90.5" y1="1835.2" x2="658.4" y2="1835.2" stroke="#b0b0b0" stroke-width="1.1" stroke-dasharray="2.6,0.9"/><line x1="90.5" y1="1740.6" x2="658.4" y2="1740.6" stroke="#b0b0b0" stroke-width="1.1" stroke-dasharray="2.6,0.9"/><g clip-path="url(#c9)"><path d="M118.4,1990.8 L185.9,1990.8 L225.4,2007.6 L253.4,2007.6 L275.1,1956.3 L292.9,1805.8 L307.9,1805.8 L320.9,1814.2 L332.4,1831.8 L342.6,1822.6 L351.9,1814.2 L360.4,1773.0 L368.2,1773.0 L375.4,1856.2 L382.1,1779.7 L388.4,1773.0 L394.3,1798.2 L399.9,1789.8 L405.1,1789.8 L410.1,1764.6 L414.9,1789.8 L419.4,1779.7 L423.7,1798.2 L427.9,1776.3 L431.9,1763.7 L435.7,1798.2 L439.4,1755.3 L442.9,1789.8 L446.3,1789.8 L449.6,1773.0 L452.8,1789.8 L455.9,1798.2 L458.9,1755.3 L461.8,1794.9 L464.6,1758.6 L467.4,1760.6 L470.0,1782.1 L472.6,1772.8 L475.2,1794.0 L477.6,1793.6 L480.0,1790.5 L482.4,1771.5 L484.7,1794.1 L486.9,1758.4 L489.1,1800.8 L491.2,1795.0 L493.3,1799.9 L495.4,1767.8 L497.4,1786.8 L499.4,1781.9 L501.3,1788.7 L503.2,1774.1" fill="none" stroke="#1f48e6" stroke-width="2" stroke-linejoin="miter" stroke-miterlimit="4"/><path d="M118.4,1984.7L122.1,1990.8L118.4,1996.9L114.7,1990.8Z" fill="#1f48e6"/><path d="M185.9,1984.7L189.6,1990.8L185.9,1996.9L182.2,1990.8Z" fill="#1f48e6"/><path d="M253.4,2001.5L257.1,2007.6L253.4,2013.7L249.7,2007.6Z" fill="#1f48e6"/><path d="M320.9,1808.1L324.6,1814.2L320.9,1820.3L317.2,1814.2Z" fill="#1f48e6"/><path d="M388.4,1766.9L392.1,1773.0L388.4,1779.1L384.7,1773.0Z" fill="#1f48e6"/><path d="M455.9,1792.1L459.6,1798.2L455.9,1804.3L452.2,1798.2Z" fill="#1f48e6"/><path d="M118.4,1990.8 L185.9,1730.1 L225.4,1705.7 L253.4,1714.1 L275.1,1705.7 L292.9,1696.5 L307.9,1705.7 L320.9,1705.7 L332.4,1688.0 L342.6,1696.5 L351.9,1696.5 L360.4,1696.5 L368.2,1721.7 L375.4,1715.0 L382.1,1688.0 L388.4,1705.7 L394.3,1696.5 L399.9,1674.6 L405.1,1715.0 L410.1,1680.5 L414.9,1704.9 L419.4,1696.5 L423.7,1713.7 L427.9,1696.4 L431.9,1712.9 L435.7,1692.8 L439.4,1696.7 L442.9,1704.9 L446.3,1696.3 L449.6,1698.2 L452.8,1717.6 L455.9,1688.0 L458.9,1696.2 L461.8,1699.9 L464.6,1686.6 L467.4,1692.0 L470.0,1705.2 L472.6,1710.8 L475.2,1714.4" fill="none" stroke="#9400d3" stroke-width="2" stroke-linejoin="miter" stroke-miterlimit="4"/><path d="M118.4,1984.7L122.1,1990.8L118.4,1996.9L114.7,1990.8Z" fill="#9400d3"/><path d="M185.9,1724.0L189.6,1730.1L185.9,1736.2L182.2,1730.1Z" fill="#9400d3"/><path d="M253.4,1708.0L257.1,1714.1L253.4,1720.2L249.7,1714.1Z" fill="#9400d3"/><path d="M320.9,1699.6L324.6,1705.7L320.9,1711.8L317.2,1705.7Z" fill="#9400d3"/><path d="M388.4,1699.6L392.1,1705.7L388.4,1711.8L384.7,1705.7Z" fill="#9400d3"/><path d="M455.9,1681.9L459.6,1688.0L455.9,1694.1L452.2,1688.0Z" fill="#9400d3"/><path d="M118.4,1990.8 L185.9,2007.6 L225.4,1805.8 L253.4,1765.4 L275.1,1814.2 L292.9,1755.3 L307.9,1722.5 L320.9,1696.5 L332.4,1722.5 L342.6,1680.5 L351.9,1688.0 L360.4,1680.5 L368.2,1680.5 L375.4,1672.1 L382.1,1688.0 L388.4,1678.8 L394.3,1672.1 L399.9,1688.0 L405.1,1680.5 L410.1,1680.5 L414.9,1672.1 L419.4,1663.5 L423.7,1680.9 L427.9,1671.9 L431.9,1671.2 L435.7,1688.6 L439.4,1693.0 L442.9,1675.2 L446.3,1691.2 L449.6,1682.4 L452.8,1665.2 L455.9,1696.5 L458.9,1690.8 L461.8,1691.9 L464.6,1687.1 L467.4,1666.6 L470.0,1693.5 L472.6,1686.7 L475.2,1690.6 L477.6,1689.8 L480.0,1676.4 L482.4,1687.7 L484.7,1680.0 L486.9,1669.0 L489.1,1669.3 L491.2,1679.5 L493.3,1667.0 L495.4,1674.1 L497.4,1665.4 L499.4,1684.8 L501.3,1680.7 L503.2,1673.5 L505.0,1661.1 L506.9,1672.1 L508.6,1676.8 L510.4,1684.3 L512.1,1683.2 L513.8,1685.3 L515.5,1659.3 L517.1,1662.6 L518.7,1662.3 L520.3,1674.5 L521.9,1668.4" fill="none" stroke="#f05a14" stroke-width="2" stroke-linejoin="miter" stroke-miterlimit="4"/><path d="M118.4,1984.7L122.1,1990.8L118.4,1996.9L114.7,1990.8Z" fill="#f05a14"/><path d="M185.9,2001.5L189.6,2007.6L185.9,2013.7L182.2,2007.6Z" fill="#f05a14"/><path d="M253.4,1759.3L257.1,1765.4L253.4,1771.5L249.7,1765.4Z" fill="#f05a14"/><path d="M320.9,1690.4L324.6,1696.5L320.9,1702.6L317.2,1696.5Z" fill="#f05a14"/><path d="M388.4,1672.7L392.1,1678.8L388.4,1684.9L384.7,1678.8Z" fill="#f05a14"/><path d="M455.9,1690.4L459.6,1696.5L455.9,1702.6L452.2,1696.5Z" fill="#f05a14"/><path d="M118.4,1990.8 L185.9,2007.6 L225.4,1881.4 L253.4,1756.2 L275.1,1722.5 L292.9,1714.1 L307.9,1722.5 L320.9,1715.0 L332.4,1705.7 L342.6,1688.0 L351.9,1688.0 L360.4,1722.5 L368.2,1688.0 L375.4,1688.0 L382.1,1711.6 L388.4,1696.5 L394.3,1688.0 L399.9,1678.3 L405.1,1681.0 L410.1,1685.2 L414.9,1700.4 L419.4,1697.3 L423.7,1685.6 L427.9,1682.8 L431.9,1706.7 L435.7,1702.1 L439.4,1680.1 L442.9,1703.6 L446.3,1687.3 L449.6,1697.1 L452.8,1687.6 L455.9,1704.9 L458.9,1689.5 L461.8,1695.2 L464.6,1697.3 L467.4,1688.2 L470.0,1688.0 L472.6,1694.6 L475.2,1692.9 L477.6,1690.7 L480.0,1699.1 L482.4,1701.5 L484.7,1689.7 L486.9,1703.9 L489.1,1688.8 L491.2,1682.6 L493.3,1681.8 L495.4,1699.2 L497.4,1694.3 L499.4,1678.9 L501.3,1696.2 L503.2,1676.8 L505.0,1700.8 L506.9,1681.4 L508.6,1705.6 L510.4,1686.6 L512.1,1682.4 L513.8,1690.2 L515.5,1687.6 L517.1,1679.1 L518.7,1676.6 L520.3,1701.3 L521.9,1690.9 L523.4,1705.5 L524.9,1695.2 L526.4,1702.3 L527.9,1701.8 L529.3,1687.8 L530.7,1704.1 L532.1,1702.0 L533.5,1706.4 L534.9,1682.0 L536.2,1699.3 L537.5,1704.4 L538.8,1687.8 L540.1,1684.9 L541.4,1687.5 L542.7,1690.0 L543.9,1690.4 L545.1,1684.8 L546.3,1697.2 L547.5,1681.1 L548.7,1685.6 L549.9,1680.6 L551.0,1679.6 L552.2,1681.1 L553.3,1690.8 L554.4,1690.7" fill="none" stroke="#f5a013" stroke-width="2" stroke-linejoin="miter" stroke-miterlimit="4"/><path d="M118.4,1984.7L122.1,1990.8L118.4,1996.9L114.7,1990.8Z" fill="#f5a013"/><path d="M185.9,2001.5L189.6,2007.6L185.9,2013.7L182.2,2007.6Z" fill="#f5a013"/><path d="M253.4,1750.1L257.1,1756.2L253.4,1762.3L249.7,1756.2Z" fill="#f5a013"/><path d="M320.9,1708.9L324.6,1715.0L320.9,1721.1L317.2,1715.0Z" fill="#f5a013"/><path d="M388.4,1690.4L392.1,1696.5L388.4,1702.6L384.7,1696.5Z" fill="#f5a013"/><path d="M455.9,1698.8L459.6,1704.9L455.9,1711.0L452.2,1704.9Z" fill="#f5a013"/><path d="M523.4,1699.4L527.1,1705.5L523.4,1711.6L519.7,1705.5Z" fill="#f5a013"/></g><rect x="530.9" y="1866.5" width="115.4" height="145.9" rx="3" ry="3" fill="#fff" fill-opacity="0.8" stroke="#d0d0d0" stroke-width="1.3"/><line x1="539.4" y1="1885.9" x2="588.4" y2="1885.9" stroke="#1f48e6" stroke-width="2"/><text x="606.3" y="1894.2" font-size="23.4">PF</text><line x1="539.4" y1="1920.6" x2="588.4" y2="1920.6" stroke="#9400d3" stroke-width="2"/><text x="606.3" y="1928.9" font-size="23.4">FT</text><line x1="539.4" y1="1955.3" x2="588.4" y2="1955.3" stroke="#f05a14" stroke-width="2"/><text x="606.3" y="1963.6" font-size="23.4">AP</text><line x1="539.4" y1="1990.0" x2="588.4" y2="1990.0" stroke="#f5a013" stroke-width="2"/><text x="606.3" y="1998.3" font-size="23.4">LR</text><rect x="90.5" y="1646.0" width="567.9" height="378.4" fill="none" stroke="#1c1c1c" stroke-width="1.3"/><line x1="85.9" y1="2024.4" x2="90.5" y2="2024.4" stroke="#000" stroke-width="1.3"/><text x="81.4" y="2033.7" font-size="23.6" text-anchor="end">0.47</text><line x1="85.9" y1="1929.8" x2="90.5" y2="1929.8" stroke="#000" stroke-width="1.3"/><text x="81.4" y="1939.1" font-size="23.6" text-anchor="end">0.58</text><line x1="85.9" y1="1835.2" x2="90.5" y2="1835.2" stroke="#000" stroke-width="1.3"/><text x="81.4" y="1844.5" font-size="23.6" text-anchor="end">0.7</text><line x1="85.9" y1="1740.6" x2="90.5" y2="1740.6" stroke="#000" stroke-width="1.3"/><text x="81.4" y="1749.9" font-size="23.6" text-anchor="end">0.81</text><line x1="85.9" y1="1646.0" x2="90.5" y2="1646.0" stroke="#000" stroke-width="1.3"/><text x="81.4" y="1655.3" font-size="23.6" text-anchor="end">0.92</text><line x1="118.4" y1="2024.4" x2="118.4" y2="2029.0" stroke="#000" stroke-width="1.3"/><text x="118.4" y="2045.8" font-size="15.7" text-anchor="middle">100</text><line x1="185.9" y1="2024.4" x2="185.9" y2="2029.0" stroke="#000" stroke-width="1.3"/><text x="185.9" y="2045.8" font-size="15.7" text-anchor="middle">200</text><line x1="253.4" y1="2024.4" x2="253.4" y2="2029.0" stroke="#000" stroke-width="1.3"/><text x="253.4" y="2045.8" font-size="15.7" text-anchor="middle">400</text><line x1="320.9" y1="2024.4" x2="320.9" y2="2029.0" stroke="#000" stroke-width="1.3"/><text x="320.9" y="2045.8" font-size="15.7" text-anchor="middle">800</text><line x1="388.4" y1="2024.4" x2="388.4" y2="2029.0" stroke="#000" stroke-width="1.3"/><text x="388.4" y="2045.8" font-size="15.7" text-anchor="middle">1600</text><line x1="455.9" y1="2024.4" x2="455.9" y2="2029.0" stroke="#000" stroke-width="1.3"/><text x="455.9" y="2045.8" font-size="15.7" text-anchor="middle">3200</text><line x1="523.4" y1="2024.4" x2="523.4" y2="2029.0" stroke="#000" stroke-width="1.3"/><text x="523.4" y="2045.8" font-size="15.7" text-anchor="middle">6400</text><line x1="590.9" y1="2024.4" x2="590.9" y2="2029.0" stroke="#000" stroke-width="1.3"/><text x="590.9" y="2045.8" font-size="15.7" text-anchor="middle">12800</text><line x1="658.4" y1="2024.4" x2="658.4" y2="2029.0" stroke="#000" stroke-width="1.3"/><text x="658.4" y="2045.8" font-size="15.7" text-anchor="middle">25600</text><text x="374.4" y="2072.6" font-size="24" text-anchor="middle">steps</text><text transform="translate(19.2,1835.2) rotate(-90)" font-size="23.8" text-anchor="middle">ACC</text><text x="374.4" y="1637.8" font-size="28.5" text-anchor="middle">medical_questions_pairs</text></g>
<g><clipPath id="c10"><rect x="832.9" y="1646.0" width="567.9" height="378.4"/></clipPath><line x1="832.9" y1="2007.5" x2="1400.8" y2="2007.5" stroke="#b0b0b0" stroke-width="1.1" stroke-dasharray="2.6,0.9"/><line x1="832.9" y1="1917.1" x2="1400.8" y2="1917.1" stroke="#b0b0b0" stroke-width="1.1" stroke-dasharray="2.6,0.9"/><line x1="832.9" y1="1826.8" x2="1400.8" y2="1826.8" stroke="#b0b0b0" stroke-width="1.1" stroke-dasharray="2.6,0.9"/><line x1="832.9" y1="1736.4" x2="1400.8" y2="1736.4" stroke="#b0b0b0" stroke-width="1.1" stroke-dasharray="2.6,0.9"/><g clip-path="url(#c10)"><path d="M860.8,2007.5 L928.3,2007.5 L967.8,1983.8 L995.8,1983.8 L1017.5,1859.9 L1035.3,1853.4 L1050.3,1846.9 L1063.3,1835.0 L1074.8,1817.3 L1085.0,1811.3 L1094.3,1811.3 L1102.8,1799.5 L1110.6,1787.6 L1117.8,1787.6 L1124.5,1787.6 L1130.8,1787.6 L1136.7,1778.7 L1142.3,1770.5 L1147.5,1775.8 L1152.5,1770.5 L1157.3,1764.4 L1161.8,1767.1 L1166.1,1757.2 L1170.3,1758.7 L1174.3,1755.9 L1178.1,1750.4 L1181.8,1754.5 L1185.3,1754.2 L1188.7,1751.9 L1192.0,1753.6 L1195.2,1749.4 L1198.3,1752.1 L1201.3,1748.3 L1204.2,1745.8 L1207.0,1742.9 L1209.8,1736.8 L1212.4,1733.7 L1215.0,1737.6 L1217.6,1732.1 L1220.0,1735.5 L1222.4,1730.2 L1224.8,1734.2 L1227.1,1730.1 L1229.3,1730.7 L1231.5,1725.5 L1233.6,1724.5 L1235.7,1728.8 L1237.8,1727.0 L1239.8,1721.7 L1241.8,1722.2 L1243.7,1721.3 L1245.6,1713.8 L1247.4,1713.2 L1249.3,1721.3 L1251.0,1720.6 L1252.8,1714.2 L1254.5,1710.6 L1256.2,1710.5 L1257.9,1711.7 L1259.5,1710.7 L1261.1,1712.8 L1262.7,1712.3 L1264.3,1708.5 L1265.8,1711.2 L1267.3,1709.4 L1268.8,1708.7 L1270.3,1713.7 L1271.7,1707.6 L1273.1,1712.9 L1274.5,1705.0 L1275.9,1706.6 L1277.3,1709.3 L1278.6,1707.7 L1279.9,1703.7 L1281.2,1709.2 L1282.5,1710.4 L1283.8,1705.5 L1285.1,1703.2 L1286.3,1710.0 L1287.5,1703.9 L1288.7,1707.1 L1289.9,1703.9 L1291.1,1705.6 L1292.3,1700.8 L1293.4,1704.0 L1294.6,1699.9 L1295.7,1699.6 L1296.8,1707.2 L1297.9,1699.2 L1299.0,1700.6 L1300.1,1706.1 L1301.1,1701.6 L1302.2,1704.2 L1303.2,1706.0 L1304.3,1705.6 L1305.3,1702.4 L1306.3,1697.3 L1307.3,1704.6 L1308.3,1699.4 L1309.3,1696.4 L1310.2,1701.1 L1311.2,1697.5 L1312.1,1698.5 L1313.1,1696.8 L1314.0,1699.2 L1314.9,1694.3 L1315.8,1699.7 L1316.8,1701.3 L1317.7,1702.0 L1318.5,1700.5 L1319.4,1701.7 L1320.3,1693.7 L1321.2,1701.2 L1322.0,1694.4 L1322.9,1694.9 L1323.7,1697.6 L1324.5,1701.4 L1325.4,1699.8 L1326.2,1692.7 L1327.0,1697.5 L1327.8,1693.9 L1328.6,1700.0 L1329.4,1700.5 L1330.2,1697.4 L1331.0,1697.4 L1331.8,1698.6 L1332.5,1694.3 L1333.3,1693.4 L1334.1,1694.8 L1334.8,1697.0 L1335.6,1696.0 L1336.3,1697.2 L1337.0,1694.4 L1337.8,1695.8 L1338.5,1693.2" fill="none" stroke="#1f48e6" stroke-width="2" stroke-linejoin="miter" stroke-miterlimit="4"/><path d="M860.8,2001.4L864.5,2007.5L860.8,2013.6L857.1,2007.5Z" fill="#1f48e6"/><path d="M928.3,2001.4L932.0,2007.5L928.3,2013.6L924.6,2007.5Z" fill="#1f48e6"/><path d="M995.8,1977.7L999.5,1983.8L995.8,1989.9L992.1,1983.8Z" fill="#1f48e6"/><path d="M1063.3,1828.9L1067.0,1835.0L1063.3,1841.1L1059.6,1835.0Z" fill="#1f48e6"/><path d="M1130.8,1781.5L1134.5,1787.6L1130.8,1793.7L1127.1,1787.6Z" fill="#1f48e6"/><path d="M1198.3,1746.0L1202.0,1752.1L1198.3,1758.2L1194.6,1752.1Z" fill="#1f48e6"/><path d="M1265.8,1705.1L1269.5,1711.2L1265.8,1717.3L1262.1,1711.2Z" fill="#1f48e6"/><path d="M1333.3,1687.3L1337.0,1693.4L1333.3,1699.5L1329.6,1693.4Z" fill="#1f48e6"/><path d="M860.8,1758.6 L928.3,1733.7 L967.8,1722.4 L995.8,1711.2 L1017.5,1693.4 L1035.3,1704.7 L1050.3,1698.2 L1063.3,1693.4 L1074.8,1693.4 L1085.0,1680.4 L1094.3,1680.4 L1102.8,1686.9 L1110.6,1693.4 L1117.8,1693.4 L1124.5,1686.9 L1130.8,1680.4 L1136.7,1683.0 L1142.3,1680.1 L1147.5,1679.9 L1152.5,1678.3 L1157.3,1675.3 L1161.8,1676.5 L1166.1,1683.0 L1170.3,1681.7 L1174.3,1678.4 L1178.1,1678.7 L1181.8,1671.5 L1185.3,1673.8 L1188.7,1676.4 L1192.0,1677.4 L1195.2,1676.8 L1198.3,1668.5 L1201.3,1666.4 L1204.2,1675.3 L1207.0,1671.9 L1209.8,1673.1 L1212.4,1669.9 L1215.0,1674.1 L1217.6,1676.3 L1220.0,1669.0 L1222.4,1673.4 L1224.8,1669.3 L1227.1,1666.2 L1229.3,1670.0 L1231.5,1666.0 L1233.6,1667.3 L1235.7,1676.0 L1237.8,1673.8 L1239.8,1668.9 L1241.8,1671.0 L1243.7,1676.6 L1245.6,1666.9 L1247.4,1668.9 L1249.3,1671.4 L1251.0,1670.3 L1252.8,1674.5 L1254.5,1669.9 L1256.2,1674.8 L1257.9,1668.5 L1259.5,1665.2 L1261.1,1673.8 L1262.7,1673.2 L1264.3,1669.5 L1265.8,1668.5 L1267.3,1674.2 L1268.8,1671.6 L1270.3,1669.0 L1271.7,1674.2 L1273.1,1675.3 L1274.5,1667.3 L1275.9,1668.7 L1277.3,1669.2 L1278.6,1669.6 L1279.9,1674.8 L1281.2,1670.3 L1282.5,1670.2 L1283.8,1669.9 L1285.1,1674.0 L1286.3,1675.1 L1287.5,1669.8 L1288.7,1667.6 L1289.9,1668.0 L1291.1,1664.7 L1292.3,1671.4 L1293.4,1671.2 L1294.6,1671.9 L1295.7,1669.8 L1296.8,1667.8 L1297.9,1665.5 L1299.0,1674.6 L1300.1,1668.9 L1301.1,1666.6 L1302.2,1666.8 L1303.2,1670.5 L1304.3,1674.8" fill="none" stroke="#9400d3" stroke-width="2" stroke-linejoin="miter" stroke-miterlimit="4"/><path d="M860.8,1752.5L864.5,1758.6L860.8,1764.7L857.1,1758.6Z" fill="#9400d3"/><path d="M928.3,1727.6L932.0,1733.7L928.3,1739.8L924.6,1733.7Z" fill="#9400d3"/><path d="M995.8,1705.1L999.5,1711.2L995.8,1717.3L992.1,1711.2Z" fill="#9400d3"/><path d="M1063.3,1687.3L1067.0,1693.4L1063.3,1699.5L1059.6,1693.4Z" fill="#9400d3"/><path d="M1130.8,1674.3L1134.5,1680.4L1130.8,1686.5L1127.1,1680.4Z" fill="#9400d3"/><path d="M1198.3,1662.4L1202.0,1668.5L1198.3,1674.6L1194.6,1668.5Z" fill="#9400d3"/><path d="M1265.8,1662.4L1269.5,1668.5L1265.8,1674.6L1262.1,1668.5Z" fill="#9400d3"/><path d="M860.8,1806.0 L928.3,1776.4 L967.8,1753.3 L995.8,1729.0 L1017.5,1729.0 L1035.3,1717.7 L1050.3,1711.2 L1063.3,1715.9 L1074.8,1698.2 L1085.0,1698.2 L1094.3,1698.2 L1102.8,1698.2 L1110.6,1711.2 L1117.8,1711.2 L1124.5,1698.2 L1130.8,1698.2 L1136.7,1696.6 L1142.3,1684.8 L1147.5,1685.8 L1152.5,1694.2 L1157.3,1686.5 L1161.8,1689.8 L1166.1,1680.7 L1170.3,1680.4 L1174.3,1687.0 L1178.1,1682.5 L1181.8,1683.3 L1185.3,1685.5 L1188.7,1683.0 L1192.0,1682.9 L1195.2,1681.9 L1198.3,1674.4 L1201.3,1678.2 L1204.2,1687.1 L1207.0,1682.9 L1209.8,1674.8 L1212.4,1677.4 L1215.0,1679.4 L1217.6,1678.7 L1220.0,1678.2 L1222.4,1684.9 L1224.8,1681.6 L1227.1,1683.2 L1229.3,1684.3 L1231.5,1677.7 L1233.6,1686.1 L1235.7,1684.2 L1237.8,1677.2 L1239.8,1674.7 L1241.8,1682.4 L1243.7,1675.1 L1245.6,1675.3 L1247.4,1684.1 L1249.3,1674.1 L1251.0,1683.8 L1252.8,1679.8 L1254.5,1684.8 L1256.2,1684.6 L1257.9,1677.1 L1259.5,1674.7 L1261.1,1684.2 L1262.7,1681.3 L1264.3,1677.5 L1265.8,1678.6 L1267.3,1683.6 L1268.8,1676.3 L1270.3,1683.9 L1271.7,1673.1 L1273.1,1676.5 L1274.5,1676.5 L1275.9,1673.1 L1277.3,1682.0 L1278.6,1682.4 L1279.9,1676.8 L1281.2,1673.3 L1282.5,1672.7 L1283.8,1674.5 L1285.1,1676.9 L1286.3,1680.0 L1287.5,1674.4 L1288.7,1676.4 L1289.9,1673.2 L1291.1,1674.7 L1292.3,1678.1" fill="none" stroke="#f05a14" stroke-width="2" stroke-linejoin="miter" stroke-miterlimit="4"/><path d="M860.8,1799.9L864.5,1806.0L860.8,1812.1L857.1,1806.0Z" fill="#f05a14"/><path d="M928.3,1770.3L932.0,1776.4L928.3,1782.5L924.6,1776.4Z" fill="#f05a14"/><path d="M995.8,1722.9L999.5,1729.0L995.8,1735.1L992.1,1729.0Z" fill="#f05a14"/><path d="M1063.3,1709.8L1067.0,1715.9L1063.3,1722.0L1059.6,1715.9Z" fill="#f05a14"/><path d="M1130.8,1692.1L1134.5,1698.2L1130.8,1704.3L1127.1,1698.2Z" fill="#f05a14"/><path d="M1198.3,1668.3L1202.0,1674.4L1198.3,1680.5L1194.6,1674.4Z" fill="#f05a14"/><path d="M1265.8,1672.5L1269.5,1678.6L1265.8,1684.7L1262.1,1678.6Z" fill="#f05a14"/><path d="M860.8,1983.8 L928.3,1806.0 L967.8,1776.4 L995.8,1763.9 L1017.5,1752.1 L1035.3,1752.1 L1050.3,1733.7 L1063.3,1733.7 L1074.8,1729.0 L1085.0,1727.2 L1094.3,1722.4 L1102.8,1722.4 L1110.6,1715.9 L1117.8,1713.0 L1124.5,1711.2 L1130.8,1711.2 L1136.7,1711.3 L1142.3,1710.8 L1147.5,1702.0 L1152.5,1705.0 L1157.3,1698.6 L1161.8,1702.4 L1166.1,1690.9 L1170.3,1692.9 L1174.3,1695.8 L1178.1,1696.9 L1181.8,1686.2 L1185.3,1684.0 L1188.7,1691.1 L1192.0,1694.3 L1195.2,1684.4 L1198.3,1704.7 L1201.3,1688.9 L1204.2,1691.1 L1207.0,1681.5 L1209.8,1678.8 L1212.4,1686.7 L1215.0,1685.8 L1217.6,1679.8 L1220.0,1681.1 L1222.4,1679.0 L1224.8,1682.4 L1227.1,1687.0 L1229.3,1678.4 L1231.5,1680.0 L1233.6,1679.2 L1235.7,1685.4 L1237.8,1685.7 L1239.8,1677.7 L1241.8,1678.2 L1243.7,1687.9 L1245.6,1688.1 L1247.4,1687.4 L1249.3,1681.1 L1251.0,1685.9 L1252.8,1686.8 L1254.5,1682.6 L1256.2,1677.2 L1257.9,1682.9 L1259.5,1687.6 L1261.1,1686.8 L1262.7,1684.9 L1264.3,1684.4 L1265.8,1685.8 L1267.3,1687.3 L1268.8,1684.2 L1270.3,1685.6 L1271.7,1685.7 L1273.1,1687.0 L1274.5,1681.3 L1275.9,1679.0 L1277.3,1683.7 L1278.6,1686.6 L1279.9,1682.8 L1281.2,1686.9 L1282.5,1686.1 L1283.8,1684.6 L1285.1,1676.9 L1286.3,1686.9 L1287.5,1681.7 L1288.7,1687.3 L1289.9,1683.2 L1291.1,1675.8 L1292.3,1677.4 L1293.4,1681.7 L1294.6,1684.1 L1295.7,1684.1 L1296.8,1680.7 L1297.9,1681.9 L1299.0,1684.0 L1300.1,1686.7 L1301.1,1677.8 L1302.2,1675.1 L1303.2,1675.5 L1304.3,1680.9 L1305.3,1682.1 L1306.3,1685.5 L1307.3,1675.1 L1308.3,1681.6 L1309.3,1685.9 L1310.2,1675.2 L1311.2,1678.9 L1312.1,1677.8 L1313.1,1680.2 L1314.0,1684.0 L1314.9,1677.0 L1315.8,1677.7 L1316.8,1680.4 L1317.7,1675.3 L1318.5,1684.3 L1319.4,1675.0 L1320.3,1679.4 L1321.2,1685.0" fill="none" stroke="#f5a013" stroke-width="2" stroke-linejoin="miter" stroke-miterlimit="4"/><path d="M860.8,1977.7L864.5,1983.8L860.8,1989.9L857.1,1983.8Z" fill="#f5a013"/><path d="M928.3,1799.9L932.0,1806.0L928.3,1812.1L924.6,1806.0Z" fill="#f5a013"/><path d="M995.8,1757.8L999.5,1763.9L995.8,1770.0L992.1,1763.9Z" fill="#f5a013"/><path d="M1063.3,1727.6L1067.0,1733.7L1063.3,1739.8L1059.6,1733.7Z" fill="#f5a013"/><path d="M1130.8,1705.1L1134.5,1711.2L1130.8,1717.3L1127.1,1711.2Z" fill="#f5a013"/><path d="M1198.3,1698.6L1202.0,1704.7L1198.3,1710.8L1194.6,1704.7Z" fill="#f5a013"/><path d="M1265.8,1679.7L1269.5,1685.8L1265.8,1691.9L1262.1,1685.8Z" fill="#f5a013"/></g><rect x="1273.3" y="1762.2" width="115.4" height="145.9" rx="3" ry="3" fill="#fff" fill-opacity="0.8" stroke="#d0d0d0" stroke-width="1.3"/><line x1="1281.8" y1="1781.7" x2="1330.8" y2="1781.7" stroke="#1f48e6" stroke-width="2"/><text x="1348.7" y="1790.0" font-size="23.4">PF</text><line x1="1281.8" y1="1816.4" x2="1330.8" y2="1816.4" stroke="#9400d3" stroke-width="2"/><text x="1348.7" y="1824.7" font-size="23.4">FT</text><line x1="1281.8" y1="1851.1" x2="1330.8" y2="1851.1" stroke="#f05a14" stroke-width="2"/><text x="1348.7" y="1859.4" font-size="23.4">AP</text><line x1="1281.8" y1="1885.8" x2="1330.8" y2="1885.8" stroke="#f5a013" stroke-width="2"/><text x="1348.7" y="1894.0" font-size="23.4">LR</text><rect x="832.9" y="1646.0" width="567.9" height="378.4" fill="none" stroke="#1c1c1c" stroke-width="1.3"/><line x1="828.3" y1="2007.5" x2="832.9" y2="2007.5" stroke="#000" stroke-width="1.3"/><text x="823.8" y="2016.8" font-size="23.6" text-anchor="end">0.0</text><line x1="828.3" y1="1917.1" x2="832.9" y2="1917.1" stroke="#000" stroke-width="1.3"/><text x="823.8" y="1926.4" font-size="23.6" text-anchor="end">0.15</text><line x1="828.3" y1="1826.8" x2="832.9" y2="1826.8" stroke="#000" stroke-width="1.3"/><text x="823.8" y="1836.0" font-size="23.6" text-anchor="end">0.3</text><line x1="828.3" y1="1736.4" x2="832.9" y2="1736.4" stroke="#000" stroke-width="1.3"/><text x="823.8" y="1745.7" font-size="23.6" text-anchor="end">0.46</text><line x1="828.3" y1="1646.0" x2="832.9" y2="1646.0" stroke="#000" stroke-width="1.3"/><text x="823.8" y="1655.3" font-size="23.6" text-anchor="end">0.61</text><line x1="860.8" y1="2024.4" x2="860.8" y2="2029.0" stroke="#000" stroke-width="1.3"/><text x="860.8" y="2045.8" font-size="15.7" text-anchor="middle">100</text><line x1="928.3" y1="2024.4" x2="928.3" y2="2029.0" stroke="#000" stroke-width="1.3"/><text x="928.3" y="2045.8" font-size="15.7" text-anchor="middle">200</text><line x1="995.8" y1="2024.4" x2="995.8" y2="2029.0" stroke="#000" stroke-width="1.3"/><text x="995.8" y="2045.8" font-size="15.7" text-anchor="middle">400</text><line x1="1063.3" y1="2024.4" x2="1063.3" y2="2029.0" stroke="#000" stroke-width="1.3"/><text x="1063.3" y="2045.8" font-size="15.7" text-anchor="middle">800</text><line x1="1130.8" y1="2024.4" x2="1130.8" y2="2029.0" stroke="#000" stroke-width="1.3"/><text x="1130.8" y="2045.8" font-size="15.7" text-anchor="middle">1600</text><line x1="1198.3" y1="2024.4" x2="1198.3" y2="2029.0" stroke="#000" stroke-width="1.3"/><text x="1198.3" y="2045.8" font-size="15.7" text-anchor="middle">3200</text><line x1="1265.8" y1="2024.4" x2="1265.8" y2="2029.0" stroke="#000" stroke-width="1.3"/><text x="1265.8" y="2045.8" font-size="15.7" text-anchor="middle">6400</text><line x1="1333.3" y1="2024.4" x2="1333.3" y2="2029.0" stroke="#000" stroke-width="1.3"/><text x="1333.3" y="2045.8" font-size="15.7" text-anchor="middle">12800</text><line x1="1400.8" y1="2024.4" x2="1400.8" y2="2029.0" stroke="#000" stroke-width="1.3"/><text x="1400.8" y="2045.8" font-size="15.7" text-anchor="middle">25600</text><text x="1116.8" y="2072.6" font-size="24" text-anchor="middle">steps</text><text transform="translate(761.6,1835.2) rotate(-90)" font-size="23.8" text-anchor="middle">EM</text><text x="1116.8" y="1637.8" font-size="28.5" text-anchor="middle">numer_sense</text></g>
<g><clipPath id="c11"><rect x="1575.3" y="1646.0" width="567.9" height="378.4"/></clipPath><line x1="1575.3" y1="1929.8" x2="2143.2" y2="1929.8" stroke="#b0b0b0" stroke-width="1.1" stroke-dasharray="2.6,0.9"/><line x1="1575.3" y1="1835.2" x2="2143.2" y2="1835.2" stroke="#b0b0b0" stroke-width="1.1" stroke-dasharray="2.6,0.9"/><line x1="1575.3" y1="1740.6" x2="2143.2" y2="1740.6" stroke="#b0b0b0" stroke-width="1.1" stroke-dasharray="2.6,0.9"/><g clip-path="url(#c11)"><path d="M1603.2,1971.1 L1670.7,1789.3 L1710.2,1789.3 L1738.2,1783.1 L1759.9,1757.7 L1777.7,1757.7 L1792.7,1739.0 L1805.7,1744.0 L1817.2,1744.0 L1827.4,1750.2 L1836.7,1750.2 L1845.2,1739.0 L1853.0,1739.0 L1860.2,1739.0 L1866.9,1739.0 L1873.2,1720.4 L1879.1,1720.4 L1884.7,1713.0 L1889.9,1726.0 L1894.9,1726.0 L1899.7,1729.7 L1904.2,1717.5 L1908.5,1720.7 L1912.7,1708.2 L1916.7,1714.0 L1920.5,1715.2 L1924.2,1705.1 L1927.7,1718.9 L1931.1,1705.5 L1934.4,1714.3 L1937.6,1707.9 L1940.7,1708.0 L1943.7,1704.3 L1946.6,1708.8 L1949.4,1704.3 L1952.2,1721.8 L1954.8,1712.7 L1957.4,1703.1 L1960.0,1705.5 L1962.4,1712.2 L1964.8,1717.2 L1967.2,1714.5 L1969.5,1712.7 L1971.7,1719.7 L1973.9,1701.4 L1976.0,1707.8 L1978.1,1710.5 L1980.2,1718.2 L1982.2,1715.1 L1984.2,1713.1 L1986.1,1719.1 L1988.0,1714.8 L1989.8,1714.1 L1991.7,1705.9 L1993.4,1702.0 L1995.2,1722.1 L1996.9,1719.2 L1998.6,1703.2 L2000.3,1722.1 L2001.9,1716.5 L2003.5,1709.7 L2005.1,1710.4 L2006.7,1717.5 L2008.2,1726.0 L2009.7,1705.7 L2011.2,1720.9 L2012.7,1704.5 L2014.1,1711.4 L2015.5,1708.2 L2016.9,1705.7 L2018.3,1703.4 L2019.7,1699.5 L2021.0,1712.8 L2022.3,1712.0 L2023.6,1711.1 L2024.9,1711.1 L2026.2,1697.0 L2027.5,1694.9 L2028.7,1705.4 L2029.9,1697.6 L2031.1,1695.3 L2032.3,1693.8 L2033.5,1695.8 L2034.7,1700.0 L2035.8,1695.2 L2037.0,1705.7 L2038.1,1699.7 L2039.2,1706.9 L2040.3,1704.0 L2041.4,1704.5 L2042.5,1701.9 L2043.5,1713.0 L2044.6,1703.2 L2045.6,1701.9 L2046.7,1692.7 L2047.7,1697.2 L2048.7,1709.6 L2049.7,1704.2 L2050.7,1696.1 L2051.7,1711.1 L2052.6,1693.7 L2053.6,1711.9 L2054.5,1697.9 L2055.5,1700.4 L2056.4,1691.6 L2057.3,1704.7 L2058.2,1706.1 L2059.2,1709.0 L2060.1,1706.8 L2060.9,1705.9 L2061.8,1700.1" fill="none" stroke="#1f48e6" stroke-width="2" stroke-linejoin="miter" stroke-miterlimit="4"/><path d="M1603.2,1965.0L1606.9,1971.1L1603.2,1977.2L1599.5,1971.1Z" fill="#1f48e6"/><path d="M1670.7,1783.2L1674.4,1789.3L1670.7,1795.4L1667.0,1789.3Z" fill="#1f48e6"/><path d="M1738.2,1777.0L1741.9,1783.1L1738.2,1789.2L1734.5,1783.1Z" fill="#1f48e6"/><path d="M1805.7,1737.9L1809.4,1744.0L1805.7,1750.1L1802.0,1744.0Z" fill="#1f48e6"/><path d="M1873.2,1714.3L1876.9,1720.4L1873.2,1726.5L1869.5,1720.4Z" fill="#1f48e6"/><path d="M1940.7,1701.9L1944.4,1708.0L1940.7,1714.1L1937.0,1708.0Z" fill="#1f48e6"/><path d="M2008.2,1719.9L2011.9,1726.0L2008.2,1732.1L2004.5,1726.0Z" fill="#1f48e6"/><path d="M1603.2,1782.5 L1670.7,1776.9 L1710.2,1739.0 L1738.2,1739.0 L1759.9,1739.0 L1777.7,1726.0 L1792.7,1726.0 L1805.7,1707.4 L1817.2,1713.0 L1827.4,1695.0 L1836.7,1700.0 L1845.2,1695.0 L1853.0,1700.0 L1860.2,1693.1 L1866.9,1683.8 L1873.2,1701.8 L1879.1,1695.0 L1884.7,1706.2 L1889.9,1706.2 L1894.9,1693.1 L1899.7,1682.0 L1904.2,1700.0 L1908.5,1692.3 L1912.7,1690.4 L1916.7,1696.9 L1920.5,1682.9 L1924.2,1687.4 L1927.7,1686.7 L1931.1,1693.5 L1934.4,1685.0 L1937.6,1684.1 L1940.7,1694.4 L1943.7,1692.0 L1946.6,1684.0 L1949.4,1672.1 L1952.2,1680.9 L1954.8,1684.6 L1957.4,1678.8 L1960.0,1689.3 L1962.4,1684.9 L1964.8,1674.5 L1967.2,1681.2 L1969.5,1682.8 L1971.7,1669.4 L1973.9,1679.3 L1976.0,1680.6 L1978.1,1688.6 L1980.2,1676.9 L1982.2,1678.9 L1984.2,1683.4 L1986.1,1668.7 L1988.0,1675.4 L1989.8,1677.0 L1991.7,1669.6 L1993.4,1679.8 L1995.2,1666.6 L1996.9,1672.9 L1998.6,1679.5 L2000.3,1677.7 L2001.9,1666.0 L2003.5,1673.9 L2005.1,1687.0 L2006.7,1668.1 L2008.2,1675.2 L2009.7,1680.1 L2011.2,1675.8 L2012.7,1681.9 L2014.1,1671.4 L2015.5,1672.3 L2016.9,1675.7 L2018.3,1675.1 L2019.7,1678.2 L2021.0,1670.0 L2022.3,1666.8 L2023.6,1684.1 L2024.9,1671.0" fill="none" stroke="#9400d3" stroke-width="2" stroke-linejoin="miter" stroke-miterlimit="4"/><path d="M1603.2,1776.4L1606.9,1782.5L1603.2,1788.6L1599.5,1782.5Z" fill="#9400d3"/><path d="M1670.7,1770.8L1674.4,1776.9L1670.7,1783.0L1667.0,1776.9Z" fill="#9400d3"/><path d="M1738.2,1732.9L1741.9,1739.0L1738.2,1745.1L1734.5,1739.0Z" fill="#9400d3"/><path d="M1805.7,1701.3L1809.4,1707.4L1805.7,1713.5L1802.0,1707.4Z" fill="#9400d3"/><path d="M1873.2,1695.7L1876.9,1701.8L1873.2,1707.9L1869.5,1701.8Z" fill="#9400d3"/><path d="M1940.7,1688.3L1944.4,1694.4L1940.7,1700.5L1937.0,1694.4Z" fill="#9400d3"/><path d="M2008.2,1669.1L2011.9,1675.2L2008.2,1681.3L2004.5,1675.2Z" fill="#9400d3"/><path d="M1603.2,2007.7 L1670.7,1820.9 L1710.2,1801.1 L1738.2,1783.1 L1759.9,1783.1 L1777.7,1783.1 L1792.7,1776.9 L1805.7,1770.1 L1817.2,1750.2 L1827.4,1750.2 L1836.7,1744.0 L1845.2,1739.0 L1853.0,1739.0 L1860.2,1739.0 L1866.9,1732.8 L1873.2,1732.8 L1879.1,1739.5 L1884.7,1739.0 L1889.9,1734.2 L1894.9,1738.7 L1899.7,1725.5 L1904.2,1737.1 L1908.5,1728.4 L1912.7,1730.3 L1916.7,1721.4 L1920.5,1728.5 L1924.2,1722.7 L1927.7,1719.8 L1931.1,1719.5 L1934.4,1721.6 L1937.6,1713.6 L1940.7,1711.1 L1943.7,1708.1 L1946.6,1714.5 L1949.4,1709.4 L1952.2,1706.0 L1954.8,1697.8 L1957.4,1708.6 L1960.0,1706.6 L1962.4,1695.6 L1964.8,1706.5 L1967.2,1692.6 L1969.5,1697.1 L1971.7,1701.1 L1973.9,1692.0 L1976.0,1692.5 L1978.1,1698.3 L1980.2,1690.9 L1982.2,1699.2 L1984.2,1692.8 L1986.1,1693.5 L1988.0,1688.8 L1989.8,1695.7 L1991.7,1694.0 L1993.4,1688.0 L1995.2,1691.3 L1996.9,1688.3 L1998.6,1688.6 L2000.3,1687.7 L2001.9,1684.0 L2003.5,1689.6 L2005.1,1686.5 L2006.7,1690.4 L2008.2,1695.2 L2009.7,1684.1 L2011.2,1692.2 L2012.7,1682.4 L2014.1,1680.7 L2015.5,1684.2 L2016.9,1691.1 L2018.3,1688.3 L2019.7,1687.2 L2021.0,1691.6 L2022.3,1685.6 L2023.6,1683.6 L2024.9,1686.8 L2026.2,1688.7 L2027.5,1689.9 L2028.7,1681.6 L2029.9,1690.5 L2031.1,1685.3 L2032.3,1687.1 L2033.5,1682.5 L2034.7,1679.6 L2035.8,1676.7 L2037.0,1680.7 L2038.1,1675.3 L2039.2,1675.7 L2040.3,1680.6 L2041.4,1686.4 L2042.5,1682.6 L2043.5,1687.1 L2044.6,1674.9 L2045.6,1683.0 L2046.7,1678.3 L2047.7,1688.8 L2048.7,1687.4 L2049.7,1686.4 L2050.7,1685.4 L2051.7,1683.9 L2052.6,1685.1 L2053.6,1682.6 L2054.5,1682.7 L2055.5,1687.3 L2056.4,1687.9 L2057.3,1683.5 L2058.2,1687.4 L2059.2,1682.2 L2060.1,1688.5 L2060.9,1680.6 L2061.8,1687.4 L2062.7,1678.1 L2063.6,1682.4 L2064.4,1673.7 L2065.3,1684.4 L2066.1,1681.2 L2066.9,1677.0 L2067.8,1683.1 L2068.6,1682.9 L2069.4,1678.5 L2070.2,1673.5 L2071.0,1674.7 L2071.8,1681.6 L2072.6,1677.1 L2073.4,1677.6 L2074.2,1682.1 L2074.9,1684.1 L2075.7,1686.4" fill="none" stroke="#f05a14" stroke-width="2" stroke-linejoin="miter" stroke-miterlimit="4"/><path d="M1603.2,2001.6L1606.9,2007.7L1603.2,2013.8L1599.5,2007.7Z" fill="#f05a14"/><path d="M1670.7,1814.8L1674.4,1820.9L1670.7,1827.0L1667.0,1820.9Z" fill="#f05a14"/><path d="M1738.2,1777.0L1741.9,1783.1L1738.2,1789.2L1734.5,1783.1Z" fill="#f05a14"/><path d="M1805.7,1764.0L1809.4,1770.1L1805.7,1776.2L1802.0,1770.1Z" fill="#f05a14"/><path d="M1873.2,1726.7L1876.9,1732.8L1873.2,1738.9L1869.5,1732.8Z" fill="#f05a14"/><path d="M1940.7,1705.0L1944.4,1711.1L1940.7,1717.2L1937.0,1711.1Z" fill="#f05a14"/><path d="M2008.2,1689.1L2011.9,1695.2L2008.2,1701.3L2004.5,1695.2Z" fill="#f05a14"/><path d="M2075.7,1680.3L2079.4,1686.4L2075.7,1692.5L2072.0,1686.4Z" fill="#f05a14"/><path d="M1603.2,1963.0 L1670.7,1807.9 L1710.2,1776.9 L1738.2,1770.1 L1759.9,1763.9 L1777.7,1757.7 L1792.7,1757.7 L1805.7,1752.1 L1817.2,1732.8 L1827.4,1739.0 L1836.7,1732.8 L1845.2,1739.0 L1853.0,1739.0 L1860.2,1739.0 L1866.9,1739.0 L1873.2,1732.8 L1879.1,1750.2 L1884.7,1726.0 L1889.9,1719.8 L1894.9,1719.8 L1899.7,1708.0 L1904.2,1726.0 L1908.5,1727.9 L1912.7,1742.2 L1916.7,1727.9 L1920.5,1708.2 L1924.2,1715.3 L1927.7,1721.5 L1931.1,1704.8 L1934.4,1714.7 L1937.6,1706.4 L1940.7,1711.1 L1943.7,1716.5 L1946.6,1699.3 L1949.4,1701.1 L1952.2,1715.7 L1954.8,1705.6 L1957.4,1705.4 L1960.0,1708.3 L1962.4,1709.7 L1964.8,1704.8 L1967.2,1707.7 L1969.5,1706.0 L1971.7,1692.1 L1973.9,1701.6 L1976.0,1702.2 L1978.1,1699.6 L1980.2,1704.8 L1982.2,1688.5 L1984.2,1695.7 L1986.1,1692.2 L1988.0,1685.2 L1989.8,1702.1 L1991.7,1692.5 L1993.4,1693.8 L1995.2,1687.6 L1996.9,1690.4 L1998.6,1693.1 L2000.3,1698.9 L2001.9,1690.5 L2003.5,1684.9 L2005.1,1681.4 L2006.7,1690.7 L2008.2,1689.2 L2009.7,1683.2 L2011.2,1689.9 L2012.7,1690.6 L2014.1,1683.7 L2015.5,1680.6 L2016.9,1682.6 L2018.3,1679.1 L2019.7,1694.0 L2021.0,1686.6 L2022.3,1695.7 L2023.6,1678.1 L2024.9,1691.8 L2026.2,1685.8 L2027.5,1682.3 L2028.7,1686.5 L2029.9,1686.3 L2031.1,1686.0 L2032.3,1683.7 L2033.5,1682.3 L2034.7,1680.4 L2035.8,1685.3 L2037.0,1686.4 L2038.1,1691.1 L2039.2,1693.6 L2040.3,1687.6 L2041.4,1674.7 L2042.5,1684.1 L2043.5,1690.2 L2044.6,1683.7 L2045.6,1678.4 L2046.7,1676.3 L2047.7,1685.3 L2048.7,1680.3 L2049.7,1691.1 L2050.7,1675.4 L2051.7,1684.1 L2052.6,1689.7 L2053.6,1687.9 L2054.5,1675.8 L2055.5,1674.4 L2056.4,1688.1 L2057.3,1672.9 L2058.2,1687.7 L2059.2,1690.8 L2060.1,1691.6 L2060.9,1689.0 L2061.8,1678.0 L2062.7,1681.0 L2063.6,1674.1 L2064.4,1688.2 L2065.3,1689.0 L2066.1,1675.4 L2066.9,1682.9 L2067.8,1683.1 L2068.6,1677.4 L2069.4,1692.5 L2070.2,1691.5 L2071.0,1690.8 L2071.8,1685.5 L2072.6,1690.8 L2073.4,1682.1 L2074.2,1684.4 L2074.9,1685.5 L2075.7,1687.7 L2076.5,1684.1 L2077.2,1677.7 L2078.0,1673.8 L2078.7,1673.4 L2079.4,1692.5 L2080.2,1680.4 L2080.9,1678.2 L2081.6,1674.5 L2082.3,1682.1 L2083.0,1688.3 L2083.7,1684.2 L2084.4,1674.2 L2085.1,1690.4 L2085.8,1683.0 L2086.5,1685.8 L2087.2,1686.7 L2087.8,1691.6" fill="none" stroke="#f5a013" stroke-width="2" stroke-linejoin="miter" stroke-miterlimit="4"/><path d="M1603.2,1956.9L1606.9,1963.0L1603.2,1969.1L1599.5,1963.0Z" fill="#f5a013"/><path d="M1670.7,1801.8L1674.4,1807.9L1670.7,1814.0L1667.0,1807.9Z" fill="#f5a013"/><path d="M1738.2,1764.0L1741.9,1770.1L1738.2,1776.2L1734.5,1770.1Z" fill="#f5a013"/><path d="M1805.7,1746.0L1809.4,1752.1L1805.7,1758.2L1802.0,1752.1Z" fill="#f5a013"/><path d="M1873.2,1726.7L1876.9,1732.8L1873.2,1738.9L1869.5,1732.8Z" fill="#f5a013"/><path d="M1940.7,1705.0L1944.4,1711.1L1940.7,1717.2L1937.0,1711.1Z" fill="#f5a013"/><path d="M2008.2,1683.1L2011.9,1689.2L2008.2,1695.3L2004.5,1689.2Z" fill="#f5a013"/><path d="M2075.7,1681.6L2079.4,1687.7L2075.7,1693.8L2072.0,1687.7Z" fill="#f5a013"/></g><rect x="2015.7" y="1866.5" width="115.4" height="145.9" rx="3" ry="3" fill="#fff" fill-opacity="0.8" stroke="#d0d0d0" stroke-width="1.3"/><line x1="2024.2" y1="1885.9" x2="2073.2" y2="1885.9" stroke="#1f48e6" stroke-width="2"/><text x="2091.1" y="1894.2" font-size="23.4">PF</text><line x1="2024.2" y1="1920.6" x2="2073.2" y2="1920.6" stroke="#9400d3" stroke-width="2"/><text x="2091.1" y="1928.9" font-size="23.4">FT</text><line x1="2024.2" y1="1955.3" x2="2073.2" y2="1955.3" stroke="#f05a14" stroke-width="2"/><text x="2091.1" y="1963.6" font-size="23.4">AP</text><line x1="2024.2" y1="1990.0" x2="2073.2" y2="1990.0" stroke="#f5a013" stroke-width="2"/><text x="2091.1" y="1998.3" font-size="23.4">LR</text><rect x="1575.3" y="1646.0" width="567.9" height="378.4" fill="none" stroke="#1c1c1c" stroke-width="1.3"/><line x1="1570.7" y1="2024.4" x2="1575.3" y2="2024.4" stroke="#000" stroke-width="1.3"/><text x="1566.2" y="2033.7" font-size="23.6" text-anchor="end">0.01</text><line x1="1570.7" y1="1929.8" x2="1575.3" y2="1929.8" stroke="#000" stroke-width="1.3"/><text x="1566.2" y="1939.1" font-size="23.6" text-anchor="end">0.16</text><line x1="1570.7" y1="1835.2" x2="1575.3" y2="1835.2" stroke="#000" stroke-width="1.3"/><text x="1566.2" y="1844.5" font-size="23.6" text-anchor="end">0.32</text><line x1="1570.7" y1="1740.6" x2="1575.3" y2="1740.6" stroke="#000" stroke-width="1.3"/><text x="1566.2" y="1749.9" font-size="23.6" text-anchor="end">0.47</text><line x1="1570.7" y1="1646.0" x2="1575.3" y2="1646.0" stroke="#000" stroke-width="1.3"/><text x="1566.2" y="1655.3" font-size="23.6" text-anchor="end">0.62</text><line x1="1603.2" y1="2024.4" x2="1603.2" y2="2029.0" stroke="#000" stroke-width="1.3"/><text x="1603.2" y="2045.8" font-size="15.7" text-anchor="middle">100</text><line x1="1670.7" y1="2024.4" x2="1670.7" y2="2029.0" stroke="#000" stroke-width="1.3"/><text x="1670.7" y="2045.8" font-size="15.7" text-anchor="middle">200</text><line x1="1738.2" y1="2024.4" x2="1738.2" y2="2029.0" stroke="#000" stroke-width="1.3"/><text x="1738.2" y="2045.8" font-size="15.7" text-anchor="middle">400</text><line x1="1805.7" y1="2024.4" x2="1805.7" y2="2029.0" stroke="#000" stroke-width="1.3"/><text x="1805.7" y="2045.8" font-size="15.7" text-anchor="middle">800</text><line x1="1873.2" y1="2024.4" x2="1873.2" y2="2029.0" stroke="#000" stroke-width="1.3"/><text x="1873.2" y="2045.8" font-size="15.7" text-anchor="middle">1600</text><line x1="1940.7" y1="2024.4" x2="1940.7" y2="2029.0" stroke="#000" stroke-width="1.3"/><text x="1940.7" y="2045.8" font-size="15.7" text-anchor="middle">3200</text><line x1="2008.2" y1="2024.4" x2="2008.2" y2="2029.0" stroke="#000" stroke-width="1.3"/><text x="2008.2" y="2045.8" font-size="15.7" text-anchor="middle">6400</text><line x1="2075.7" y1="2024.4" x2="2075.7" y2="2029.0" stroke="#000" stroke-width="1.3"/><text x="2075.7" y="2045.8" font-size="15.7" text-anchor="middle">12800</text><line x1="2143.2" y1="2024.4" x2="2143.2" y2="2029.0" stroke="#000" stroke-width="1.3"/><text x="2143.2" y="2045.8" font-size="15.7" text-anchor="middle">25600</text><text x="1859.2" y="2072.6" font-size="24" text-anchor="middle">steps</text><text transform="translate(1504.0,1835.2) rotate(-90)" font-size="23.8" text-anchor="middle">ACC</text><text x="1859.2" y="1637.8" font-size="28.5" text-anchor="middle">openbookqa</text></g>
<g><clipPath id="c12"><rect x="90.5" y="2184.7" width="567.9" height="378.4"/></clipPath><line x1="90.5" y1="2468.5" x2="658.4" y2="2468.5" stroke="#b0b0b0" stroke-width="1.1" stroke-dasharray="2.6,0.9"/><line x1="90.5" y1="2373.9" x2="658.4" y2="2373.9" stroke="#b0b0b0" stroke-width="1.1" stroke-dasharray="2.6,0.9"/><line x1="90.5" y1="2279.3" x2="658.4" y2="2279.3" stroke="#b0b0b0" stroke-width="1.1" stroke-dasharray="2.6,0.9"/><g clip-path="url(#c12)"><path d="M118.4,2508.3 L185.9,2473.8 L225.4,2457.7 L253.4,2454.3 L275.1,2457.7 L292.9,2457.7 L307.9,2473.8 L320.9,2473.8 L332.4,2457.7 L342.6,2457.7 L351.9,2457.7 L360.4,2449.2 L368.2,2473.8 L375.4,2473.8 L382.1,2473.8 L388.4,2456.8 L394.3,2473.8 L399.9,2457.7 L405.1,2457.7 L410.1,2457.7 L414.9,2457.7 L419.4,2445.3 L423.7,2457.7 L427.9,2393.0 L431.9,2456.8 L435.7,2471.7 L439.4,2402.8 L442.9,2457.7 L446.3,2457.7 L449.6,2388.8 L452.8,2414.3 L455.9,2413.4 L458.9,2473.8 L461.8,2390.9 L464.6,2456.8 L467.4,2385.4 L470.0,2385.4 L472.6,2427.0 L475.2,2380.3 L477.6,2380.3 L480.0,2431.3 L482.4,2384.5 L484.7,2385.4 L486.9,2456.8 L489.1,2367.9 L491.2,2393.0 L493.3,2367.9 L495.4,2373.9 L497.4,2361.1 L499.4,2456.8 L501.3,2421.5 L503.2,2382.1 L505.0,2439.4 L506.9,2421.7 L508.6,2412.2 L510.4,2368.6 L512.1,2414.5 L513.8,2342.0 L515.5,2435.5 L517.1,2429.4 L518.7,2342.0 L520.3,2282.1 L521.9,2282.1 L523.4,2282.1 L524.9,2291.0 L526.4,2262.5 L527.9,2427.0 L529.3,2390.1 L530.7,2429.8 L532.1,2405.7 L533.5,2393.7 L534.9,2381.3 L536.2,2389.4 L537.5,2374.7 L538.8,2453.4 L540.1,2443.3 L541.4,2368.6 L542.7,2401.8 L543.9,2407.0 L545.1,2379.9 L546.3,2431.0 L547.5,2456.8 L548.7,2436.2 L549.9,2377.1 L551.0,2412.3 L552.2,2377.8 L553.3,2360.3 L554.4,2391.1" fill="none" stroke="#1f48e6" stroke-width="2" stroke-linejoin="miter" stroke-miterlimit="4"/><path d="M118.4,2502.2L122.1,2508.3L118.4,2514.4L114.7,2508.3Z" fill="#1f48e6"/><path d="M185.9,2467.7L189.6,2473.8L185.9,2479.9L182.2,2473.8Z" fill="#1f48e6"/><path d="M253.4,2448.2L257.1,2454.3L253.4,2460.4L249.7,2454.3Z" fill="#1f48e6"/><path d="M320.9,2467.7L324.6,2473.8L320.9,2479.9L317.2,2473.8Z" fill="#1f48e6"/><path d="M388.4,2450.7L392.1,2456.8L388.4,2462.9L384.7,2456.8Z" fill="#1f48e6"/><path d="M455.9,2407.3L459.6,2413.4L455.9,2419.5L452.2,2413.4Z" fill="#1f48e6"/><path d="M523.4,2276.0L527.1,2282.1L523.4,2288.2L519.7,2282.1Z" fill="#1f48e6"/><path d="M118.4,2473.8 L185.9,2457.7 L225.4,2379.9 L253.4,2342.9 L275.1,2240.8 L292.9,2236.1 L307.9,2227.2 L320.9,2227.2 L332.4,2223.0 L342.6,2219.1 L351.9,2223.0 L360.4,2215.7 L368.2,2219.1 L375.4,2215.7 L382.1,2219.1 L388.4,2217.9 L394.3,2217.2 L399.9,2216.3 L405.1,2212.0 L410.1,2211.2 L414.9,2214.4 L419.4,2210.0 L423.7,2208.5 L427.9,2208.6 L431.9,2213.4 L435.7,2206.9 L439.4,2211.7 L442.9,2207.9 L446.3,2212.1 L449.6,2209.3 L452.8,2210.4 L455.9,2210.2 L458.9,2207.7 L461.8,2207.1 L464.6,2207.2 L467.4,2206.8 L470.0,2208.5 L472.6,2209.0 L475.2,2207.3 L477.6,2208.3 L480.0,2207.0 L482.4,2209.8 L484.7,2205.8 L486.9,2206.2 L489.1,2210.9 L491.2,2206.8 L493.3,2208.4 L495.4,2208.0 L497.4,2206.6 L499.4,2207.4 L501.3,2207.4 L503.2,2205.9 L505.0,2210.8 L506.9,2211.3 L508.6,2209.8 L510.4,2209.3 L512.1,2210.8 L513.8,2211.4 L515.5,2208.3 L517.1,2205.7 L518.7,2206.2 L520.3,2208.4" fill="none" stroke="#9400d3" stroke-width="2" stroke-linejoin="miter" stroke-miterlimit="4"/><path d="M118.4,2467.7L122.1,2473.8L118.4,2479.9L114.7,2473.8Z" fill="#9400d3"/><path d="M185.9,2451.6L189.6,2457.7L185.9,2463.8L182.2,2457.7Z" fill="#9400d3"/><path d="M253.4,2336.8L257.1,2342.9L253.4,2349.0L249.7,2342.9Z" fill="#9400d3"/><path d="M320.9,2221.1L324.6,2227.2L320.9,2233.3L317.2,2227.2Z" fill="#9400d3"/><path d="M388.4,2211.8L392.1,2217.9L388.4,2224.0L384.7,2217.9Z" fill="#9400d3"/><path d="M455.9,2204.1L459.6,2210.2L455.9,2216.3L452.2,2210.2Z" fill="#9400d3"/><path d="M118.4,2473.8 L185.9,2457.7 L225.4,2457.7 L253.4,2448.3 L275.1,2457.7 L292.9,2401.5 L307.9,2393.0 L320.9,2346.3 L332.4,2257.4 L342.6,2236.1 L351.9,2232.3 L360.4,2228.1 L368.2,2236.1 L375.4,2225.1 L382.1,2219.1 L388.4,2228.1 L394.3,2220.9 L399.9,2219.4 L405.1,2216.3 L410.1,2214.8 L414.9,2217.5 L419.4,2216.2 L423.7,2215.7 L427.9,2215.1 L431.9,2213.6 L435.7,2214.8 L439.4,2213.9 L442.9,2215.1 L446.3,2217.5 L449.6,2217.3 L452.8,2218.9 L455.9,2218.7 L458.9,2217.9 L461.8,2217.1 L464.6,2217.9 L467.4,2218.7 L470.0,2214.1 L472.6,2216.7 L475.2,2214.7 L477.6,2213.2 L480.0,2216.8 L482.4,2215.1 L484.7,2217.7 L486.9,2217.7 L489.1,2214.2 L491.2,2217.9 L493.3,2212.5 L495.4,2216.8 L497.4,2213.1 L499.4,2212.5 L501.3,2217.8 L503.2,2215.8 L505.0,2215.2 L506.9,2216.8 L508.6,2216.6 L510.4,2215.8 L512.1,2215.2 L513.8,2216.4 L515.5,2214.4 L517.1,2214.8 L518.7,2214.7 L520.3,2217.7 L521.9,2212.5 L523.4,2215.3 L524.9,2215.5 L526.4,2216.8 L527.9,2216.2 L529.3,2214.3 L530.7,2215.3 L532.1,2212.3 L533.5,2215.0 L534.9,2215.5 L536.2,2212.7 L537.5,2212.8 L538.8,2211.9 L540.1,2212.6 L541.4,2214.2 L542.7,2212.7 L543.9,2216.7 L545.1,2217.0 L546.3,2217.5 L547.5,2213.6 L548.7,2212.8 L549.9,2216.3 L551.0,2213.0 L552.2,2216.0 L553.3,2212.4 L554.4,2216.5" fill="none" stroke="#f05a14" stroke-width="2" stroke-linejoin="miter" stroke-miterlimit="4"/><path d="M118.4,2467.7L122.1,2473.8L118.4,2479.9L114.7,2473.8Z" fill="#f05a14"/><path d="M185.9,2451.6L189.6,2457.7L185.9,2463.8L182.2,2457.7Z" fill="#f05a14"/><path d="M253.4,2442.2L257.1,2448.3L253.4,2454.4L249.7,2448.3Z" fill="#f05a14"/><path d="M320.9,2340.2L324.6,2346.3L320.9,2352.4L317.2,2346.3Z" fill="#f05a14"/><path d="M388.4,2222.0L392.1,2228.1L388.4,2234.2L384.7,2228.1Z" fill="#f05a14"/><path d="M455.9,2212.6L459.6,2218.7L455.9,2224.8L452.2,2218.7Z" fill="#f05a14"/><path d="M523.4,2209.2L527.1,2215.3L523.4,2221.4L519.7,2215.3Z" fill="#f05a14"/><path d="M118.4,2546.5 L185.9,2435.5 L225.4,2439.8 L253.4,2389.6 L275.1,2456.8 L292.9,2457.7 L307.9,2452.6 L320.9,2452.6 L332.4,2473.0 L342.6,2415.6 L351.9,2394.3 L360.4,2389.6 L368.2,2280.4 L375.4,2265.5 L382.1,2254.4 L388.4,2254.4 L394.3,2241.2 L399.9,2241.2 L405.1,2236.1 L410.1,2231.5 L414.9,2229.4 L419.4,2229.4 L423.7,2223.1 L427.9,2222.0 L431.9,2221.5 L435.7,2220.3 L439.4,2224.5 L442.9,2219.4 L446.3,2222.7 L449.6,2220.5 L452.8,2219.3 L455.9,2220.2 L458.9,2217.9 L461.8,2217.8 L464.6,2219.8 L467.4,2217.7 L470.0,2215.9 L472.6,2213.7 L475.2,2213.6 L477.6,2215.8 L480.0,2212.0 L482.4,2212.8 L484.7,2213.1 L486.9,2215.5 L489.1,2211.8 L491.2,2211.4 L493.3,2214.6 L495.4,2212.5 L497.4,2211.2 L499.4,2211.1 L501.3,2212.6 L503.2,2212.5 L505.0,2215.6 L506.9,2211.4 L508.6,2212.0 L510.4,2213.1 L512.1,2211.0 L513.8,2211.2 L515.5,2210.3 L517.1,2211.6 L518.7,2212.9 L520.3,2212.4 L521.9,2215.5 L523.4,2213.4 L524.9,2214.2 L526.4,2214.8 L527.9,2215.0 L529.3,2210.7 L530.7,2214.9 L532.1,2213.3 L533.5,2211.6 L534.9,2213.4 L536.2,2211.5 L537.5,2213.7 L538.8,2211.0 L540.1,2211.1 L541.4,2210.2 L542.7,2212.7 L543.9,2213.9 L545.1,2212.7 L546.3,2210.1 L547.5,2214.3 L548.7,2209.3 L549.9,2210.1 L551.0,2209.8 L552.2,2213.7 L553.3,2210.4 L554.4,2213.9 L555.5,2213.2 L556.6,2213.3 L557.7,2208.9 L558.7,2209.8 L559.8,2211.2 L560.8,2211.3 L561.9,2210.6 L562.9,2209.8 L563.9,2212.1 L564.9,2211.9 L565.9,2208.5 L566.9,2212.7 L567.8,2214.0 L568.8,2208.9 L569.7,2208.4 L570.7,2211.4 L571.6,2209.8 L572.5,2213.4 L573.4,2213.6 L574.4,2213.8 L575.3,2213.5 L576.1,2211.3 L577.0,2213.7 L577.9,2209.7 L578.8,2210.9 L579.6,2212.2 L580.5,2209.0 L581.3,2210.6 L582.1,2209.1 L583.0,2213.3 L583.8,2210.2 L584.6,2208.5 L585.4,2210.1 L586.2,2209.0 L587.0,2213.0 L587.8,2211.8 L588.6,2208.7 L589.4,2210.2 L590.1,2211.2 L590.9,2206.0 L591.7,2210.9 L592.4,2208.5 L593.2,2208.0 L593.9,2208.5 L594.6,2211.1 L595.4,2209.0 L596.1,2211.3 L596.8,2207.3 L597.5,2210.1 L598.2,2211.3 L598.9,2207.4 L599.6,2208.7 L600.3,2210.8 L601.0,2210.6 L601.7,2210.8 L602.4,2207.7" fill="none" stroke="#f5a013" stroke-width="2" stroke-linejoin="miter" stroke-miterlimit="4"/><path d="M118.4,2540.4L122.1,2546.5L118.4,2552.6L114.7,2546.5Z" fill="#f5a013"/><path d="M185.9,2429.4L189.6,2435.5L185.9,2441.6L182.2,2435.5Z" fill="#f5a013"/><path d="M253.4,2383.5L257.1,2389.6L253.4,2395.7L249.7,2389.6Z" fill="#f5a013"/><path d="M320.9,2446.5L324.6,2452.6L320.9,2458.7L317.2,2452.6Z" fill="#f5a013"/><path d="M388.4,2248.3L392.1,2254.4L388.4,2260.5L384.7,2254.4Z" fill="#f5a013"/><path d="M455.9,2214.1L459.6,2220.2L455.9,2226.3L452.2,2220.2Z" fill="#f5a013"/><path d="M523.4,2207.3L527.1,2213.4L523.4,2219.5L519.7,2213.4Z" fill="#f5a013"/><path d="M590.9,2199.9L594.6,2206.0L590.9,2212.1L587.2,2206.0Z" fill="#f5a013"/></g><rect x="102.2" y="2196.4" width="115.4" height="145.9" rx="3" ry="3" fill="#fff" fill-opacity="0.8" stroke="#d0d0d0" stroke-width="1.3"/><line x1="110.7" y1="2215.8" x2="159.7" y2="2215.8" stroke="#1f48e6" stroke-width="2"/><text x="177.6" y="2224.1" font-size="23.4">PF</text><line x1="110.7" y1="2250.5" x2="159.7" y2="2250.5" stroke="#9400d3" stroke-width="2"/><text x="177.6" y="2258.8" font-size="23.4">FT</text><line x1="110.7" y1="2285.2" x2="159.7" y2="2285.2" stroke="#f05a14" stroke-width="2"/><text x="177.6" y="2293.5" font-size="23.4">AP</text><line x1="110.7" y1="2319.9" x2="159.7" y2="2319.9" stroke="#f5a013" stroke-width="2"/><text x="177.6" y="2328.2" font-size="23.4">LR</text><rect x="90.5" y="2184.7" width="567.9" height="378.4" fill="none" stroke="#1c1c1c" stroke-width="1.3"/><line x1="85.9" y1="2563.1" x2="90.5" y2="2563.1" stroke="#000" stroke-width="1.3"/><text x="81.4" y="2572.4" font-size="23.6" text-anchor="end">0.1</text><line x1="85.9" y1="2468.5" x2="90.5" y2="2468.5" stroke="#000" stroke-width="1.3"/><text x="81.4" y="2477.8" font-size="23.6" text-anchor="end">0.32</text><line x1="85.9" y1="2373.9" x2="90.5" y2="2373.9" stroke="#000" stroke-width="1.3"/><text x="81.4" y="2383.2" font-size="23.6" text-anchor="end">0.54</text><line x1="85.9" y1="2279.3" x2="90.5" y2="2279.3" stroke="#000" stroke-width="1.3"/><text x="81.4" y="2288.6" font-size="23.6" text-anchor="end">0.77</text><line x1="85.9" y1="2184.7" x2="90.5" y2="2184.7" stroke="#000" stroke-width="1.3"/><text x="81.4" y="2194.0" font-size="23.6" text-anchor="end">0.99</text><line x1="118.4" y1="2563.1" x2="118.4" y2="2567.7" stroke="#000" stroke-width="1.3"/><text x="118.4" y="2584.5" font-size="15.7" text-anchor="middle">100</text><line x1="185.9" y1="2563.1" x2="185.9" y2="2567.7" stroke="#000" stroke-width="1.3"/><text x="185.9" y="2584.5" font-size="15.7" text-anchor="middle">200</text><line x1="253.4" y1="2563.1" x2="253.4" y2="2567.7" stroke="#000" stroke-width="1.3"/><text x="253.4" y="2584.5" font-size="15.7" text-anchor="middle">400</text><line x1="320.9" y1="2563.1" x2="320.9" y2="2567.7" stroke="#000" stroke-width="1.3"/><text x="320.9" y="2584.5" font-size="15.7" text-anchor="middle">800</text><line x1="388.4" y1="2563.1" x2="388.4" y2="2567.7" stroke="#000" stroke-width="1.3"/><text x="388.4" y="2584.5" font-size="15.7" text-anchor="middle">1600</text><line x1="455.9" y1="2563.1" x2="455.9" y2="2567.7" stroke="#000" stroke-width="1.3"/><text x="455.9" y="2584.5" font-size="15.7" text-anchor="middle">3200</text><line x1="523.4" y1="2563.1" x2="523.4" y2="2567.7" stroke="#000" stroke-width="1.3"/><text x="523.4" y="2584.5" font-size="15.7" text-anchor="middle">6400</text><line x1="590.9" y1="2563.1" x2="590.9" y2="2567.7" stroke="#000" stroke-width="1.3"/><text x="590.9" y="2584.5" font-size="15.7" text-anchor="middle">12800</text><line x1="658.4" y1="2563.1" x2="658.4" y2="2567.7" stroke="#000" stroke-width="1.3"/><text x="658.4" y="2584.5" font-size="15.7" text-anchor="middle">25600</text><text x="374.4" y="2611.3" font-size="24" text-anchor="middle">steps</text><text transform="translate(19.2,2373.9) rotate(-90)" font-size="23.8" text-anchor="middle">Classification-F1</text><text x="374.4" y="2176.5" font-size="28.5" text-anchor="middle">paws</text></g>
<g><clipPath id="c13"><rect x="832.9" y="2184.7" width="567.9" height="378.4"/></clipPath><line x1="832.9" y1="2468.5" x2="1400.8" y2="2468.5" stroke="#b0b0b0" stroke-width="1.1" stroke-dasharray="2.6,0.9"/><line x1="832.9" y1="2373.9" x2="1400.8" y2="2373.9" stroke="#b0b0b0" stroke-width="1.1" stroke-dasharray="2.6,0.9"/><line x1="832.9" y1="2279.3" x2="1400.8" y2="2279.3" stroke="#b0b0b0" stroke-width="1.1" stroke-dasharray="2.6,0.9"/><g clip-path="url(#c13)"><path d="M860.8,2546.4 L928.3,2455.1 L967.8,2409.5 L995.8,2419.5 L1017.5,2398.4 L1035.3,2419.5 L1050.3,2386.1 L1063.3,2386.1 L1074.8,2386.1 L1085.0,2398.4 L1094.3,2398.4 L1102.8,2373.9 L1110.6,2362.8 L1117.8,2362.8 L1124.5,2362.8 L1130.8,2351.6 L1136.7,2362.8 L1142.3,2373.9 L1147.5,2362.8 L1152.5,2373.9 L1157.3,2362.8 L1161.8,2373.9 L1166.1,2379.5 L1170.3,2386.1 L1174.3,2351.6 L1178.1,2373.9 L1181.8,2379.5 L1185.3,2386.1 L1188.7,2379.5 L1192.0,2373.9 L1195.2,2368.3 L1198.3,2362.8 L1201.3,2362.1 L1204.2,2373.9 L1207.0,2350.3 L1209.8,2362.1 L1212.4,2350.3 L1215.0,2373.9 L1217.6,2362.1 L1220.0,2350.3 L1222.4,2338.5 L1224.8,2338.5 L1227.1,2350.3 L1229.3,2350.3 L1231.5,2350.3 L1233.6,2338.5 L1235.7,2326.7 L1237.8,2350.3 L1239.8,2326.7 L1241.8,2338.5 L1243.7,2350.3 L1245.6,2326.7 L1247.4,2350.3 L1249.3,2338.5 L1251.0,2338.5 L1252.8,2338.5 L1254.5,2350.3 L1256.2,2326.7 L1257.9,2326.7 L1259.5,2326.7 L1261.1,2326.7 L1262.7,2326.7 L1264.3,2326.7 L1265.8,2326.7 L1267.3,2338.5 L1268.8,2350.3 L1270.3,2338.5 L1271.7,2338.5 L1273.1,2326.7 L1274.5,2314.9 L1275.9,2338.5 L1277.3,2338.5 L1278.6,2338.5 L1279.9,2326.7 L1281.2,2326.7 L1282.5,2326.7 L1283.8,2338.5 L1285.1,2314.9 L1286.3,2350.3 L1287.5,2338.5 L1288.7,2350.3 L1289.9,2338.5 L1291.1,2326.7 L1292.3,2326.7 L1293.4,2338.5 L1294.6,2338.5 L1295.7,2326.7 L1296.8,2326.7 L1297.9,2350.3 L1299.0,2326.7 L1300.1,2338.5 L1301.1,2338.5 L1302.2,2326.7 L1303.2,2338.5 L1304.3,2326.7 L1305.3,2350.3 L1306.3,2326.7 L1307.3,2314.9 L1308.3,2326.7 L1309.3,2338.5 L1310.2,2314.9 L1311.2,2314.9 L1312.1,2314.9 L1313.1,2326.7 L1314.0,2338.5 L1314.9,2338.5 L1315.8,2314.9 L1316.8,2338.5 L1317.7,2338.5 L1318.5,2326.7 L1319.4,2338.5 L1320.3,2314.9 L1321.2,2326.7 L1322.0,2338.5 L1322.9,2326.7 L1323.7,2326.7 L1324.5,2350.3 L1325.4,2326.7 L1326.2,2326.7 L1327.0,2350.3 L1327.8,2314.9 L1328.6,2314.9 L1329.4,2338.5 L1330.2,2314.9 L1331.0,2314.9 L1331.8,2350.3 L1332.5,2350.3 L1333.3,2326.7 L1334.1,2338.5 L1334.8,2291.3 L1335.6,2338.5 L1336.3,2338.5 L1337.0,2350.3 L1337.8,2338.5 L1338.5,2338.5 L1339.2,2338.5 L1339.9,2350.3 L1340.6,2314.9 L1341.3,2326.7 L1342.0,2314.9 L1342.7,2326.7 L1343.4,2326.7 L1344.1,2338.5 L1344.8,2338.5 L1345.4,2314.9 L1346.1,2338.5 L1346.8,2338.5 L1347.4,2326.7 L1348.1,2314.9 L1348.7,2338.5 L1349.4,2338.5 L1350.0,2350.3 L1350.7,2314.9 L1351.3,2314.9 L1351.9,2326.7 L1352.6,2326.7 L1353.2,2350.3 L1353.8,2314.9 L1354.4,2326.7 L1355.0,2326.7" fill="none" stroke="#1f48e6" stroke-width="2" stroke-linejoin="miter" stroke-miterlimit="4"/><path d="M860.8,2540.3L864.5,2546.4L860.8,2552.5L857.1,2546.4Z" fill="#1f48e6"/><path d="M928.3,2449.0L932.0,2455.1L928.3,2461.2L924.6,2455.1Z" fill="#1f48e6"/><path d="M995.8,2413.4L999.5,2419.5L995.8,2425.6L992.1,2419.5Z" fill="#1f48e6"/><path d="M1063.3,2380.0L1067.0,2386.1L1063.3,2392.2L1059.6,2386.1Z" fill="#1f48e6"/><path d="M1130.8,2345.5L1134.5,2351.6L1130.8,2357.7L1127.1,2351.6Z" fill="#1f48e6"/><path d="M1198.3,2356.7L1202.0,2362.8L1198.3,2368.9L1194.6,2362.8Z" fill="#1f48e6"/><path d="M1265.8,2320.6L1269.5,2326.7L1265.8,2332.8L1262.1,2326.7Z" fill="#1f48e6"/><path d="M1333.3,2320.6L1337.0,2326.7L1333.3,2332.8L1329.6,2326.7Z" fill="#1f48e6"/><path d="M860.8,2397.3 L928.3,2340.5 L967.8,2351.6 L995.8,2328.3 L1017.5,2317.1 L1035.3,2304.9 L1050.3,2294.9 L1063.3,2306.0 L1074.8,2306.0 L1085.0,2306.0 L1094.3,2281.5 L1102.8,2293.8 L1110.6,2281.5 L1117.8,2304.9 L1124.5,2271.5 L1130.8,2270.4 L1136.7,2281.5 L1142.3,2260.4 L1147.5,2271.5 L1152.5,2271.5 L1157.3,2265.9 L1161.8,2260.4 L1166.1,2264.8 L1170.3,2268.2 L1174.3,2260.4 L1178.1,2270.4 L1181.8,2271.5 L1185.3,2260.4 L1188.7,2251.5 L1192.0,2238.1 L1195.2,2260.4 L1198.3,2248.1 L1201.3,2244.1 L1204.2,2244.1 L1207.0,2255.9 L1209.8,2255.9 L1212.4,2255.9 L1215.0,2244.1 L1217.6,2255.9 L1220.0,2255.9 L1222.4,2255.9 L1224.8,2244.1 L1227.1,2232.3 L1229.3,2244.1 L1231.5,2255.9 L1233.6,2255.9 L1235.7,2255.9 L1237.8,2255.9 L1239.8,2255.9 L1241.8,2232.3 L1243.7,2244.1 L1245.6,2232.3 L1247.4,2232.3 L1249.3,2255.9 L1251.0,2255.9 L1252.8,2232.3 L1254.5,2255.9 L1256.2,2244.1 L1257.9,2232.3 L1259.5,2244.1 L1261.1,2232.3 L1262.7,2232.3 L1264.3,2232.3 L1265.8,2244.1 L1267.3,2244.1 L1268.8,2244.1 L1270.3,2255.9 L1271.7,2255.9 L1273.1,2244.1 L1274.5,2244.1 L1275.9,2232.3 L1277.3,2244.1 L1278.6,2244.1 L1279.9,2244.1 L1281.2,2244.1 L1282.5,2244.1 L1283.8,2232.3 L1285.1,2244.1 L1286.3,2244.1 L1287.5,2244.1 L1288.7,2232.3 L1289.9,2220.5 L1291.1,2220.5 L1292.3,2220.5 L1293.4,2232.3 L1294.6,2232.3 L1295.7,2232.3 L1296.8,2244.1 L1297.9,2232.3 L1299.0,2220.5 L1300.1,2232.3 L1301.1,2220.5 L1302.2,2220.5 L1303.2,2232.3 L1304.3,2232.3 L1305.3,2208.7 L1306.3,2208.7 L1307.3,2220.5 L1308.3,2208.7 L1309.3,2208.7 L1310.2,2220.5 L1311.2,2208.7 L1312.1,2208.7 L1313.1,2208.7 L1314.0,2208.7 L1314.9,2232.3 L1315.8,2220.5 L1316.8,2232.3 L1317.7,2208.7 L1318.5,2232.3 L1319.4,2208.7 L1320.3,2208.7 L1321.2,2232.3 L1322.0,2232.3 L1322.9,2220.5 L1323.7,2208.7 L1324.5,2208.7 L1325.4,2208.7 L1326.2,2208.7 L1327.0,2220.5 L1327.8,2208.7 L1328.6,2220.5 L1329.4,2220.5 L1330.2,2208.7 L1331.0,2232.3" fill="none" stroke="#9400d3" stroke-width="2" stroke-linejoin="miter" stroke-miterlimit="4"/><path d="M860.8,2391.2L864.5,2397.3L860.8,2403.4L857.1,2397.3Z" fill="#9400d3"/><path d="M928.3,2334.4L932.0,2340.5L928.3,2346.6L924.6,2340.5Z" fill="#9400d3"/><path d="M995.8,2322.2L999.5,2328.3L995.8,2334.4L992.1,2328.3Z" fill="#9400d3"/><path d="M1063.3,2299.9L1067.0,2306.0L1063.3,2312.1L1059.6,2306.0Z" fill="#9400d3"/><path d="M1130.8,2264.3L1134.5,2270.4L1130.8,2276.5L1127.1,2270.4Z" fill="#9400d3"/><path d="M1198.3,2242.0L1202.0,2248.1L1198.3,2254.2L1194.6,2248.1Z" fill="#9400d3"/><path d="M1265.8,2238.0L1269.5,2244.1L1265.8,2250.2L1262.1,2244.1Z" fill="#9400d3"/><path d="M860.8,2477.4 L928.3,2455.1 L967.8,2431.8 L995.8,2373.9 L1017.5,2373.9 L1035.3,2386.1 L1050.3,2386.1 L1063.3,2373.9 L1074.8,2373.9 L1085.0,2373.9 L1094.3,2351.6 L1102.8,2362.8 L1110.6,2340.5 L1117.8,2351.6 L1124.5,2351.6 L1130.8,2351.6 L1136.7,2340.5 L1142.3,2351.6 L1147.5,2340.5 L1152.5,2340.5 L1157.3,2346.1 L1161.8,2351.6 L1166.1,2340.5 L1170.3,2328.3 L1174.3,2334.9 L1178.1,2340.5 L1181.8,2351.6 L1185.3,2362.8 L1188.7,2351.6 L1192.0,2340.5 L1195.2,2338.3 L1198.3,2340.5 L1201.3,2373.9 L1204.2,2326.7 L1207.0,2350.3 L1209.8,2338.5 L1212.4,2338.5 L1215.0,2326.7 L1217.6,2326.7 L1220.0,2326.7 L1222.4,2314.9 L1224.8,2326.7 L1227.1,2314.9 L1229.3,2338.5 L1231.5,2314.9 L1233.6,2303.1 L1235.7,2314.9 L1237.8,2326.7 L1239.8,2303.1 L1241.8,2303.1 L1243.7,2326.7 L1245.6,2314.9 L1247.4,2314.9 L1249.3,2326.7 L1251.0,2314.9 L1252.8,2314.9 L1254.5,2326.7 L1256.2,2303.1 L1257.9,2303.1 L1259.5,2303.1 L1261.1,2303.1 L1262.7,2303.1 L1264.3,2303.1 L1265.8,2303.1 L1267.3,2303.1 L1268.8,2303.1 L1270.3,2314.9 L1271.7,2314.9 L1273.1,2291.3 L1274.5,2303.1 L1275.9,2314.9 L1277.3,2314.9 L1278.6,2303.1 L1279.9,2314.9 L1281.2,2314.9 L1282.5,2303.1 L1283.8,2314.9 L1285.1,2291.3 L1286.3,2314.9 L1287.5,2291.3 L1288.7,2303.1 L1289.9,2314.9 L1291.1,2291.3 L1292.3,2314.9 L1293.4,2314.9 L1294.6,2303.1 L1295.7,2303.1 L1296.8,2303.1 L1297.9,2291.3 L1299.0,2314.9 L1300.1,2303.1 L1301.1,2291.3 L1302.2,2291.3 L1303.2,2303.1 L1304.3,2303.1 L1305.3,2279.5 L1306.3,2314.9 L1307.3,2291.3" fill="none" stroke="#f05a14" stroke-width="2" stroke-linejoin="miter" stroke-miterlimit="4"/><path d="M860.8,2471.3L864.5,2477.4L860.8,2483.5L857.1,2477.4Z" fill="#f05a14"/><path d="M928.3,2449.0L932.0,2455.1L928.3,2461.2L924.6,2455.1Z" fill="#f05a14"/><path d="M995.8,2367.8L999.5,2373.9L995.8,2380.0L992.1,2373.9Z" fill="#f05a14"/><path d="M1063.3,2367.8L1067.0,2373.9L1063.3,2380.0L1059.6,2373.9Z" fill="#f05a14"/><path d="M1130.8,2345.5L1134.5,2351.6L1130.8,2357.7L1127.1,2351.6Z" fill="#f05a14"/><path d="M1198.3,2334.4L1202.0,2340.5L1198.3,2346.6L1194.6,2340.5Z" fill="#f05a14"/><path d="M1265.8,2297.0L1269.5,2303.1L1265.8,2309.2L1262.1,2303.1Z" fill="#f05a14"/><path d="M860.8,2409.5 L928.3,2373.9 L967.8,2373.9 L995.8,2362.8 L1017.5,2362.8 L1035.3,2362.8 L1050.3,2373.9 L1063.3,2340.5 L1074.8,2351.6 L1085.0,2340.5 L1094.3,2340.5 L1102.8,2340.5 L1110.6,2328.3 L1117.8,2328.3 L1124.5,2328.3 L1130.8,2328.3 L1136.7,2340.5 L1142.3,2328.3 L1147.5,2317.1 L1152.5,2328.3 L1157.3,2340.5 L1161.8,2328.3 L1166.1,2322.7 L1170.3,2317.1 L1174.3,2322.7 L1178.1,2328.3 L1181.8,2322.7 L1185.3,2317.1 L1188.7,2312.7 L1192.0,2306.0 L1195.2,2306.0 L1198.3,2306.0 L1201.3,2303.1 L1204.2,2303.1 L1207.0,2291.3 L1209.8,2291.3 L1212.4,2291.3 L1215.0,2314.9 L1217.6,2303.1 L1220.0,2303.1 L1222.4,2303.1 L1224.8,2314.9 L1227.1,2303.1 L1229.3,2303.1 L1231.5,2291.3 L1233.6,2291.3 L1235.7,2303.1 L1237.8,2291.3 L1239.8,2303.1 L1241.8,2303.1 L1243.7,2314.9 L1245.6,2303.1 L1247.4,2291.3 L1249.3,2291.3 L1251.0,2291.3 L1252.8,2291.3 L1254.5,2303.1 L1256.2,2291.3 L1257.9,2303.1 L1259.5,2303.1 L1261.1,2303.1 L1262.7,2291.3 L1264.3,2303.1 L1265.8,2303.1 L1267.3,2303.1 L1268.8,2314.9 L1270.3,2303.1 L1271.7,2291.3 L1273.1,2303.1 L1274.5,2303.1 L1275.9,2291.3 L1277.3,2291.3 L1278.6,2303.1 L1279.9,2303.1 L1281.2,2303.1 L1282.5,2291.3 L1283.8,2303.1 L1285.1,2303.1 L1286.3,2303.1 L1287.5,2303.1 L1288.7,2303.1 L1289.9,2303.1 L1291.1,2291.3 L1292.3,2291.3 L1293.4,2291.3 L1294.6,2291.3 L1295.7,2291.3 L1296.8,2303.1 L1297.9,2279.5 L1299.0,2279.5 L1300.1,2303.1 L1301.1,2291.3 L1302.2,2291.3 L1303.2,2291.3 L1304.3,2303.1 L1305.3,2291.3 L1306.3,2303.1 L1307.3,2303.1" fill="none" stroke="#f5a013" stroke-width="2" stroke-linejoin="miter" stroke-miterlimit="4"/><path d="M860.8,2403.4L864.5,2409.5L860.8,2415.6L857.1,2409.5Z" fill="#f5a013"/><path d="M928.3,2367.8L932.0,2373.9L928.3,2380.0L924.6,2373.9Z" fill="#f5a013"/><path d="M995.8,2356.7L999.5,2362.8L995.8,2368.9L992.1,2362.8Z" fill="#f5a013"/><path d="M1063.3,2334.4L1067.0,2340.5L1063.3,2346.6L1059.6,2340.5Z" fill="#f5a013"/><path d="M1130.8,2322.2L1134.5,2328.3L1130.8,2334.4L1127.1,2328.3Z" fill="#f5a013"/><path d="M1198.3,2299.9L1202.0,2306.0L1198.3,2312.1L1194.6,2306.0Z" fill="#f5a013"/><path d="M1265.8,2297.0L1269.5,2303.1L1265.8,2309.2L1262.1,2303.1Z" fill="#f5a013"/></g><rect x="1273.3" y="2405.2" width="115.4" height="145.9" rx="3" ry="3" fill="#fff" fill-opacity="0.8" stroke="#d0d0d0" stroke-width="1.3"/><line x1="1281.8" y1="2424.6" x2="1330.8" y2="2424.6" stroke="#1f48e6" stroke-width="2"/><text x="1348.7" y="2432.9" font-size="23.4">PF</text><line x1="1281.8" y1="2459.3" x2="1330.8" y2="2459.3" stroke="#9400d3" stroke-width="2"/><text x="1348.7" y="2467.6" font-size="23.4">FT</text><line x1="1281.8" y1="2494.0" x2="1330.8" y2="2494.0" stroke="#f05a14" stroke-width="2"/><text x="1348.7" y="2502.3" font-size="23.4">AP</text><line x1="1281.8" y1="2528.7" x2="1330.8" y2="2528.7" stroke="#f5a013" stroke-width="2"/><text x="1348.7" y="2537.0" font-size="23.4">LR</text><rect x="832.9" y="2184.7" width="567.9" height="378.4" fill="none" stroke="#1c1c1c" stroke-width="1.3"/><line x1="828.3" y1="2563.1" x2="832.9" y2="2563.1" stroke="#000" stroke-width="1.3"/><text x="823.8" y="2572.4" font-size="23.6" text-anchor="end">0.02</text><line x1="828.3" y1="2468.5" x2="832.9" y2="2468.5" stroke="#000" stroke-width="1.3"/><text x="823.8" y="2477.8" font-size="23.6" text-anchor="end">0.11</text><line x1="828.3" y1="2373.9" x2="832.9" y2="2373.9" stroke="#000" stroke-width="1.3"/><text x="823.8" y="2383.2" font-size="23.6" text-anchor="end">0.19</text><line x1="828.3" y1="2279.3" x2="832.9" y2="2279.3" stroke="#000" stroke-width="1.3"/><text x="823.8" y="2288.6" font-size="23.6" text-anchor="end">0.27</text><line x1="828.3" y1="2184.7" x2="832.9" y2="2184.7" stroke="#000" stroke-width="1.3"/><text x="823.8" y="2194.0" font-size="23.6" text-anchor="end">0.36</text><line x1="860.8" y1="2563.1" x2="860.8" y2="2567.7" stroke="#000" stroke-width="1.3"/><text x="860.8" y="2584.5" font-size="15.7" text-anchor="middle">100</text><line x1="928.3" y1="2563.1" x2="928.3" y2="2567.7" stroke="#000" stroke-width="1.3"/><text x="928.3" y="2584.5" font-size="15.7" text-anchor="middle">200</text><line x1="995.8" y1="2563.1" x2="995.8" y2="2567.7" stroke="#000" stroke-width="1.3"/><text x="995.8" y="2584.5" font-size="15.7" text-anchor="middle">400</text><line x1="1063.3" y1="2563.1" x2="1063.3" y2="2567.7" stroke="#000" stroke-width="1.3"/><text x="1063.3" y="2584.5" font-size="15.7" text-anchor="middle">800</text><line x1="1130.8" y1="2563.1" x2="1130.8" y2="2567.7" stroke="#000" stroke-width="1.3"/><text x="1130.8" y="2584.5" font-size="15.7" text-anchor="middle">1600</text><line x1="1198.3" y1="2563.1" x2="1198.3" y2="2567.7" stroke="#000" stroke-width="1.3"/><text x="1198.3" y="2584.5" font-size="15.7" text-anchor="middle">3200</text><line x1="1265.8" y1="2563.1" x2="1265.8" y2="2567.7" stroke="#000" stroke-width="1.3"/><text x="1265.8" y="2584.5" font-size="15.7" text-anchor="middle">6400</text><line x1="1333.3" y1="2563.1" x2="1333.3" y2="2567.7" stroke="#000" stroke-width="1.3"/><text x="1333.3" y="2584.5" font-size="15.7" text-anchor="middle">12800</text><line x1="1400.8" y1="2563.1" x2="1400.8" y2="2567.7" stroke="#000" stroke-width="1.3"/><text x="1400.8" y="2584.5" font-size="15.7" text-anchor="middle">25600</text><text x="1116.8" y="2611.3" font-size="24" text-anchor="middle">steps</text><text transform="translate(761.6,2373.9) rotate(-90)" font-size="23.8" text-anchor="middle">EM</text><text x="1116.8" y="2176.5" font-size="28.5" text-anchor="middle">proto_qa</text></g>
<g><clipPath id="c14"><rect x="1575.3" y="2184.7" width="567.9" height="378.4"/></clipPath><line x1="1575.3" y1="2546.4" x2="2143.2" y2="2546.4" stroke="#b0b0b0" stroke-width="1.1" stroke-dasharray="2.6,0.9"/><line x1="1575.3" y1="2456.0" x2="2143.2" y2="2456.0" stroke="#b0b0b0" stroke-width="1.1" stroke-dasharray="2.6,0.9"/><line x1="1575.3" y1="2365.6" x2="2143.2" y2="2365.6" stroke="#b0b0b0" stroke-width="1.1" stroke-dasharray="2.6,0.9"/><line x1="1575.3" y1="2275.1" x2="2143.2" y2="2275.1" stroke="#b0b0b0" stroke-width="1.1" stroke-dasharray="2.6,0.9"/><g clip-path="url(#c14)"><path d="M1603.2,2395.8 L1670.7,2378.2 L1710.2,2369.8 L1738.2,2353.8 L1759.9,2369.8 L1777.7,2344.5 L1792.7,2336.1 L1805.7,2352.9 L1817.2,2336.1 L1827.4,2336.1 L1836.7,2336.1 L1845.2,2336.1 L1853.0,2303.3 L1860.2,2336.1 L1866.9,2311.7 L1873.2,2311.7 L1879.1,2336.1 L1884.7,2303.3 L1889.9,2327.7 L1894.9,2311.7 L1899.7,2303.3 L1904.2,2327.7 L1908.5,2303.3 L1912.7,2310.9 L1916.7,2306.7 L1920.5,2302.5 L1924.2,2299.9 L1927.7,2298.3 L1931.1,2294.1 L1934.4,2294.9 L1937.6,2294.1 L1940.7,2286.5 L1943.7,2284.3 L1946.6,2276.4 L1949.4,2270.2 L1952.2,2284.0 L1954.8,2303.0 L1957.4,2265.6 L1960.0,2267.1 L1962.4,2282.2 L1964.8,2286.9 L1967.2,2281.1 L1969.5,2285.9 L1971.7,2268.9 L1973.9,2272.2 L1976.0,2274.4 L1978.1,2278.0 L1980.2,2278.5 L1982.2,2298.1 L1984.2,2289.5 L1986.1,2295.1 L1988.0,2262.0 L1989.8,2294.1 L1991.7,2282.3 L1993.4,2285.7 L1995.2,2280.3 L1996.9,2287.2 L1998.6,2265.6 L2000.3,2291.9 L2001.9,2265.8 L2003.5,2252.4 L2005.1,2267.3 L2006.7,2288.0 L2008.2,2268.8 L2009.7,2261.1 L2011.2,2273.6 L2012.7,2272.7 L2014.1,2277.9" fill="none" stroke="#1f48e6" stroke-width="2" stroke-linejoin="miter" stroke-miterlimit="4"/><path d="M1603.2,2389.7L1606.9,2395.8L1603.2,2401.9L1599.5,2395.8Z" fill="#1f48e6"/><path d="M1670.7,2372.1L1674.4,2378.2L1670.7,2384.3L1667.0,2378.2Z" fill="#1f48e6"/><path d="M1738.2,2347.7L1741.9,2353.8L1738.2,2359.9L1734.5,2353.8Z" fill="#1f48e6"/><path d="M1805.7,2346.8L1809.4,2352.9L1805.7,2359.0L1802.0,2352.9Z" fill="#1f48e6"/><path d="M1873.2,2305.6L1876.9,2311.7L1873.2,2317.8L1869.5,2311.7Z" fill="#1f48e6"/><path d="M1940.7,2280.4L1944.4,2286.5L1940.7,2292.6L1937.0,2286.5Z" fill="#1f48e6"/><path d="M2008.2,2262.7L2011.9,2268.8L2008.2,2274.9L2004.5,2268.8Z" fill="#1f48e6"/><path d="M1603.2,2387.4 L1670.7,2362.2 L1710.2,2369.8 L1738.2,2344.5 L1759.9,2352.9 L1777.7,2327.7 L1792.7,2303.3 L1805.7,2320.1 L1817.2,2320.1 L1827.4,2286.5 L1836.7,2317.6 L1845.2,2278.9 L1853.0,2278.9 L1860.2,2278.9 L1866.9,2278.9 L1873.2,2270.5 L1879.1,2252.8 L1884.7,2261.2 L1889.9,2270.5 L1894.9,2261.2 L1899.7,2261.2 L1904.2,2236.0 L1908.5,2256.2 L1912.7,2261.2 L1916.7,2250.3 L1920.5,2244.4 L1924.2,2256.2 L1927.7,2257.9 L1931.1,2252.0 L1934.4,2236.0 L1937.6,2247.8 L1940.7,2244.4 L1943.7,2231.6 L1946.6,2246.8 L1949.4,2252.3 L1952.2,2227.2 L1954.8,2230.7 L1957.4,2234.3 L1960.0,2225.0 L1962.4,2231.6 L1964.8,2248.5 L1967.2,2227.3 L1969.5,2231.6 L1971.7,2224.0 L1973.9,2241.4 L1976.0,2220.3 L1978.1,2227.3 L1980.2,2239.4 L1982.2,2232.0 L1984.2,2246.5 L1986.1,2238.6 L1988.0,2225.6 L1989.8,2237.7 L1991.7,2237.5 L1993.4,2219.9 L1995.2,2220.3 L1996.9,2226.8 L1998.6,2233.7 L2000.3,2222.5 L2001.9,2219.1 L2003.5,2243.1 L2005.1,2242.0 L2006.7,2243.5 L2008.2,2236.0 L2009.7,2232.2 L2011.2,2234.1 L2012.7,2238.0 L2014.1,2218.4 L2015.5,2236.1 L2016.9,2219.4 L2018.3,2236.0 L2019.7,2219.4 L2021.0,2227.0 L2022.3,2221.3 L2023.6,2219.9 L2024.9,2229.6 L2026.2,2219.8 L2027.5,2228.7 L2028.7,2210.2 L2029.9,2230.3 L2031.1,2208.8 L2032.3,2226.2 L2033.5,2213.8 L2034.7,2234.9 L2035.8,2228.7 L2037.0,2226.3 L2038.1,2209.8 L2039.2,2212.8 L2040.3,2219.7 L2041.4,2208.6 L2042.5,2208.9 L2043.5,2227.4 L2044.6,2226.6 L2045.6,2232.4 L2046.7,2218.1 L2047.7,2233.3 L2048.7,2208.2 L2049.7,2223.4 L2050.7,2228.7 L2051.7,2207.6 L2052.6,2211.9 L2053.6,2217.0 L2054.5,2216.1 L2055.5,2231.1 L2056.4,2221.5 L2057.3,2229.3 L2058.2,2217.8 L2059.2,2232.2 L2060.1,2218.5 L2060.9,2224.9 L2061.8,2222.5 L2062.7,2206.3 L2063.6,2220.5 L2064.4,2211.6 L2065.3,2233.3 L2066.1,2220.2 L2066.9,2219.3 L2067.8,2225.8 L2068.6,2206.5 L2069.4,2212.4 L2070.2,2208.4 L2071.0,2222.9 L2071.8,2230.7 L2072.6,2225.2 L2073.4,2226.6 L2074.2,2228.2 L2074.9,2206.4 L2075.7,2218.3 L2076.5,2231.7 L2077.2,2216.0" fill="none" stroke="#9400d3" stroke-width="2" stroke-linejoin="miter" stroke-miterlimit="4"/><path d="M1603.2,2381.3L1606.9,2387.4L1603.2,2393.5L1599.5,2387.4Z" fill="#9400d3"/><path d="M1670.7,2356.1L1674.4,2362.2L1670.7,2368.3L1667.0,2362.2Z" fill="#9400d3"/><path d="M1738.2,2338.4L1741.9,2344.5L1738.2,2350.6L1734.5,2344.5Z" fill="#9400d3"/><path d="M1805.7,2314.0L1809.4,2320.1L1805.7,2326.2L1802.0,2320.1Z" fill="#9400d3"/><path d="M1873.2,2264.4L1876.9,2270.5L1873.2,2276.6L1869.5,2270.5Z" fill="#9400d3"/><path d="M1940.7,2238.3L1944.4,2244.4L1940.7,2250.5L1937.0,2244.4Z" fill="#9400d3"/><path d="M2008.2,2229.9L2011.9,2236.0L2008.2,2242.1L2004.5,2236.0Z" fill="#9400d3"/><path d="M2075.7,2212.2L2079.4,2218.3L2075.7,2224.4L2072.0,2218.3Z" fill="#9400d3"/><path d="M1603.2,2546.4 L1670.7,2387.4 L1710.2,2378.2 L1738.2,2387.4 L1759.9,2378.2 L1777.7,2369.8 L1792.7,2369.8 L1805.7,2369.8 L1817.2,2369.8 L1827.4,2362.2 L1836.7,2362.2 L1845.2,2344.5 L1853.0,2344.5 L1860.2,2344.5 L1866.9,2344.5 L1873.2,2336.1 L1879.1,2344.5 L1884.7,2336.1 L1889.9,2352.9 L1894.9,2336.1 L1899.7,2336.1 L1904.2,2328.5 L1908.5,2330.2 L1912.7,2327.7 L1916.7,2326.0 L1920.5,2320.1 L1924.2,2323.5 L1927.7,2327.7 L1931.1,2326.0 L1934.4,2320.1 L1937.6,2323.5 L1940.7,2327.7 L1943.7,2315.2 L1946.6,2334.0 L1949.4,2328.7 L1952.2,2314.5 L1954.8,2312.4 L1957.4,2318.4 L1960.0,2316.6 L1962.4,2310.2 L1964.8,2305.7 L1967.2,2306.2 L1969.5,2306.4 L1971.7,2311.6 L1973.9,2314.5 L1976.0,2305.7 L1978.1,2299.1 L1980.2,2300.7 L1982.2,2298.0 L1984.2,2297.5 L1986.1,2304.8 L1988.0,2298.5 L1989.8,2299.4 L1991.7,2296.5 L1993.4,2304.3 L1995.2,2304.1 L1996.9,2300.2 L1998.6,2288.5 L2000.3,2299.4 L2001.9,2297.1 L2003.5,2283.5 L2005.1,2295.9 L2006.7,2290.6 L2008.2,2291.3 L2009.7,2301.3 L2011.2,2292.5 L2012.7,2292.3 L2014.1,2290.8 L2015.5,2295.2 L2016.9,2291.2 L2018.3,2301.4 L2019.7,2286.3 L2021.0,2301.2 L2022.3,2292.2 L2023.6,2288.8 L2024.9,2293.0 L2026.2,2283.8 L2027.5,2302.4 L2028.7,2289.4 L2029.9,2294.8 L2031.1,2295.8 L2032.3,2294.1 L2033.5,2285.2 L2034.7,2303.0 L2035.8,2295.4 L2037.0,2294.5 L2038.1,2299.7 L2039.2,2286.5 L2040.3,2290.3 L2041.4,2299.2 L2042.5,2293.5 L2043.5,2289.3 L2044.6,2302.1 L2045.6,2298.0 L2046.7,2291.6 L2047.7,2288.0 L2048.7,2302.4 L2049.7,2303.9 L2050.7,2295.8 L2051.7,2291.7 L2052.6,2287.4 L2053.6,2296.0 L2054.5,2286.3 L2055.5,2299.6 L2056.4,2297.5 L2057.3,2302.3 L2058.2,2294.2 L2059.2,2293.3 L2060.1,2299.6 L2060.9,2293.9 L2061.8,2291.6 L2062.7,2303.5 L2063.6,2290.8 L2064.4,2304.4 L2065.3,2290.9 L2066.1,2303.1 L2066.9,2296.9 L2067.8,2288.7 L2068.6,2283.5 L2069.4,2299.7 L2070.2,2284.1 L2071.0,2286.5 L2071.8,2286.2 L2072.6,2300.2 L2073.4,2290.5 L2074.2,2305.0 L2074.9,2289.7 L2075.7,2286.5 L2076.5,2300.4 L2077.2,2293.3" fill="none" stroke="#f05a14" stroke-width="2" stroke-linejoin="miter" stroke-miterlimit="4"/><path d="M1603.2,2540.3L1606.9,2546.4L1603.2,2552.5L1599.5,2546.4Z" fill="#f05a14"/><path d="M1670.7,2381.3L1674.4,2387.4L1670.7,2393.5L1667.0,2387.4Z" fill="#f05a14"/><path d="M1738.2,2381.3L1741.9,2387.4L1738.2,2393.5L1734.5,2387.4Z" fill="#f05a14"/><path d="M1805.7,2363.7L1809.4,2369.8L1805.7,2375.9L1802.0,2369.8Z" fill="#f05a14"/><path d="M1873.2,2330.0L1876.9,2336.1L1873.2,2342.2L1869.5,2336.1Z" fill="#f05a14"/><path d="M1940.7,2321.6L1944.4,2327.7L1940.7,2333.8L1937.0,2327.7Z" fill="#f05a14"/><path d="M2008.2,2285.2L2011.9,2291.3L2008.2,2297.4L2004.5,2291.3Z" fill="#f05a14"/><path d="M2075.7,2280.4L2079.4,2286.5L2075.7,2292.6L2072.0,2286.5Z" fill="#f05a14"/><path d="M1603.2,2345.4 L1670.7,2352.9 L1710.2,2327.7 L1738.2,2303.3 L1759.9,2303.3 L1777.7,2311.7 L1792.7,2311.7 L1805.7,2303.3 L1817.2,2286.5 L1827.4,2286.5 L1836.7,2303.3 L1845.2,2260.4 L1853.0,2278.9 L1860.2,2252.8 L1866.9,2278.9 L1873.2,2252.8 L1879.1,2294.1 L1884.7,2261.2 L1889.9,2278.9 L1894.9,2270.5 L1899.7,2252.8 L1904.2,2294.1 L1908.5,2256.2 L1912.7,2283.1 L1916.7,2249.5 L1920.5,2285.6 L1924.2,2264.6 L1927.7,2260.4 L1931.1,2273.0 L1934.4,2252.8 L1937.6,2285.6 L1940.7,2278.9 L1943.7,2283.8 L1946.6,2247.3 L1949.4,2274.7 L1952.2,2251.5 L1954.8,2270.9 L1957.4,2292.8 L1960.0,2270.1 L1962.4,2253.0 L1964.8,2271.0 L1967.2,2259.5 L1969.5,2262.8 L1971.7,2289.6 L1973.9,2253.3 L1976.0,2269.2 L1978.1,2250.9 L1980.2,2288.3 L1982.2,2271.7 L1984.2,2263.8 L1986.1,2254.9 L1988.0,2267.2 L1989.8,2260.6 L1991.7,2277.3 L1993.4,2275.6 L1995.2,2252.1 L1996.9,2272.4 L1998.6,2252.6 L2000.3,2284.6 L2001.9,2261.6" fill="none" stroke="#f5a013" stroke-width="2" stroke-linejoin="miter" stroke-miterlimit="4"/><path d="M1603.2,2339.3L1606.9,2345.4L1603.2,2351.5L1599.5,2345.4Z" fill="#f5a013"/><path d="M1670.7,2346.8L1674.4,2352.9L1670.7,2359.0L1667.0,2352.9Z" fill="#f5a013"/><path d="M1738.2,2297.2L1741.9,2303.3L1738.2,2309.4L1734.5,2303.3Z" fill="#f5a013"/><path d="M1805.7,2297.2L1809.4,2303.3L1805.7,2309.4L1802.0,2303.3Z" fill="#f5a013"/><path d="M1873.2,2246.7L1876.9,2252.8L1873.2,2258.9L1869.5,2252.8Z" fill="#f5a013"/><path d="M1940.7,2272.8L1944.4,2278.9L1940.7,2285.0L1937.0,2278.9Z" fill="#f5a013"/></g><rect x="1587.0" y="2196.4" width="115.4" height="145.9" rx="3" ry="3" fill="#fff" fill-opacity="0.8" stroke="#d0d0d0" stroke-width="1.3"/><line x1="1595.5" y1="2215.8" x2="1644.5" y2="2215.8" stroke="#1f48e6" stroke-width="2"/><text x="1662.4" y="2224.1" font-size="23.4">PF</text><line x1="1595.5" y1="2250.5" x2="1644.5" y2="2250.5" stroke="#9400d3" stroke-width="2"/><text x="1662.4" y="2258.8" font-size="23.4">FT</text><line x1="1595.5" y1="2285.2" x2="1644.5" y2="2285.2" stroke="#f05a14" stroke-width="2"/><text x="1662.4" y="2293.5" font-size="23.4">AP</text><line x1="1595.5" y1="2319.9" x2="1644.5" y2="2319.9" stroke="#f5a013" stroke-width="2"/><text x="1662.4" y="2328.2" font-size="23.4">LR</text><rect x="1575.3" y="2184.7" width="567.9" height="378.4" fill="none" stroke="#1c1c1c" stroke-width="1.3"/><line x1="1570.7" y1="2546.4" x2="1575.3" y2="2546.4" stroke="#000" stroke-width="1.3"/><text x="1566.2" y="2555.7" font-size="23.6" text-anchor="end">0.0</text><line x1="1570.7" y1="2456.0" x2="1575.3" y2="2456.0" stroke="#000" stroke-width="1.3"/><text x="1566.2" y="2465.3" font-size="23.6" text-anchor="end">0.11</text><line x1="1570.7" y1="2365.6" x2="1575.3" y2="2365.6" stroke="#000" stroke-width="1.3"/><text x="1566.2" y="2374.9" font-size="23.6" text-anchor="end">0.22</text><line x1="1570.7" y1="2275.1" x2="1575.3" y2="2275.1" stroke="#000" stroke-width="1.3"/><text x="1566.2" y="2284.4" font-size="23.6" text-anchor="end">0.32</text><line x1="1570.7" y1="2184.7" x2="1575.3" y2="2184.7" stroke="#000" stroke-width="1.3"/><text x="1566.2" y="2194.0" font-size="23.6" text-anchor="end">0.43</text><line x1="1603.2" y1="2563.1" x2="1603.2" y2="2567.7" stroke="#000" stroke-width="1.3"/><text x="1603.2" y="2584.5" font-size="15.7" text-anchor="middle">100</text><line x1="1670.7" y1="2563.1" x2="1670.7" y2="2567.7" stroke="#000" stroke-width="1.3"/><text x="1670.7" y="2584.5" font-size="15.7" text-anchor="middle">200</text><line x1="1738.2" y1="2563.1" x2="1738.2" y2="2567.7" stroke="#000" stroke-width="1.3"/><text x="1738.2" y="2584.5" font-size="15.7" text-anchor="middle">400</text><line x1="1805.7" y1="2563.1" x2="1805.7" y2="2567.7" stroke="#000" stroke-width="1.3"/><text x="1805.7" y="2584.5" font-size="15.7" text-anchor="middle">800</text><line x1="1873.2" y1="2563.1" x2="1873.2" y2="2567.7" stroke="#000" stroke-width="1.3"/><text x="1873.2" y="2584.5" font-size="15.7" text-anchor="middle">1600</text><line x1="1940.7" y1="2563.1" x2="1940.7" y2="2567.7" stroke="#000" stroke-width="1.3"/><text x="1940.7" y="2584.5" font-size="15.7" text-anchor="middle">3200</text><line x1="2008.2" y1="2563.1" x2="2008.2" y2="2567.7" stroke="#000" stroke-width="1.3"/><text x="2008.2" y="2584.5" font-size="15.7" text-anchor="middle">6400</text><line x1="2075.7" y1="2563.1" x2="2075.7" y2="2567.7" stroke="#000" stroke-width="1.3"/><text x="2075.7" y="2584.5" font-size="15.7" text-anchor="middle">12800</text><line x1="2143.2" y1="2563.1" x2="2143.2" y2="2567.7" stroke="#000" stroke-width="1.3"/><text x="2143.2" y="2584.5" font-size="15.7" text-anchor="middle">25600</text><text x="1859.2" y="2611.3" font-size="24" text-anchor="middle">steps</text><text transform="translate(1504.0,2373.9) rotate(-90)" font-size="23.8" text-anchor="middle">ACC</text><text x="1859.2" y="2176.5" font-size="28.5" text-anchor="middle">qasc</text></g>
</svg></body></html>
